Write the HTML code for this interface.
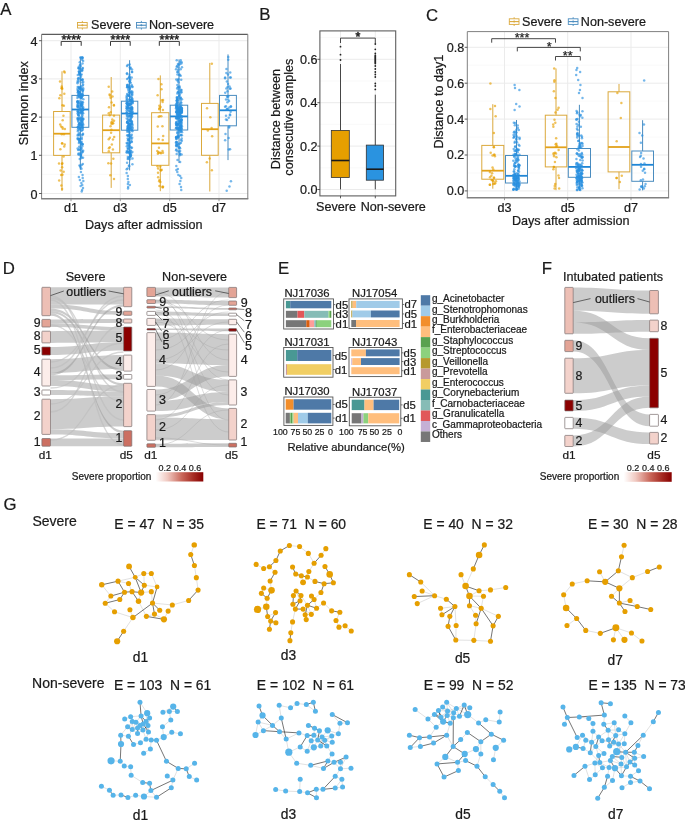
<!DOCTYPE html>
<html><head><meta charset="utf-8"><title>Figure</title>
<style>html,body{margin:0;padding:0;background:#fff;}svg{display:block;will-change:transform;}text{font-family:"Liberation Sans", sans-serif;}</style>
</head><body>
<svg width="685" height="824" viewBox="0 0 685 824" font-family="Liberation Sans, sans-serif">
<rect x="0" y="0" width="685" height="824" fill="#FFFFFF"/>
<g>
<line x1="41.60" y1="174.40" x2="247.80" y2="174.40" stroke="#F5F5F5" stroke-width="0.6"/>
<line x1="41.60" y1="136.20" x2="247.80" y2="136.20" stroke="#F5F5F5" stroke-width="0.6"/>
<line x1="41.60" y1="98.00" x2="247.80" y2="98.00" stroke="#F5F5F5" stroke-width="0.6"/>
<line x1="41.60" y1="59.80" x2="247.80" y2="59.80" stroke="#F5F5F5" stroke-width="0.6"/>
<line x1="41.60" y1="193.50" x2="247.80" y2="193.50" stroke="#EBEBEB" stroke-width="1"/>
<line x1="41.60" y1="155.30" x2="247.80" y2="155.30" stroke="#EBEBEB" stroke-width="1"/>
<line x1="41.60" y1="117.10" x2="247.80" y2="117.10" stroke="#EBEBEB" stroke-width="1"/>
<line x1="41.60" y1="78.90" x2="247.80" y2="78.90" stroke="#EBEBEB" stroke-width="1"/>
<line x1="41.60" y1="40.70" x2="247.80" y2="40.70" stroke="#EBEBEB" stroke-width="1"/>
<line x1="71.00" y1="34.30" x2="71.00" y2="198.80" stroke="#EBEBEB" stroke-width="1"/>
<line x1="120.30" y1="34.30" x2="120.30" y2="198.80" stroke="#EBEBEB" stroke-width="1"/>
<line x1="169.70" y1="34.30" x2="169.70" y2="198.80" stroke="#EBEBEB" stroke-width="1"/>
<line x1="219.00" y1="34.30" x2="219.00" y2="198.80" stroke="#EBEBEB" stroke-width="1"/>
<line x1="62.00" y1="71.30" x2="62.00" y2="111.50" stroke="#DBA93C" stroke-width="1"/>
<line x1="62.00" y1="155.40" x2="62.00" y2="191.00" stroke="#DBA93C" stroke-width="1"/>
<rect x="53.60" y="111.50" width="16.60" height="43.90" fill="none" stroke="#DBA93C" stroke-width="1.0"/>
<line x1="53.60" y1="133.70" x2="70.20" y2="133.70" stroke="#E3A21A" stroke-width="1.8"/>
<line x1="80.35" y1="56.70" x2="80.35" y2="95.40" stroke="#4A8CBF" stroke-width="1"/>
<line x1="80.35" y1="127.30" x2="80.35" y2="169.80" stroke="#4A8CBF" stroke-width="1"/>
<rect x="71.90" y="95.40" width="16.90" height="31.90" fill="none" stroke="#4A8CBF" stroke-width="1.0"/>
<line x1="71.90" y1="109.50" x2="88.80" y2="109.50" stroke="#1F86D6" stroke-width="1.8"/>
<line x1="111.20" y1="77.00" x2="111.20" y2="115.10" stroke="#DBA93C" stroke-width="1"/>
<line x1="111.20" y1="152.80" x2="111.20" y2="187.90" stroke="#DBA93C" stroke-width="1"/>
<rect x="102.60" y="115.10" width="17.10" height="37.70" fill="none" stroke="#DBA93C" stroke-width="1.0"/>
<line x1="102.60" y1="130.20" x2="119.70" y2="130.20" stroke="#E3A21A" stroke-width="1.8"/>
<line x1="129.60" y1="60.20" x2="129.60" y2="101.20" stroke="#4A8CBF" stroke-width="1"/>
<line x1="129.60" y1="130.20" x2="129.60" y2="170.40" stroke="#4A8CBF" stroke-width="1"/>
<rect x="121.40" y="101.20" width="16.40" height="29.00" fill="none" stroke="#4A8CBF" stroke-width="1.0"/>
<line x1="121.40" y1="113.50" x2="137.80" y2="113.50" stroke="#1F86D6" stroke-width="1.8"/>
<line x1="160.30" y1="75.40" x2="160.30" y2="112.70" stroke="#DBA93C" stroke-width="1"/>
<line x1="160.30" y1="165.30" x2="160.30" y2="191.20" stroke="#DBA93C" stroke-width="1"/>
<rect x="151.60" y="112.70" width="17.30" height="52.60" fill="none" stroke="#DBA93C" stroke-width="1.0"/>
<line x1="151.60" y1="143.40" x2="168.90" y2="143.40" stroke="#E3A21A" stroke-width="1.8"/>
<line x1="179.00" y1="59.40" x2="179.00" y2="105.20" stroke="#4A8CBF" stroke-width="1"/>
<line x1="179.00" y1="130.00" x2="179.00" y2="163.00" stroke="#4A8CBF" stroke-width="1"/>
<rect x="170.20" y="105.20" width="17.50" height="24.80" fill="none" stroke="#4A8CBF" stroke-width="1.0"/>
<line x1="170.20" y1="116.40" x2="187.70" y2="116.40" stroke="#1F86D6" stroke-width="1.8"/>
<line x1="209.80" y1="62.90" x2="209.80" y2="103.40" stroke="#DBA93C" stroke-width="1"/>
<line x1="209.80" y1="155.30" x2="209.80" y2="191.50" stroke="#DBA93C" stroke-width="1"/>
<rect x="201.50" y="103.40" width="16.70" height="51.90" fill="none" stroke="#DBA93C" stroke-width="1.0"/>
<line x1="201.50" y1="129.20" x2="218.20" y2="129.20" stroke="#E3A21A" stroke-width="1.8"/>
<line x1="228.00" y1="54.40" x2="228.00" y2="95.40" stroke="#4A8CBF" stroke-width="1"/>
<line x1="228.00" y1="125.80" x2="228.00" y2="160.10" stroke="#4A8CBF" stroke-width="1"/>
<rect x="219.50" y="95.40" width="16.90" height="30.40" fill="none" stroke="#4A8CBF" stroke-width="1.0"/>
<line x1="219.50" y1="110.30" x2="236.40" y2="110.30" stroke="#1F86D6" stroke-width="1.8"/>
<circle cx="61.36" cy="185.57" r="1.25" fill="#E69F00" fill-opacity="0.65"/>
<circle cx="60.02" cy="81.55" r="1.25" fill="#E69F00" fill-opacity="0.65"/>
<circle cx="62.01" cy="143.45" r="1.25" fill="#E69F00" fill-opacity="0.65"/>
<circle cx="64.89" cy="129.01" r="1.25" fill="#E69F00" fill-opacity="0.65"/>
<circle cx="63.62" cy="156.41" r="1.25" fill="#E69F00" fill-opacity="0.65"/>
<circle cx="62.24" cy="88.70" r="1.25" fill="#E69F00" fill-opacity="0.65"/>
<circle cx="64.16" cy="71.38" r="1.25" fill="#E69F00" fill-opacity="0.65"/>
<circle cx="60.39" cy="149.36" r="1.25" fill="#E69F00" fill-opacity="0.65"/>
<circle cx="62.08" cy="189.05" r="1.25" fill="#E69F00" fill-opacity="0.65"/>
<circle cx="64.71" cy="72.53" r="1.25" fill="#E69F00" fill-opacity="0.65"/>
<circle cx="62.47" cy="174.67" r="1.25" fill="#E69F00" fill-opacity="0.65"/>
<circle cx="61.75" cy="86.62" r="1.25" fill="#E69F00" fill-opacity="0.65"/>
<circle cx="60.62" cy="170.43" r="1.25" fill="#E69F00" fill-opacity="0.65"/>
<circle cx="62.29" cy="163.29" r="1.25" fill="#E69F00" fill-opacity="0.65"/>
<circle cx="64.74" cy="144.46" r="1.25" fill="#E69F00" fill-opacity="0.65"/>
<circle cx="59.03" cy="163.62" r="1.25" fill="#E69F00" fill-opacity="0.65"/>
<circle cx="63.70" cy="171.76" r="1.25" fill="#E69F00" fill-opacity="0.65"/>
<circle cx="63.92" cy="134.17" r="1.25" fill="#E69F00" fill-opacity="0.65"/>
<circle cx="64.32" cy="93.67" r="1.25" fill="#E69F00" fill-opacity="0.65"/>
<circle cx="63.44" cy="115.63" r="1.25" fill="#E69F00" fill-opacity="0.65"/>
<circle cx="63.85" cy="105.87" r="1.25" fill="#E69F00" fill-opacity="0.65"/>
<circle cx="62.11" cy="167.24" r="1.25" fill="#E69F00" fill-opacity="0.65"/>
<circle cx="62.37" cy="127.29" r="1.25" fill="#E69F00" fill-opacity="0.65"/>
<circle cx="61.56" cy="88.27" r="1.25" fill="#E69F00" fill-opacity="0.65"/>
<circle cx="59.34" cy="98.25" r="1.25" fill="#E69F00" fill-opacity="0.65"/>
<circle cx="64.22" cy="146.45" r="1.25" fill="#E69F00" fill-opacity="0.65"/>
<circle cx="62.42" cy="105.32" r="1.25" fill="#E69F00" fill-opacity="0.65"/>
<circle cx="60.20" cy="124.58" r="1.25" fill="#E69F00" fill-opacity="0.65"/>
<circle cx="62.03" cy="164.04" r="1.25" fill="#E69F00" fill-opacity="0.65"/>
<circle cx="61.91" cy="87.96" r="1.25" fill="#E69F00" fill-opacity="0.65"/>
<circle cx="61.14" cy="174.94" r="1.25" fill="#E69F00" fill-opacity="0.65"/>
<circle cx="61.08" cy="126.47" r="1.25" fill="#E69F00" fill-opacity="0.65"/>
<circle cx="62.23" cy="143.23" r="1.25" fill="#E69F00" fill-opacity="0.65"/>
<circle cx="62.74" cy="128.78" r="1.25" fill="#E69F00" fill-opacity="0.65"/>
<circle cx="62.67" cy="120.23" r="1.25" fill="#E69F00" fill-opacity="0.65"/>
<circle cx="61.75" cy="134.34" r="1.25" fill="#E69F00" fill-opacity="0.65"/>
<circle cx="59.17" cy="180.44" r="1.25" fill="#E69F00" fill-opacity="0.65"/>
<circle cx="60.38" cy="95.15" r="1.25" fill="#E69F00" fill-opacity="0.65"/>
<circle cx="82.24" cy="152.14" r="1.25" fill="#2A90E0" fill-opacity="0.65"/>
<circle cx="80.98" cy="87.60" r="1.25" fill="#2A90E0" fill-opacity="0.65"/>
<circle cx="79.45" cy="88.30" r="1.25" fill="#2A90E0" fill-opacity="0.65"/>
<circle cx="78.94" cy="124.48" r="1.25" fill="#2A90E0" fill-opacity="0.65"/>
<circle cx="81.60" cy="96.57" r="1.25" fill="#2A90E0" fill-opacity="0.65"/>
<circle cx="82.59" cy="127.92" r="1.25" fill="#2A90E0" fill-opacity="0.65"/>
<circle cx="80.62" cy="66.36" r="1.25" fill="#2A90E0" fill-opacity="0.65"/>
<circle cx="78.26" cy="153.85" r="1.25" fill="#2A90E0" fill-opacity="0.65"/>
<circle cx="82.35" cy="110.74" r="1.25" fill="#2A90E0" fill-opacity="0.65"/>
<circle cx="80.26" cy="149.71" r="1.25" fill="#2A90E0" fill-opacity="0.65"/>
<circle cx="80.15" cy="138.90" r="1.25" fill="#2A90E0" fill-opacity="0.65"/>
<circle cx="77.62" cy="101.81" r="1.25" fill="#2A90E0" fill-opacity="0.65"/>
<circle cx="80.41" cy="117.93" r="1.25" fill="#2A90E0" fill-opacity="0.65"/>
<circle cx="81.82" cy="143.73" r="1.25" fill="#2A90E0" fill-opacity="0.65"/>
<circle cx="79.89" cy="112.85" r="1.25" fill="#2A90E0" fill-opacity="0.65"/>
<circle cx="79.48" cy="165.54" r="1.25" fill="#2A90E0" fill-opacity="0.65"/>
<circle cx="81.29" cy="98.35" r="1.25" fill="#2A90E0" fill-opacity="0.65"/>
<circle cx="77.47" cy="106.92" r="1.25" fill="#2A90E0" fill-opacity="0.65"/>
<circle cx="80.39" cy="128.06" r="1.25" fill="#2A90E0" fill-opacity="0.65"/>
<circle cx="83.03" cy="157.85" r="1.25" fill="#2A90E0" fill-opacity="0.65"/>
<circle cx="81.49" cy="157.25" r="1.25" fill="#2A90E0" fill-opacity="0.65"/>
<circle cx="79.76" cy="103.08" r="1.25" fill="#2A90E0" fill-opacity="0.65"/>
<circle cx="81.48" cy="168.76" r="1.25" fill="#2A90E0" fill-opacity="0.65"/>
<circle cx="80.98" cy="76.69" r="1.25" fill="#2A90E0" fill-opacity="0.65"/>
<circle cx="78.60" cy="154.86" r="1.25" fill="#2A90E0" fill-opacity="0.65"/>
<circle cx="78.60" cy="119.75" r="1.25" fill="#2A90E0" fill-opacity="0.65"/>
<circle cx="82.67" cy="120.73" r="1.25" fill="#2A90E0" fill-opacity="0.65"/>
<circle cx="78.96" cy="139.99" r="1.25" fill="#2A90E0" fill-opacity="0.65"/>
<circle cx="77.80" cy="90.58" r="1.25" fill="#2A90E0" fill-opacity="0.65"/>
<circle cx="82.33" cy="124.78" r="1.25" fill="#2A90E0" fill-opacity="0.65"/>
<circle cx="80.49" cy="126.22" r="1.25" fill="#2A90E0" fill-opacity="0.65"/>
<circle cx="79.56" cy="101.27" r="1.25" fill="#2A90E0" fill-opacity="0.65"/>
<circle cx="80.42" cy="109.65" r="1.25" fill="#2A90E0" fill-opacity="0.65"/>
<circle cx="81.77" cy="58.17" r="1.25" fill="#2A90E0" fill-opacity="0.65"/>
<circle cx="78.36" cy="93.94" r="1.25" fill="#2A90E0" fill-opacity="0.65"/>
<circle cx="81.27" cy="97.82" r="1.25" fill="#2A90E0" fill-opacity="0.65"/>
<circle cx="81.63" cy="94.39" r="1.25" fill="#2A90E0" fill-opacity="0.65"/>
<circle cx="82.24" cy="102.58" r="1.25" fill="#2A90E0" fill-opacity="0.65"/>
<circle cx="78.97" cy="115.68" r="1.25" fill="#2A90E0" fill-opacity="0.65"/>
<circle cx="81.01" cy="155.95" r="1.25" fill="#2A90E0" fill-opacity="0.65"/>
<circle cx="78.74" cy="112.96" r="1.25" fill="#2A90E0" fill-opacity="0.65"/>
<circle cx="80.72" cy="155.60" r="1.25" fill="#2A90E0" fill-opacity="0.65"/>
<circle cx="78.38" cy="118.40" r="1.25" fill="#2A90E0" fill-opacity="0.65"/>
<circle cx="82.09" cy="125.01" r="1.25" fill="#2A90E0" fill-opacity="0.65"/>
<circle cx="82.55" cy="57.40" r="1.25" fill="#2A90E0" fill-opacity="0.65"/>
<circle cx="79.33" cy="141.23" r="1.25" fill="#2A90E0" fill-opacity="0.65"/>
<circle cx="78.68" cy="86.99" r="1.25" fill="#2A90E0" fill-opacity="0.65"/>
<circle cx="83.13" cy="113.29" r="1.25" fill="#2A90E0" fill-opacity="0.65"/>
<circle cx="81.59" cy="107.21" r="1.25" fill="#2A90E0" fill-opacity="0.65"/>
<circle cx="82.41" cy="70.01" r="1.25" fill="#2A90E0" fill-opacity="0.65"/>
<circle cx="77.53" cy="83.29" r="1.25" fill="#2A90E0" fill-opacity="0.65"/>
<circle cx="82.75" cy="127.04" r="1.25" fill="#2A90E0" fill-opacity="0.65"/>
<circle cx="81.08" cy="158.13" r="1.25" fill="#2A90E0" fill-opacity="0.65"/>
<circle cx="79.25" cy="134.51" r="1.25" fill="#2A90E0" fill-opacity="0.65"/>
<circle cx="79.94" cy="64.94" r="1.25" fill="#2A90E0" fill-opacity="0.65"/>
<circle cx="81.92" cy="79.93" r="1.25" fill="#2A90E0" fill-opacity="0.65"/>
<circle cx="82.06" cy="70.95" r="1.25" fill="#2A90E0" fill-opacity="0.65"/>
<circle cx="78.49" cy="114.68" r="1.25" fill="#2A90E0" fill-opacity="0.65"/>
<circle cx="81.11" cy="80.07" r="1.25" fill="#2A90E0" fill-opacity="0.65"/>
<circle cx="78.34" cy="91.04" r="1.25" fill="#2A90E0" fill-opacity="0.65"/>
<circle cx="83.19" cy="150.72" r="1.25" fill="#2A90E0" fill-opacity="0.65"/>
<circle cx="80.01" cy="128.96" r="1.25" fill="#2A90E0" fill-opacity="0.65"/>
<circle cx="82.83" cy="164.11" r="1.25" fill="#2A90E0" fill-opacity="0.65"/>
<circle cx="81.72" cy="88.76" r="1.25" fill="#2A90E0" fill-opacity="0.65"/>
<circle cx="80.99" cy="120.45" r="1.25" fill="#2A90E0" fill-opacity="0.65"/>
<circle cx="78.92" cy="71.33" r="1.25" fill="#2A90E0" fill-opacity="0.65"/>
<circle cx="80.51" cy="98.55" r="1.25" fill="#2A90E0" fill-opacity="0.65"/>
<circle cx="78.18" cy="138.64" r="1.25" fill="#2A90E0" fill-opacity="0.65"/>
<circle cx="78.18" cy="78.54" r="1.25" fill="#2A90E0" fill-opacity="0.65"/>
<circle cx="81.64" cy="74.42" r="1.25" fill="#2A90E0" fill-opacity="0.65"/>
<circle cx="79.52" cy="123.51" r="1.25" fill="#2A90E0" fill-opacity="0.65"/>
<circle cx="81.86" cy="57.18" r="1.25" fill="#2A90E0" fill-opacity="0.65"/>
<circle cx="78.79" cy="96.69" r="1.25" fill="#2A90E0" fill-opacity="0.65"/>
<circle cx="81.66" cy="164.92" r="1.25" fill="#2A90E0" fill-opacity="0.65"/>
<circle cx="81.66" cy="137.48" r="1.25" fill="#2A90E0" fill-opacity="0.65"/>
<circle cx="79.18" cy="72.99" r="1.25" fill="#2A90E0" fill-opacity="0.65"/>
<circle cx="77.99" cy="134.41" r="1.25" fill="#2A90E0" fill-opacity="0.65"/>
<circle cx="79.73" cy="158.92" r="1.25" fill="#2A90E0" fill-opacity="0.65"/>
<circle cx="80.30" cy="166.01" r="1.25" fill="#2A90E0" fill-opacity="0.65"/>
<circle cx="77.95" cy="126.77" r="1.25" fill="#2A90E0" fill-opacity="0.65"/>
<circle cx="78.47" cy="68.08" r="1.25" fill="#2A90E0" fill-opacity="0.65"/>
<circle cx="77.68" cy="117.99" r="1.25" fill="#2A90E0" fill-opacity="0.65"/>
<circle cx="80.94" cy="155.01" r="1.25" fill="#2A90E0" fill-opacity="0.65"/>
<circle cx="82.68" cy="127.75" r="1.25" fill="#2A90E0" fill-opacity="0.65"/>
<circle cx="78.65" cy="68.14" r="1.25" fill="#2A90E0" fill-opacity="0.65"/>
<circle cx="77.56" cy="101.74" r="1.25" fill="#2A90E0" fill-opacity="0.65"/>
<circle cx="81.57" cy="110.62" r="1.25" fill="#2A90E0" fill-opacity="0.65"/>
<circle cx="82.24" cy="94.23" r="1.25" fill="#2A90E0" fill-opacity="0.65"/>
<circle cx="83.13" cy="61.01" r="1.25" fill="#2A90E0" fill-opacity="0.65"/>
<circle cx="81.03" cy="153.56" r="1.25" fill="#2A90E0" fill-opacity="0.65"/>
<circle cx="79.40" cy="77.71" r="1.25" fill="#2A90E0" fill-opacity="0.65"/>
<circle cx="82.38" cy="104.73" r="1.25" fill="#2A90E0" fill-opacity="0.65"/>
<circle cx="78.06" cy="119.14" r="1.25" fill="#2A90E0" fill-opacity="0.65"/>
<circle cx="81.51" cy="113.89" r="1.25" fill="#2A90E0" fill-opacity="0.65"/>
<circle cx="77.92" cy="139.23" r="1.25" fill="#2A90E0" fill-opacity="0.65"/>
<circle cx="79.75" cy="74.03" r="1.25" fill="#2A90E0" fill-opacity="0.65"/>
<circle cx="80.32" cy="104.47" r="1.25" fill="#2A90E0" fill-opacity="0.65"/>
<circle cx="79.62" cy="71.81" r="1.25" fill="#2A90E0" fill-opacity="0.65"/>
<circle cx="78.36" cy="115.32" r="1.25" fill="#2A90E0" fill-opacity="0.65"/>
<circle cx="78.74" cy="124.58" r="1.25" fill="#2A90E0" fill-opacity="0.65"/>
<circle cx="82.27" cy="68.42" r="1.25" fill="#2A90E0" fill-opacity="0.65"/>
<circle cx="80.13" cy="119.19" r="1.25" fill="#2A90E0" fill-opacity="0.65"/>
<circle cx="80.83" cy="103.80" r="1.25" fill="#2A90E0" fill-opacity="0.65"/>
<circle cx="78.62" cy="128.17" r="1.25" fill="#2A90E0" fill-opacity="0.65"/>
<circle cx="81.64" cy="130.37" r="1.25" fill="#2A90E0" fill-opacity="0.65"/>
<circle cx="79.33" cy="96.40" r="1.25" fill="#2A90E0" fill-opacity="0.65"/>
<circle cx="80.91" cy="154.30" r="1.25" fill="#2A90E0" fill-opacity="0.65"/>
<circle cx="82.81" cy="123.60" r="1.25" fill="#2A90E0" fill-opacity="0.65"/>
<circle cx="83.32" cy="124.86" r="1.25" fill="#2A90E0" fill-opacity="0.65"/>
<circle cx="77.63" cy="148.61" r="1.25" fill="#2A90E0" fill-opacity="0.65"/>
<circle cx="82.13" cy="59.68" r="1.25" fill="#2A90E0" fill-opacity="0.65"/>
<circle cx="82.50" cy="63.40" r="1.25" fill="#2A90E0" fill-opacity="0.65"/>
<circle cx="79.27" cy="94.82" r="1.25" fill="#2A90E0" fill-opacity="0.65"/>
<circle cx="79.65" cy="69.08" r="1.25" fill="#2A90E0" fill-opacity="0.65"/>
<circle cx="80.83" cy="149.16" r="1.25" fill="#2A90E0" fill-opacity="0.65"/>
<circle cx="82.86" cy="68.06" r="1.25" fill="#2A90E0" fill-opacity="0.65"/>
<circle cx="79.75" cy="62.18" r="1.25" fill="#2A90E0" fill-opacity="0.65"/>
<circle cx="82.63" cy="57.93" r="1.25" fill="#2A90E0" fill-opacity="0.65"/>
<circle cx="81.90" cy="125.57" r="1.25" fill="#2A90E0" fill-opacity="0.65"/>
<circle cx="78.26" cy="91.81" r="1.25" fill="#2A90E0" fill-opacity="0.65"/>
<circle cx="82.83" cy="85.58" r="1.25" fill="#2A90E0" fill-opacity="0.65"/>
<circle cx="77.44" cy="97.91" r="1.25" fill="#2A90E0" fill-opacity="0.65"/>
<circle cx="78.22" cy="112.31" r="1.25" fill="#2A90E0" fill-opacity="0.65"/>
<circle cx="81.34" cy="104.82" r="1.25" fill="#2A90E0" fill-opacity="0.65"/>
<circle cx="77.69" cy="110.65" r="1.25" fill="#2A90E0" fill-opacity="0.65"/>
<circle cx="79.63" cy="87.98" r="1.25" fill="#2A90E0" fill-opacity="0.65"/>
<circle cx="78.13" cy="103.03" r="1.25" fill="#2A90E0" fill-opacity="0.65"/>
<circle cx="80.13" cy="74.24" r="1.25" fill="#2A90E0" fill-opacity="0.65"/>
<circle cx="82.39" cy="115.53" r="1.25" fill="#2A90E0" fill-opacity="0.65"/>
<circle cx="82.79" cy="109.93" r="1.25" fill="#2A90E0" fill-opacity="0.65"/>
<circle cx="77.56" cy="101.28" r="1.25" fill="#2A90E0" fill-opacity="0.65"/>
<circle cx="77.72" cy="96.28" r="1.25" fill="#2A90E0" fill-opacity="0.65"/>
<circle cx="82.39" cy="111.96" r="1.25" fill="#2A90E0" fill-opacity="0.65"/>
<circle cx="77.61" cy="138.31" r="1.25" fill="#2A90E0" fill-opacity="0.65"/>
<circle cx="78.99" cy="72.09" r="1.25" fill="#2A90E0" fill-opacity="0.65"/>
<circle cx="78.05" cy="120.40" r="1.25" fill="#2A90E0" fill-opacity="0.65"/>
<circle cx="77.90" cy="127.62" r="1.25" fill="#2A90E0" fill-opacity="0.65"/>
<circle cx="77.52" cy="102.46" r="1.25" fill="#2A90E0" fill-opacity="0.65"/>
<circle cx="81.18" cy="101.58" r="1.25" fill="#2A90E0" fill-opacity="0.65"/>
<circle cx="81.82" cy="105.71" r="1.25" fill="#2A90E0" fill-opacity="0.65"/>
<circle cx="81.47" cy="148.34" r="1.25" fill="#2A90E0" fill-opacity="0.65"/>
<circle cx="82.42" cy="113.51" r="1.25" fill="#2A90E0" fill-opacity="0.65"/>
<circle cx="81.33" cy="119.48" r="1.25" fill="#2A90E0" fill-opacity="0.65"/>
<circle cx="79.69" cy="92.22" r="1.25" fill="#2A90E0" fill-opacity="0.65"/>
<circle cx="81.14" cy="121.01" r="1.25" fill="#2A90E0" fill-opacity="0.65"/>
<circle cx="83.17" cy="119.21" r="1.25" fill="#2A90E0" fill-opacity="0.65"/>
<circle cx="81.20" cy="112.53" r="1.25" fill="#2A90E0" fill-opacity="0.65"/>
<circle cx="78.81" cy="66.75" r="1.25" fill="#2A90E0" fill-opacity="0.65"/>
<circle cx="77.71" cy="106.35" r="1.25" fill="#2A90E0" fill-opacity="0.65"/>
<circle cx="82.96" cy="133.75" r="1.25" fill="#2A90E0" fill-opacity="0.65"/>
<circle cx="80.89" cy="147.43" r="1.25" fill="#2A90E0" fill-opacity="0.65"/>
<circle cx="79.45" cy="126.44" r="1.25" fill="#2A90E0" fill-opacity="0.65"/>
<circle cx="80.98" cy="97.37" r="1.25" fill="#2A90E0" fill-opacity="0.65"/>
<circle cx="80.71" cy="95.14" r="1.25" fill="#2A90E0" fill-opacity="0.65"/>
<circle cx="80.48" cy="71.44" r="1.25" fill="#2A90E0" fill-opacity="0.65"/>
<circle cx="77.71" cy="87.00" r="1.25" fill="#2A90E0" fill-opacity="0.65"/>
<circle cx="79.47" cy="139.14" r="1.25" fill="#2A90E0" fill-opacity="0.65"/>
<circle cx="79.83" cy="107.10" r="1.25" fill="#2A90E0" fill-opacity="0.65"/>
<circle cx="78.55" cy="81.49" r="1.25" fill="#2A90E0" fill-opacity="0.65"/>
<circle cx="82.63" cy="144.34" r="1.25" fill="#2A90E0" fill-opacity="0.65"/>
<circle cx="79.89" cy="74.51" r="1.25" fill="#2A90E0" fill-opacity="0.65"/>
<circle cx="81.32" cy="142.79" r="1.25" fill="#2A90E0" fill-opacity="0.65"/>
<circle cx="81.63" cy="102.74" r="1.25" fill="#2A90E0" fill-opacity="0.65"/>
<circle cx="81.81" cy="118.46" r="1.25" fill="#2A90E0" fill-opacity="0.65"/>
<circle cx="81.68" cy="127.45" r="1.25" fill="#2A90E0" fill-opacity="0.65"/>
<circle cx="81.86" cy="116.43" r="1.25" fill="#2A90E0" fill-opacity="0.65"/>
<circle cx="78.86" cy="143.08" r="1.25" fill="#2A90E0" fill-opacity="0.65"/>
<circle cx="83.21" cy="109.92" r="1.25" fill="#2A90E0" fill-opacity="0.65"/>
<circle cx="78.26" cy="102.66" r="1.25" fill="#2A90E0" fill-opacity="0.65"/>
<circle cx="82.86" cy="95.65" r="1.25" fill="#2A90E0" fill-opacity="0.65"/>
<circle cx="82.48" cy="79.27" r="1.25" fill="#2A90E0" fill-opacity="0.65"/>
<circle cx="82.46" cy="94.97" r="1.25" fill="#2A90E0" fill-opacity="0.65"/>
<circle cx="77.67" cy="135.44" r="1.25" fill="#2A90E0" fill-opacity="0.65"/>
<circle cx="77.90" cy="131.30" r="1.25" fill="#2A90E0" fill-opacity="0.65"/>
<circle cx="82.23" cy="146.25" r="1.25" fill="#2A90E0" fill-opacity="0.65"/>
<circle cx="80.17" cy="128.34" r="1.25" fill="#2A90E0" fill-opacity="0.65"/>
<circle cx="79.57" cy="122.73" r="1.25" fill="#2A90E0" fill-opacity="0.65"/>
<circle cx="83.26" cy="81.99" r="1.25" fill="#2A90E0" fill-opacity="0.65"/>
<circle cx="77.59" cy="104.42" r="1.25" fill="#2A90E0" fill-opacity="0.65"/>
<circle cx="80.54" cy="167.49" r="1.25" fill="#2A90E0" fill-opacity="0.65"/>
<circle cx="80.01" cy="123.49" r="1.25" fill="#2A90E0" fill-opacity="0.65"/>
<circle cx="78.12" cy="106.61" r="1.25" fill="#2A90E0" fill-opacity="0.65"/>
<circle cx="79.72" cy="117.67" r="1.25" fill="#2A90E0" fill-opacity="0.65"/>
<circle cx="81.60" cy="69.84" r="1.25" fill="#2A90E0" fill-opacity="0.65"/>
<circle cx="82.64" cy="92.05" r="1.25" fill="#2A90E0" fill-opacity="0.65"/>
<circle cx="77.50" cy="82.11" r="1.25" fill="#2A90E0" fill-opacity="0.65"/>
<circle cx="80.50" cy="64.77" r="1.25" fill="#2A90E0" fill-opacity="0.65"/>
<circle cx="77.89" cy="129.80" r="1.25" fill="#2A90E0" fill-opacity="0.65"/>
<circle cx="82.15" cy="135.00" r="1.25" fill="#2A90E0" fill-opacity="0.65"/>
<circle cx="77.86" cy="105.81" r="1.25" fill="#2A90E0" fill-opacity="0.65"/>
<circle cx="77.56" cy="118.65" r="1.25" fill="#2A90E0" fill-opacity="0.65"/>
<circle cx="79.66" cy="88.43" r="1.25" fill="#2A90E0" fill-opacity="0.65"/>
<circle cx="81.75" cy="121.46" r="1.25" fill="#2A90E0" fill-opacity="0.65"/>
<circle cx="79.23" cy="129.65" r="1.25" fill="#2A90E0" fill-opacity="0.65"/>
<circle cx="78.13" cy="150.03" r="1.25" fill="#2A90E0" fill-opacity="0.65"/>
<circle cx="82.12" cy="150.72" r="1.25" fill="#2A90E0" fill-opacity="0.65"/>
<circle cx="82.19" cy="122.38" r="1.25" fill="#2A90E0" fill-opacity="0.65"/>
<circle cx="82.49" cy="106.84" r="1.25" fill="#2A90E0" fill-opacity="0.65"/>
<circle cx="79.17" cy="92.22" r="1.25" fill="#2A90E0" fill-opacity="0.65"/>
<circle cx="79.90" cy="96.83" r="1.25" fill="#2A90E0" fill-opacity="0.65"/>
<circle cx="78.82" cy="125.79" r="1.25" fill="#2A90E0" fill-opacity="0.65"/>
<circle cx="80.69" cy="124.44" r="1.25" fill="#2A90E0" fill-opacity="0.65"/>
<circle cx="79.33" cy="109.99" r="1.25" fill="#2A90E0" fill-opacity="0.65"/>
<circle cx="79.38" cy="153.45" r="1.25" fill="#2A90E0" fill-opacity="0.65"/>
<circle cx="82.05" cy="126.63" r="1.25" fill="#2A90E0" fill-opacity="0.65"/>
<circle cx="83.09" cy="109.93" r="1.25" fill="#2A90E0" fill-opacity="0.65"/>
<circle cx="80.85" cy="105.50" r="1.25" fill="#2A90E0" fill-opacity="0.65"/>
<circle cx="77.98" cy="111.54" r="1.25" fill="#2A90E0" fill-opacity="0.65"/>
<circle cx="81.27" cy="89.64" r="1.25" fill="#2A90E0" fill-opacity="0.65"/>
<circle cx="80.04" cy="89.00" r="1.25" fill="#2A90E0" fill-opacity="0.65"/>
<circle cx="83.28" cy="118.68" r="1.25" fill="#2A90E0" fill-opacity="0.65"/>
<circle cx="81.67" cy="97.26" r="1.25" fill="#2A90E0" fill-opacity="0.65"/>
<circle cx="82.36" cy="103.83" r="1.25" fill="#2A90E0" fill-opacity="0.65"/>
<circle cx="81.56" cy="141.73" r="1.25" fill="#2A90E0" fill-opacity="0.65"/>
<circle cx="80.56" cy="105.46" r="1.25" fill="#2A90E0" fill-opacity="0.65"/>
<circle cx="82.73" cy="144.19" r="1.25" fill="#2A90E0" fill-opacity="0.65"/>
<circle cx="82.34" cy="109.32" r="1.25" fill="#2A90E0" fill-opacity="0.65"/>
<circle cx="79.10" cy="149.56" r="1.25" fill="#2A90E0" fill-opacity="0.65"/>
<circle cx="78.29" cy="121.76" r="1.25" fill="#2A90E0" fill-opacity="0.65"/>
<circle cx="79.57" cy="72.72" r="1.25" fill="#2A90E0" fill-opacity="0.65"/>
<circle cx="80.48" cy="142.21" r="1.25" fill="#2A90E0" fill-opacity="0.65"/>
<circle cx="77.93" cy="105.17" r="1.25" fill="#2A90E0" fill-opacity="0.65"/>
<circle cx="79.42" cy="68.41" r="1.25" fill="#2A90E0" fill-opacity="0.65"/>
<circle cx="80.80" cy="112.50" r="1.25" fill="#2A90E0" fill-opacity="0.65"/>
<circle cx="77.61" cy="113.60" r="1.25" fill="#2A90E0" fill-opacity="0.65"/>
<circle cx="82.24" cy="82.50" r="1.25" fill="#2A90E0" fill-opacity="0.65"/>
<circle cx="81.26" cy="96.80" r="1.25" fill="#2A90E0" fill-opacity="0.65"/>
<circle cx="79.23" cy="123.95" r="1.25" fill="#2A90E0" fill-opacity="0.65"/>
<circle cx="79.14" cy="146.80" r="1.25" fill="#2A90E0" fill-opacity="0.65"/>
<circle cx="79.47" cy="139.63" r="1.25" fill="#2A90E0" fill-opacity="0.65"/>
<circle cx="79.30" cy="141.79" r="1.25" fill="#2A90E0" fill-opacity="0.65"/>
<circle cx="81.84" cy="139.10" r="1.25" fill="#2A90E0" fill-opacity="0.65"/>
<circle cx="80.36" cy="57.52" r="1.25" fill="#2A90E0" fill-opacity="0.65"/>
<circle cx="80.51" cy="94.30" r="1.25" fill="#2A90E0" fill-opacity="0.65"/>
<circle cx="78.24" cy="114.44" r="1.25" fill="#2A90E0" fill-opacity="0.65"/>
<circle cx="82.84" cy="129.84" r="1.25" fill="#2A90E0" fill-opacity="0.65"/>
<circle cx="79.30" cy="133.04" r="1.25" fill="#2A90E0" fill-opacity="0.65"/>
<circle cx="79.32" cy="93.28" r="1.25" fill="#2A90E0" fill-opacity="0.65"/>
<circle cx="77.76" cy="101.54" r="1.25" fill="#2A90E0" fill-opacity="0.65"/>
<circle cx="83.23" cy="89.85" r="1.25" fill="#2A90E0" fill-opacity="0.65"/>
<circle cx="80.23" cy="109.13" r="1.25" fill="#2A90E0" fill-opacity="0.65"/>
<circle cx="82.83" cy="108.65" r="1.25" fill="#2A90E0" fill-opacity="0.65"/>
<circle cx="82.92" cy="109.35" r="1.25" fill="#2A90E0" fill-opacity="0.65"/>
<circle cx="83.17" cy="88.13" r="1.25" fill="#2A90E0" fill-opacity="0.65"/>
<circle cx="82.24" cy="119.73" r="1.25" fill="#2A90E0" fill-opacity="0.65"/>
<circle cx="82.90" cy="102.37" r="1.25" fill="#2A90E0" fill-opacity="0.65"/>
<circle cx="82.88" cy="134.60" r="1.25" fill="#2A90E0" fill-opacity="0.65"/>
<circle cx="82.16" cy="117.77" r="1.25" fill="#2A90E0" fill-opacity="0.65"/>
<circle cx="78.16" cy="78.45" r="1.25" fill="#2A90E0" fill-opacity="0.65"/>
<circle cx="80.49" cy="79.32" r="1.25" fill="#2A90E0" fill-opacity="0.65"/>
<circle cx="80.80" cy="111.35" r="1.25" fill="#2A90E0" fill-opacity="0.65"/>
<circle cx="83.30" cy="99.35" r="1.25" fill="#2A90E0" fill-opacity="0.65"/>
<circle cx="82.05" cy="121.91" r="1.25" fill="#2A90E0" fill-opacity="0.65"/>
<circle cx="81.57" cy="130.79" r="1.25" fill="#2A90E0" fill-opacity="0.65"/>
<circle cx="81.83" cy="110.02" r="1.25" fill="#2A90E0" fill-opacity="0.65"/>
<circle cx="79.52" cy="74.24" r="1.25" fill="#2A90E0" fill-opacity="0.65"/>
<circle cx="83.00" cy="84.50" r="1.25" fill="#2A90E0" fill-opacity="0.65"/>
<circle cx="81.21" cy="124.62" r="1.25" fill="#2A90E0" fill-opacity="0.65"/>
<circle cx="79.77" cy="87.53" r="1.25" fill="#2A90E0" fill-opacity="0.65"/>
<circle cx="80.14" cy="138.79" r="1.25" fill="#2A90E0" fill-opacity="0.65"/>
<circle cx="83.23" cy="107.60" r="1.25" fill="#2A90E0" fill-opacity="0.65"/>
<circle cx="80.54" cy="123.23" r="1.25" fill="#2A90E0" fill-opacity="0.65"/>
<circle cx="78.36" cy="91.01" r="1.25" fill="#2A90E0" fill-opacity="0.65"/>
<circle cx="78.24" cy="107.41" r="1.25" fill="#2A90E0" fill-opacity="0.65"/>
<circle cx="81.47" cy="105.14" r="1.25" fill="#2A90E0" fill-opacity="0.65"/>
<circle cx="80.73" cy="124.67" r="1.25" fill="#2A90E0" fill-opacity="0.65"/>
<circle cx="82.79" cy="90.74" r="1.25" fill="#2A90E0" fill-opacity="0.65"/>
<circle cx="78.46" cy="91.87" r="1.25" fill="#2A90E0" fill-opacity="0.65"/>
<circle cx="79.82" cy="108.39" r="1.25" fill="#2A90E0" fill-opacity="0.65"/>
<circle cx="81.72" cy="111.21" r="1.25" fill="#2A90E0" fill-opacity="0.65"/>
<circle cx="77.65" cy="92.59" r="1.25" fill="#2A90E0" fill-opacity="0.65"/>
<circle cx="77.95" cy="127.35" r="1.25" fill="#2A90E0" fill-opacity="0.65"/>
<circle cx="80.62" cy="75.07" r="1.25" fill="#2A90E0" fill-opacity="0.65"/>
<circle cx="78.94" cy="138.93" r="1.25" fill="#2A90E0" fill-opacity="0.65"/>
<circle cx="77.99" cy="80.14" r="1.25" fill="#2A90E0" fill-opacity="0.65"/>
<circle cx="78.92" cy="92.28" r="1.25" fill="#2A90E0" fill-opacity="0.65"/>
<circle cx="81.14" cy="144.67" r="1.25" fill="#2A90E0" fill-opacity="0.65"/>
<circle cx="80.51" cy="88.69" r="1.25" fill="#2A90E0" fill-opacity="0.65"/>
<circle cx="77.82" cy="74.91" r="1.25" fill="#2A90E0" fill-opacity="0.65"/>
<circle cx="77.79" cy="111.50" r="1.25" fill="#2A90E0" fill-opacity="0.65"/>
<circle cx="82.45" cy="90.26" r="1.25" fill="#2A90E0" fill-opacity="0.65"/>
<circle cx="81.21" cy="86.14" r="1.25" fill="#2A90E0" fill-opacity="0.65"/>
<circle cx="78.39" cy="94.83" r="1.25" fill="#2A90E0" fill-opacity="0.65"/>
<circle cx="82.52" cy="93.94" r="1.25" fill="#2A90E0" fill-opacity="0.65"/>
<circle cx="77.48" cy="89.10" r="1.25" fill="#2A90E0" fill-opacity="0.65"/>
<circle cx="79.56" cy="87.98" r="1.25" fill="#2A90E0" fill-opacity="0.65"/>
<circle cx="82.44" cy="152.07" r="1.25" fill="#2A90E0" fill-opacity="0.65"/>
<circle cx="81.61" cy="95.44" r="1.25" fill="#2A90E0" fill-opacity="0.65"/>
<circle cx="79.05" cy="135.15" r="1.25" fill="#2A90E0" fill-opacity="0.65"/>
<circle cx="82.70" cy="80.11" r="1.25" fill="#2A90E0" fill-opacity="0.65"/>
<circle cx="80.94" cy="172.00" r="1.25" fill="#2A90E0" fill-opacity="0.65"/>
<circle cx="82.54" cy="175.00" r="1.25" fill="#2A90E0" fill-opacity="0.65"/>
<circle cx="82.71" cy="178.00" r="1.25" fill="#2A90E0" fill-opacity="0.65"/>
<circle cx="79.90" cy="180.00" r="1.25" fill="#2A90E0" fill-opacity="0.65"/>
<circle cx="81.40" cy="183.00" r="1.25" fill="#2A90E0" fill-opacity="0.65"/>
<circle cx="80.62" cy="186.00" r="1.25" fill="#2A90E0" fill-opacity="0.65"/>
<circle cx="83.02" cy="188.00" r="1.25" fill="#2A90E0" fill-opacity="0.65"/>
<circle cx="82.14" cy="190.00" r="1.25" fill="#2A90E0" fill-opacity="0.65"/>
<circle cx="81.70" cy="191.50" r="1.25" fill="#2A90E0" fill-opacity="0.65"/>
<circle cx="82.23" cy="185.00" r="1.25" fill="#2A90E0" fill-opacity="0.65"/>
<circle cx="83.34" cy="181.00" r="1.25" fill="#2A90E0" fill-opacity="0.65"/>
<circle cx="78.89" cy="177.00" r="1.25" fill="#2A90E0" fill-opacity="0.65"/>
<circle cx="114.03" cy="179.01" r="1.25" fill="#E69F00" fill-opacity="0.65"/>
<circle cx="112.50" cy="96.59" r="1.25" fill="#E69F00" fill-opacity="0.65"/>
<circle cx="108.75" cy="139.32" r="1.25" fill="#E69F00" fill-opacity="0.65"/>
<circle cx="108.98" cy="107.34" r="1.25" fill="#E69F00" fill-opacity="0.65"/>
<circle cx="114.00" cy="115.71" r="1.25" fill="#E69F00" fill-opacity="0.65"/>
<circle cx="109.58" cy="94.47" r="1.25" fill="#E69F00" fill-opacity="0.65"/>
<circle cx="108.36" cy="163.31" r="1.25" fill="#E69F00" fill-opacity="0.65"/>
<circle cx="109.72" cy="115.18" r="1.25" fill="#E69F00" fill-opacity="0.65"/>
<circle cx="111.08" cy="163.42" r="1.25" fill="#E69F00" fill-opacity="0.65"/>
<circle cx="113.91" cy="105.46" r="1.25" fill="#E69F00" fill-opacity="0.65"/>
<circle cx="110.59" cy="97.69" r="1.25" fill="#E69F00" fill-opacity="0.65"/>
<circle cx="112.54" cy="123.43" r="1.25" fill="#E69F00" fill-opacity="0.65"/>
<circle cx="113.21" cy="123.28" r="1.25" fill="#E69F00" fill-opacity="0.65"/>
<circle cx="108.73" cy="113.32" r="1.25" fill="#E69F00" fill-opacity="0.65"/>
<circle cx="111.87" cy="144.44" r="1.25" fill="#E69F00" fill-opacity="0.65"/>
<circle cx="114.17" cy="137.02" r="1.25" fill="#E69F00" fill-opacity="0.65"/>
<circle cx="111.50" cy="123.95" r="1.25" fill="#E69F00" fill-opacity="0.65"/>
<circle cx="111.41" cy="129.85" r="1.25" fill="#E69F00" fill-opacity="0.65"/>
<circle cx="110.28" cy="175.15" r="1.25" fill="#E69F00" fill-opacity="0.65"/>
<circle cx="113.88" cy="105.05" r="1.25" fill="#E69F00" fill-opacity="0.65"/>
<circle cx="114.02" cy="120.66" r="1.25" fill="#E69F00" fill-opacity="0.65"/>
<circle cx="108.82" cy="151.37" r="1.25" fill="#E69F00" fill-opacity="0.65"/>
<circle cx="111.52" cy="102.51" r="1.25" fill="#E69F00" fill-opacity="0.65"/>
<circle cx="110.72" cy="112.25" r="1.25" fill="#E69F00" fill-opacity="0.65"/>
<circle cx="112.23" cy="91.61" r="1.25" fill="#E69F00" fill-opacity="0.65"/>
<circle cx="108.91" cy="148.19" r="1.25" fill="#E69F00" fill-opacity="0.65"/>
<circle cx="109.79" cy="147.14" r="1.25" fill="#E69F00" fill-opacity="0.65"/>
<circle cx="109.87" cy="137.81" r="1.25" fill="#E69F00" fill-opacity="0.65"/>
<circle cx="111.08" cy="132.83" r="1.25" fill="#E69F00" fill-opacity="0.65"/>
<circle cx="112.96" cy="139.58" r="1.25" fill="#E69F00" fill-opacity="0.65"/>
<circle cx="113.35" cy="158.84" r="1.25" fill="#E69F00" fill-opacity="0.65"/>
<circle cx="112.92" cy="149.59" r="1.25" fill="#E69F00" fill-opacity="0.65"/>
<circle cx="112.26" cy="119.44" r="1.25" fill="#E69F00" fill-opacity="0.65"/>
<circle cx="108.72" cy="86.83" r="1.25" fill="#E69F00" fill-opacity="0.65"/>
<circle cx="110.54" cy="126.27" r="1.25" fill="#E69F00" fill-opacity="0.65"/>
<circle cx="112.21" cy="121.65" r="1.25" fill="#E69F00" fill-opacity="0.65"/>
<circle cx="109.97" cy="95.51" r="1.25" fill="#E69F00" fill-opacity="0.65"/>
<circle cx="111.25" cy="122.52" r="1.25" fill="#E69F00" fill-opacity="0.65"/>
<circle cx="127.74" cy="64.96" r="1.25" fill="#2A90E0" fill-opacity="0.65"/>
<circle cx="129.66" cy="64.54" r="1.25" fill="#2A90E0" fill-opacity="0.65"/>
<circle cx="129.73" cy="128.62" r="1.25" fill="#2A90E0" fill-opacity="0.65"/>
<circle cx="127.78" cy="151.13" r="1.25" fill="#2A90E0" fill-opacity="0.65"/>
<circle cx="128.76" cy="128.33" r="1.25" fill="#2A90E0" fill-opacity="0.65"/>
<circle cx="131.86" cy="72.03" r="1.25" fill="#2A90E0" fill-opacity="0.65"/>
<circle cx="132.49" cy="128.45" r="1.25" fill="#2A90E0" fill-opacity="0.65"/>
<circle cx="131.26" cy="103.84" r="1.25" fill="#2A90E0" fill-opacity="0.65"/>
<circle cx="126.99" cy="74.02" r="1.25" fill="#2A90E0" fill-opacity="0.65"/>
<circle cx="132.04" cy="113.64" r="1.25" fill="#2A90E0" fill-opacity="0.65"/>
<circle cx="129.35" cy="87.15" r="1.25" fill="#2A90E0" fill-opacity="0.65"/>
<circle cx="131.60" cy="99.92" r="1.25" fill="#2A90E0" fill-opacity="0.65"/>
<circle cx="127.66" cy="122.53" r="1.25" fill="#2A90E0" fill-opacity="0.65"/>
<circle cx="127.49" cy="126.19" r="1.25" fill="#2A90E0" fill-opacity="0.65"/>
<circle cx="132.04" cy="69.57" r="1.25" fill="#2A90E0" fill-opacity="0.65"/>
<circle cx="128.31" cy="125.29" r="1.25" fill="#2A90E0" fill-opacity="0.65"/>
<circle cx="126.86" cy="115.67" r="1.25" fill="#2A90E0" fill-opacity="0.65"/>
<circle cx="129.61" cy="152.75" r="1.25" fill="#2A90E0" fill-opacity="0.65"/>
<circle cx="132.54" cy="113.01" r="1.25" fill="#2A90E0" fill-opacity="0.65"/>
<circle cx="131.61" cy="108.69" r="1.25" fill="#2A90E0" fill-opacity="0.65"/>
<circle cx="128.98" cy="146.83" r="1.25" fill="#2A90E0" fill-opacity="0.65"/>
<circle cx="132.56" cy="125.11" r="1.25" fill="#2A90E0" fill-opacity="0.65"/>
<circle cx="131.38" cy="117.08" r="1.25" fill="#2A90E0" fill-opacity="0.65"/>
<circle cx="131.65" cy="121.36" r="1.25" fill="#2A90E0" fill-opacity="0.65"/>
<circle cx="130.48" cy="123.62" r="1.25" fill="#2A90E0" fill-opacity="0.65"/>
<circle cx="128.97" cy="165.57" r="1.25" fill="#2A90E0" fill-opacity="0.65"/>
<circle cx="132.03" cy="107.78" r="1.25" fill="#2A90E0" fill-opacity="0.65"/>
<circle cx="129.42" cy="143.31" r="1.25" fill="#2A90E0" fill-opacity="0.65"/>
<circle cx="132.21" cy="109.13" r="1.25" fill="#2A90E0" fill-opacity="0.65"/>
<circle cx="129.91" cy="96.75" r="1.25" fill="#2A90E0" fill-opacity="0.65"/>
<circle cx="132.06" cy="121.75" r="1.25" fill="#2A90E0" fill-opacity="0.65"/>
<circle cx="129.46" cy="115.64" r="1.25" fill="#2A90E0" fill-opacity="0.65"/>
<circle cx="129.16" cy="140.51" r="1.25" fill="#2A90E0" fill-opacity="0.65"/>
<circle cx="130.13" cy="151.86" r="1.25" fill="#2A90E0" fill-opacity="0.65"/>
<circle cx="128.50" cy="108.13" r="1.25" fill="#2A90E0" fill-opacity="0.65"/>
<circle cx="127.50" cy="103.98" r="1.25" fill="#2A90E0" fill-opacity="0.65"/>
<circle cx="130.14" cy="153.02" r="1.25" fill="#2A90E0" fill-opacity="0.65"/>
<circle cx="131.71" cy="77.51" r="1.25" fill="#2A90E0" fill-opacity="0.65"/>
<circle cx="128.27" cy="131.01" r="1.25" fill="#2A90E0" fill-opacity="0.65"/>
<circle cx="131.79" cy="123.78" r="1.25" fill="#2A90E0" fill-opacity="0.65"/>
<circle cx="131.32" cy="139.23" r="1.25" fill="#2A90E0" fill-opacity="0.65"/>
<circle cx="131.25" cy="113.32" r="1.25" fill="#2A90E0" fill-opacity="0.65"/>
<circle cx="129.09" cy="123.54" r="1.25" fill="#2A90E0" fill-opacity="0.65"/>
<circle cx="132.59" cy="101.48" r="1.25" fill="#2A90E0" fill-opacity="0.65"/>
<circle cx="131.35" cy="115.83" r="1.25" fill="#2A90E0" fill-opacity="0.65"/>
<circle cx="130.05" cy="126.36" r="1.25" fill="#2A90E0" fill-opacity="0.65"/>
<circle cx="127.28" cy="101.70" r="1.25" fill="#2A90E0" fill-opacity="0.65"/>
<circle cx="130.04" cy="159.34" r="1.25" fill="#2A90E0" fill-opacity="0.65"/>
<circle cx="126.69" cy="142.94" r="1.25" fill="#2A90E0" fill-opacity="0.65"/>
<circle cx="132.01" cy="114.33" r="1.25" fill="#2A90E0" fill-opacity="0.65"/>
<circle cx="128.62" cy="135.79" r="1.25" fill="#2A90E0" fill-opacity="0.65"/>
<circle cx="128.81" cy="129.09" r="1.25" fill="#2A90E0" fill-opacity="0.65"/>
<circle cx="129.91" cy="104.18" r="1.25" fill="#2A90E0" fill-opacity="0.65"/>
<circle cx="130.42" cy="104.57" r="1.25" fill="#2A90E0" fill-opacity="0.65"/>
<circle cx="130.10" cy="105.16" r="1.25" fill="#2A90E0" fill-opacity="0.65"/>
<circle cx="129.51" cy="74.65" r="1.25" fill="#2A90E0" fill-opacity="0.65"/>
<circle cx="130.41" cy="86.49" r="1.25" fill="#2A90E0" fill-opacity="0.65"/>
<circle cx="131.68" cy="85.05" r="1.25" fill="#2A90E0" fill-opacity="0.65"/>
<circle cx="129.28" cy="76.81" r="1.25" fill="#2A90E0" fill-opacity="0.65"/>
<circle cx="129.60" cy="108.83" r="1.25" fill="#2A90E0" fill-opacity="0.65"/>
<circle cx="131.46" cy="108.14" r="1.25" fill="#2A90E0" fill-opacity="0.65"/>
<circle cx="126.62" cy="106.04" r="1.25" fill="#2A90E0" fill-opacity="0.65"/>
<circle cx="127.56" cy="86.14" r="1.25" fill="#2A90E0" fill-opacity="0.65"/>
<circle cx="128.55" cy="101.86" r="1.25" fill="#2A90E0" fill-opacity="0.65"/>
<circle cx="127.88" cy="103.35" r="1.25" fill="#2A90E0" fill-opacity="0.65"/>
<circle cx="131.98" cy="147.67" r="1.25" fill="#2A90E0" fill-opacity="0.65"/>
<circle cx="127.49" cy="104.28" r="1.25" fill="#2A90E0" fill-opacity="0.65"/>
<circle cx="127.25" cy="122.35" r="1.25" fill="#2A90E0" fill-opacity="0.65"/>
<circle cx="128.50" cy="120.23" r="1.25" fill="#2A90E0" fill-opacity="0.65"/>
<circle cx="129.65" cy="145.21" r="1.25" fill="#2A90E0" fill-opacity="0.65"/>
<circle cx="131.53" cy="107.89" r="1.25" fill="#2A90E0" fill-opacity="0.65"/>
<circle cx="132.57" cy="111.58" r="1.25" fill="#2A90E0" fill-opacity="0.65"/>
<circle cx="131.71" cy="109.62" r="1.25" fill="#2A90E0" fill-opacity="0.65"/>
<circle cx="130.25" cy="142.59" r="1.25" fill="#2A90E0" fill-opacity="0.65"/>
<circle cx="126.83" cy="103.12" r="1.25" fill="#2A90E0" fill-opacity="0.65"/>
<circle cx="126.98" cy="66.02" r="1.25" fill="#2A90E0" fill-opacity="0.65"/>
<circle cx="130.38" cy="69.07" r="1.25" fill="#2A90E0" fill-opacity="0.65"/>
<circle cx="131.52" cy="94.98" r="1.25" fill="#2A90E0" fill-opacity="0.65"/>
<circle cx="128.19" cy="128.34" r="1.25" fill="#2A90E0" fill-opacity="0.65"/>
<circle cx="132.42" cy="164.33" r="1.25" fill="#2A90E0" fill-opacity="0.65"/>
<circle cx="129.90" cy="120.84" r="1.25" fill="#2A90E0" fill-opacity="0.65"/>
<circle cx="130.04" cy="154.36" r="1.25" fill="#2A90E0" fill-opacity="0.65"/>
<circle cx="130.31" cy="124.64" r="1.25" fill="#2A90E0" fill-opacity="0.65"/>
<circle cx="127.05" cy="84.95" r="1.25" fill="#2A90E0" fill-opacity="0.65"/>
<circle cx="127.62" cy="168.48" r="1.25" fill="#2A90E0" fill-opacity="0.65"/>
<circle cx="132.22" cy="86.56" r="1.25" fill="#2A90E0" fill-opacity="0.65"/>
<circle cx="128.20" cy="122.88" r="1.25" fill="#2A90E0" fill-opacity="0.65"/>
<circle cx="127.10" cy="79.04" r="1.25" fill="#2A90E0" fill-opacity="0.65"/>
<circle cx="128.29" cy="84.74" r="1.25" fill="#2A90E0" fill-opacity="0.65"/>
<circle cx="130.96" cy="129.09" r="1.25" fill="#2A90E0" fill-opacity="0.65"/>
<circle cx="128.18" cy="123.62" r="1.25" fill="#2A90E0" fill-opacity="0.65"/>
<circle cx="127.86" cy="149.12" r="1.25" fill="#2A90E0" fill-opacity="0.65"/>
<circle cx="128.26" cy="158.51" r="1.25" fill="#2A90E0" fill-opacity="0.65"/>
<circle cx="129.48" cy="131.89" r="1.25" fill="#2A90E0" fill-opacity="0.65"/>
<circle cx="131.03" cy="135.81" r="1.25" fill="#2A90E0" fill-opacity="0.65"/>
<circle cx="128.41" cy="105.58" r="1.25" fill="#2A90E0" fill-opacity="0.65"/>
<circle cx="131.84" cy="129.93" r="1.25" fill="#2A90E0" fill-opacity="0.65"/>
<circle cx="132.46" cy="87.05" r="1.25" fill="#2A90E0" fill-opacity="0.65"/>
<circle cx="131.53" cy="93.81" r="1.25" fill="#2A90E0" fill-opacity="0.65"/>
<circle cx="127.05" cy="162.69" r="1.25" fill="#2A90E0" fill-opacity="0.65"/>
<circle cx="128.49" cy="152.81" r="1.25" fill="#2A90E0" fill-opacity="0.65"/>
<circle cx="132.15" cy="116.15" r="1.25" fill="#2A90E0" fill-opacity="0.65"/>
<circle cx="131.76" cy="97.77" r="1.25" fill="#2A90E0" fill-opacity="0.65"/>
<circle cx="127.40" cy="128.19" r="1.25" fill="#2A90E0" fill-opacity="0.65"/>
<circle cx="129.25" cy="124.48" r="1.25" fill="#2A90E0" fill-opacity="0.65"/>
<circle cx="128.78" cy="91.85" r="1.25" fill="#2A90E0" fill-opacity="0.65"/>
<circle cx="131.08" cy="147.68" r="1.25" fill="#2A90E0" fill-opacity="0.65"/>
<circle cx="126.77" cy="118.41" r="1.25" fill="#2A90E0" fill-opacity="0.65"/>
<circle cx="128.49" cy="78.28" r="1.25" fill="#2A90E0" fill-opacity="0.65"/>
<circle cx="131.10" cy="109.01" r="1.25" fill="#2A90E0" fill-opacity="0.65"/>
<circle cx="131.92" cy="101.89" r="1.25" fill="#2A90E0" fill-opacity="0.65"/>
<circle cx="126.84" cy="112.16" r="1.25" fill="#2A90E0" fill-opacity="0.65"/>
<circle cx="130.13" cy="156.04" r="1.25" fill="#2A90E0" fill-opacity="0.65"/>
<circle cx="130.58" cy="119.19" r="1.25" fill="#2A90E0" fill-opacity="0.65"/>
<circle cx="131.84" cy="113.19" r="1.25" fill="#2A90E0" fill-opacity="0.65"/>
<circle cx="129.15" cy="166.27" r="1.25" fill="#2A90E0" fill-opacity="0.65"/>
<circle cx="132.44" cy="127.43" r="1.25" fill="#2A90E0" fill-opacity="0.65"/>
<circle cx="127.78" cy="159.01" r="1.25" fill="#2A90E0" fill-opacity="0.65"/>
<circle cx="127.29" cy="143.69" r="1.25" fill="#2A90E0" fill-opacity="0.65"/>
<circle cx="127.38" cy="87.12" r="1.25" fill="#2A90E0" fill-opacity="0.65"/>
<circle cx="130.12" cy="79.11" r="1.25" fill="#2A90E0" fill-opacity="0.65"/>
<circle cx="127.33" cy="121.73" r="1.25" fill="#2A90E0" fill-opacity="0.65"/>
<circle cx="128.20" cy="89.85" r="1.25" fill="#2A90E0" fill-opacity="0.65"/>
<circle cx="127.78" cy="147.91" r="1.25" fill="#2A90E0" fill-opacity="0.65"/>
<circle cx="126.93" cy="108.23" r="1.25" fill="#2A90E0" fill-opacity="0.65"/>
<circle cx="132.37" cy="94.63" r="1.25" fill="#2A90E0" fill-opacity="0.65"/>
<circle cx="128.61" cy="145.32" r="1.25" fill="#2A90E0" fill-opacity="0.65"/>
<circle cx="132.38" cy="131.25" r="1.25" fill="#2A90E0" fill-opacity="0.65"/>
<circle cx="130.94" cy="137.56" r="1.25" fill="#2A90E0" fill-opacity="0.65"/>
<circle cx="127.92" cy="87.56" r="1.25" fill="#2A90E0" fill-opacity="0.65"/>
<circle cx="132.20" cy="72.03" r="1.25" fill="#2A90E0" fill-opacity="0.65"/>
<circle cx="126.66" cy="169.28" r="1.25" fill="#2A90E0" fill-opacity="0.65"/>
<circle cx="132.49" cy="99.02" r="1.25" fill="#2A90E0" fill-opacity="0.65"/>
<circle cx="126.79" cy="146.14" r="1.25" fill="#2A90E0" fill-opacity="0.65"/>
<circle cx="128.12" cy="110.25" r="1.25" fill="#2A90E0" fill-opacity="0.65"/>
<circle cx="129.91" cy="82.25" r="1.25" fill="#2A90E0" fill-opacity="0.65"/>
<circle cx="126.66" cy="113.59" r="1.25" fill="#2A90E0" fill-opacity="0.65"/>
<circle cx="131.19" cy="100.47" r="1.25" fill="#2A90E0" fill-opacity="0.65"/>
<circle cx="127.11" cy="87.35" r="1.25" fill="#2A90E0" fill-opacity="0.65"/>
<circle cx="131.50" cy="117.49" r="1.25" fill="#2A90E0" fill-opacity="0.65"/>
<circle cx="126.81" cy="98.55" r="1.25" fill="#2A90E0" fill-opacity="0.65"/>
<circle cx="129.77" cy="67.40" r="1.25" fill="#2A90E0" fill-opacity="0.65"/>
<circle cx="127.86" cy="107.51" r="1.25" fill="#2A90E0" fill-opacity="0.65"/>
<circle cx="128.33" cy="126.77" r="1.25" fill="#2A90E0" fill-opacity="0.65"/>
<circle cx="129.54" cy="89.91" r="1.25" fill="#2A90E0" fill-opacity="0.65"/>
<circle cx="128.83" cy="104.91" r="1.25" fill="#2A90E0" fill-opacity="0.65"/>
<circle cx="128.95" cy="86.90" r="1.25" fill="#2A90E0" fill-opacity="0.65"/>
<circle cx="130.52" cy="100.61" r="1.25" fill="#2A90E0" fill-opacity="0.65"/>
<circle cx="127.77" cy="94.89" r="1.25" fill="#2A90E0" fill-opacity="0.65"/>
<circle cx="127.69" cy="114.06" r="1.25" fill="#2A90E0" fill-opacity="0.65"/>
<circle cx="130.71" cy="156.58" r="1.25" fill="#2A90E0" fill-opacity="0.65"/>
<circle cx="128.38" cy="139.59" r="1.25" fill="#2A90E0" fill-opacity="0.65"/>
<circle cx="132.20" cy="137.73" r="1.25" fill="#2A90E0" fill-opacity="0.65"/>
<circle cx="129.16" cy="95.77" r="1.25" fill="#2A90E0" fill-opacity="0.65"/>
<circle cx="129.44" cy="134.20" r="1.25" fill="#2A90E0" fill-opacity="0.65"/>
<circle cx="126.74" cy="100.36" r="1.25" fill="#2A90E0" fill-opacity="0.65"/>
<circle cx="126.72" cy="97.33" r="1.25" fill="#2A90E0" fill-opacity="0.65"/>
<circle cx="127.23" cy="131.65" r="1.25" fill="#2A90E0" fill-opacity="0.65"/>
<circle cx="130.35" cy="111.65" r="1.25" fill="#2A90E0" fill-opacity="0.65"/>
<circle cx="130.59" cy="118.22" r="1.25" fill="#2A90E0" fill-opacity="0.65"/>
<circle cx="132.31" cy="107.90" r="1.25" fill="#2A90E0" fill-opacity="0.65"/>
<circle cx="129.19" cy="132.00" r="1.25" fill="#2A90E0" fill-opacity="0.65"/>
<circle cx="130.85" cy="92.34" r="1.25" fill="#2A90E0" fill-opacity="0.65"/>
<circle cx="128.66" cy="130.36" r="1.25" fill="#2A90E0" fill-opacity="0.65"/>
<circle cx="127.04" cy="152.20" r="1.25" fill="#2A90E0" fill-opacity="0.65"/>
<circle cx="129.12" cy="111.01" r="1.25" fill="#2A90E0" fill-opacity="0.65"/>
<circle cx="130.81" cy="104.10" r="1.25" fill="#2A90E0" fill-opacity="0.65"/>
<circle cx="131.43" cy="141.37" r="1.25" fill="#2A90E0" fill-opacity="0.65"/>
<circle cx="132.31" cy="93.07" r="1.25" fill="#2A90E0" fill-opacity="0.65"/>
<circle cx="131.59" cy="122.77" r="1.25" fill="#2A90E0" fill-opacity="0.65"/>
<circle cx="129.98" cy="103.89" r="1.25" fill="#2A90E0" fill-opacity="0.65"/>
<circle cx="129.90" cy="120.93" r="1.25" fill="#2A90E0" fill-opacity="0.65"/>
<circle cx="129.61" cy="99.15" r="1.25" fill="#2A90E0" fill-opacity="0.65"/>
<circle cx="129.47" cy="128.52" r="1.25" fill="#2A90E0" fill-opacity="0.65"/>
<circle cx="130.68" cy="127.41" r="1.25" fill="#2A90E0" fill-opacity="0.65"/>
<circle cx="130.05" cy="156.99" r="1.25" fill="#2A90E0" fill-opacity="0.65"/>
<circle cx="131.74" cy="106.83" r="1.25" fill="#2A90E0" fill-opacity="0.65"/>
<circle cx="129.30" cy="124.44" r="1.25" fill="#2A90E0" fill-opacity="0.65"/>
<circle cx="129.43" cy="81.34" r="1.25" fill="#2A90E0" fill-opacity="0.65"/>
<circle cx="131.59" cy="99.13" r="1.25" fill="#2A90E0" fill-opacity="0.65"/>
<circle cx="130.65" cy="120.10" r="1.25" fill="#2A90E0" fill-opacity="0.65"/>
<circle cx="129.75" cy="88.51" r="1.25" fill="#2A90E0" fill-opacity="0.65"/>
<circle cx="129.98" cy="111.54" r="1.25" fill="#2A90E0" fill-opacity="0.65"/>
<circle cx="131.43" cy="97.10" r="1.25" fill="#2A90E0" fill-opacity="0.65"/>
<circle cx="130.24" cy="125.37" r="1.25" fill="#2A90E0" fill-opacity="0.65"/>
<circle cx="128.15" cy="128.35" r="1.25" fill="#2A90E0" fill-opacity="0.65"/>
<circle cx="128.46" cy="104.87" r="1.25" fill="#2A90E0" fill-opacity="0.65"/>
<circle cx="130.23" cy="129.77" r="1.25" fill="#2A90E0" fill-opacity="0.65"/>
<circle cx="126.88" cy="103.34" r="1.25" fill="#2A90E0" fill-opacity="0.65"/>
<circle cx="129.35" cy="116.33" r="1.25" fill="#2A90E0" fill-opacity="0.65"/>
<circle cx="131.95" cy="126.42" r="1.25" fill="#2A90E0" fill-opacity="0.65"/>
<circle cx="127.99" cy="127.31" r="1.25" fill="#2A90E0" fill-opacity="0.65"/>
<circle cx="129.26" cy="128.20" r="1.25" fill="#2A90E0" fill-opacity="0.65"/>
<circle cx="130.80" cy="155.58" r="1.25" fill="#2A90E0" fill-opacity="0.65"/>
<circle cx="132.15" cy="101.70" r="1.25" fill="#2A90E0" fill-opacity="0.65"/>
<circle cx="130.78" cy="110.66" r="1.25" fill="#2A90E0" fill-opacity="0.65"/>
<circle cx="130.35" cy="80.10" r="1.25" fill="#2A90E0" fill-opacity="0.65"/>
<circle cx="128.90" cy="135.11" r="1.25" fill="#2A90E0" fill-opacity="0.65"/>
<circle cx="129.22" cy="93.01" r="1.25" fill="#2A90E0" fill-opacity="0.65"/>
<circle cx="130.45" cy="102.64" r="1.25" fill="#2A90E0" fill-opacity="0.65"/>
<circle cx="128.74" cy="104.15" r="1.25" fill="#2A90E0" fill-opacity="0.65"/>
<circle cx="131.31" cy="123.82" r="1.25" fill="#2A90E0" fill-opacity="0.65"/>
<circle cx="126.65" cy="108.34" r="1.25" fill="#2A90E0" fill-opacity="0.65"/>
<circle cx="131.11" cy="108.32" r="1.25" fill="#2A90E0" fill-opacity="0.65"/>
<circle cx="131.05" cy="115.42" r="1.25" fill="#2A90E0" fill-opacity="0.65"/>
<circle cx="128.44" cy="107.38" r="1.25" fill="#2A90E0" fill-opacity="0.65"/>
<circle cx="126.69" cy="113.09" r="1.25" fill="#2A90E0" fill-opacity="0.65"/>
<circle cx="128.63" cy="95.58" r="1.25" fill="#2A90E0" fill-opacity="0.65"/>
<circle cx="130.14" cy="103.45" r="1.25" fill="#2A90E0" fill-opacity="0.65"/>
<circle cx="131.32" cy="91.26" r="1.25" fill="#2A90E0" fill-opacity="0.65"/>
<circle cx="131.82" cy="134.71" r="1.25" fill="#2A90E0" fill-opacity="0.65"/>
<circle cx="127.85" cy="135.85" r="1.25" fill="#2A90E0" fill-opacity="0.65"/>
<circle cx="127.09" cy="129.95" r="1.25" fill="#2A90E0" fill-opacity="0.65"/>
<circle cx="127.32" cy="121.77" r="1.25" fill="#2A90E0" fill-opacity="0.65"/>
<circle cx="132.53" cy="102.48" r="1.25" fill="#2A90E0" fill-opacity="0.65"/>
<circle cx="130.47" cy="127.26" r="1.25" fill="#2A90E0" fill-opacity="0.65"/>
<circle cx="127.37" cy="85.23" r="1.25" fill="#2A90E0" fill-opacity="0.65"/>
<circle cx="130.74" cy="67.84" r="1.25" fill="#2A90E0" fill-opacity="0.65"/>
<circle cx="132.36" cy="91.82" r="1.25" fill="#2A90E0" fill-opacity="0.65"/>
<circle cx="130.24" cy="150.55" r="1.25" fill="#2A90E0" fill-opacity="0.65"/>
<circle cx="128.00" cy="119.57" r="1.25" fill="#2A90E0" fill-opacity="0.65"/>
<circle cx="132.37" cy="151.97" r="1.25" fill="#2A90E0" fill-opacity="0.65"/>
<circle cx="130.80" cy="100.48" r="1.25" fill="#2A90E0" fill-opacity="0.65"/>
<circle cx="127.70" cy="138.57" r="1.25" fill="#2A90E0" fill-opacity="0.65"/>
<circle cx="131.20" cy="152.93" r="1.25" fill="#2A90E0" fill-opacity="0.65"/>
<circle cx="129.63" cy="138.03" r="1.25" fill="#2A90E0" fill-opacity="0.65"/>
<circle cx="130.04" cy="120.57" r="1.25" fill="#2A90E0" fill-opacity="0.65"/>
<circle cx="128.79" cy="140.23" r="1.25" fill="#2A90E0" fill-opacity="0.65"/>
<circle cx="128.36" cy="105.17" r="1.25" fill="#2A90E0" fill-opacity="0.65"/>
<circle cx="129.12" cy="157.23" r="1.25" fill="#2A90E0" fill-opacity="0.65"/>
<circle cx="129.76" cy="92.43" r="1.25" fill="#2A90E0" fill-opacity="0.65"/>
<circle cx="129.37" cy="99.64" r="1.25" fill="#2A90E0" fill-opacity="0.65"/>
<circle cx="131.80" cy="114.07" r="1.25" fill="#2A90E0" fill-opacity="0.65"/>
<circle cx="127.05" cy="99.51" r="1.25" fill="#2A90E0" fill-opacity="0.65"/>
<circle cx="127.79" cy="156.95" r="1.25" fill="#2A90E0" fill-opacity="0.65"/>
<circle cx="132.23" cy="130.15" r="1.25" fill="#2A90E0" fill-opacity="0.65"/>
<circle cx="130.25" cy="100.13" r="1.25" fill="#2A90E0" fill-opacity="0.65"/>
<circle cx="130.31" cy="155.02" r="1.25" fill="#2A90E0" fill-opacity="0.65"/>
<circle cx="130.38" cy="147.11" r="1.25" fill="#2A90E0" fill-opacity="0.65"/>
<circle cx="128.06" cy="106.58" r="1.25" fill="#2A90E0" fill-opacity="0.65"/>
<circle cx="128.97" cy="152.22" r="1.25" fill="#2A90E0" fill-opacity="0.65"/>
<circle cx="127.86" cy="142.88" r="1.25" fill="#2A90E0" fill-opacity="0.65"/>
<circle cx="127.51" cy="104.33" r="1.25" fill="#2A90E0" fill-opacity="0.65"/>
<circle cx="132.54" cy="103.31" r="1.25" fill="#2A90E0" fill-opacity="0.65"/>
<circle cx="131.06" cy="121.22" r="1.25" fill="#2A90E0" fill-opacity="0.65"/>
<circle cx="131.87" cy="141.97" r="1.25" fill="#2A90E0" fill-opacity="0.65"/>
<circle cx="126.61" cy="152.41" r="1.25" fill="#2A90E0" fill-opacity="0.65"/>
<circle cx="130.83" cy="150.77" r="1.25" fill="#2A90E0" fill-opacity="0.65"/>
<circle cx="128.44" cy="104.67" r="1.25" fill="#2A90E0" fill-opacity="0.65"/>
<circle cx="129.59" cy="80.92" r="1.25" fill="#2A90E0" fill-opacity="0.65"/>
<circle cx="130.65" cy="82.69" r="1.25" fill="#2A90E0" fill-opacity="0.65"/>
<circle cx="126.79" cy="150.93" r="1.25" fill="#2A90E0" fill-opacity="0.65"/>
<circle cx="128.82" cy="139.70" r="1.25" fill="#2A90E0" fill-opacity="0.65"/>
<circle cx="129.92" cy="142.83" r="1.25" fill="#2A90E0" fill-opacity="0.65"/>
<circle cx="131.85" cy="113.45" r="1.25" fill="#2A90E0" fill-opacity="0.65"/>
<circle cx="129.68" cy="115.61" r="1.25" fill="#2A90E0" fill-opacity="0.65"/>
<circle cx="128.51" cy="125.55" r="1.25" fill="#2A90E0" fill-opacity="0.65"/>
<circle cx="130.22" cy="124.95" r="1.25" fill="#2A90E0" fill-opacity="0.65"/>
<circle cx="130.10" cy="115.52" r="1.25" fill="#2A90E0" fill-opacity="0.65"/>
<circle cx="128.35" cy="95.78" r="1.25" fill="#2A90E0" fill-opacity="0.65"/>
<circle cx="129.89" cy="88.49" r="1.25" fill="#2A90E0" fill-opacity="0.65"/>
<circle cx="128.26" cy="117.35" r="1.25" fill="#2A90E0" fill-opacity="0.65"/>
<circle cx="126.67" cy="110.62" r="1.25" fill="#2A90E0" fill-opacity="0.65"/>
<circle cx="128.46" cy="148.63" r="1.25" fill="#2A90E0" fill-opacity="0.65"/>
<circle cx="127.12" cy="94.03" r="1.25" fill="#2A90E0" fill-opacity="0.65"/>
<circle cx="129.55" cy="77.24" r="1.25" fill="#2A90E0" fill-opacity="0.65"/>
<circle cx="129.61" cy="77.62" r="1.25" fill="#2A90E0" fill-opacity="0.65"/>
<circle cx="131.82" cy="112.85" r="1.25" fill="#2A90E0" fill-opacity="0.65"/>
<circle cx="131.09" cy="155.04" r="1.25" fill="#2A90E0" fill-opacity="0.65"/>
<circle cx="131.10" cy="107.21" r="1.25" fill="#2A90E0" fill-opacity="0.65"/>
<circle cx="132.54" cy="100.71" r="1.25" fill="#2A90E0" fill-opacity="0.65"/>
<circle cx="128.19" cy="122.88" r="1.25" fill="#2A90E0" fill-opacity="0.65"/>
<circle cx="128.84" cy="151.69" r="1.25" fill="#2A90E0" fill-opacity="0.65"/>
<circle cx="127.98" cy="140.42" r="1.25" fill="#2A90E0" fill-opacity="0.65"/>
<circle cx="127.21" cy="135.28" r="1.25" fill="#2A90E0" fill-opacity="0.65"/>
<circle cx="129.69" cy="136.57" r="1.25" fill="#2A90E0" fill-opacity="0.65"/>
<circle cx="129.67" cy="108.20" r="1.25" fill="#2A90E0" fill-opacity="0.65"/>
<circle cx="127.38" cy="115.64" r="1.25" fill="#2A90E0" fill-opacity="0.65"/>
<circle cx="132.14" cy="123.74" r="1.25" fill="#2A90E0" fill-opacity="0.65"/>
<circle cx="132.47" cy="158.45" r="1.25" fill="#2A90E0" fill-opacity="0.65"/>
<circle cx="127.01" cy="73.25" r="1.25" fill="#2A90E0" fill-opacity="0.65"/>
<circle cx="126.62" cy="103.52" r="1.25" fill="#2A90E0" fill-opacity="0.65"/>
<circle cx="126.97" cy="122.72" r="1.25" fill="#2A90E0" fill-opacity="0.65"/>
<circle cx="130.99" cy="109.07" r="1.25" fill="#2A90E0" fill-opacity="0.65"/>
<circle cx="131.72" cy="111.15" r="1.25" fill="#2A90E0" fill-opacity="0.65"/>
<circle cx="127.00" cy="108.65" r="1.25" fill="#2A90E0" fill-opacity="0.65"/>
<circle cx="126.65" cy="96.08" r="1.25" fill="#2A90E0" fill-opacity="0.65"/>
<circle cx="129.83" cy="125.99" r="1.25" fill="#2A90E0" fill-opacity="0.65"/>
<circle cx="128.60" cy="145.61" r="1.25" fill="#2A90E0" fill-opacity="0.65"/>
<circle cx="126.71" cy="106.93" r="1.25" fill="#2A90E0" fill-opacity="0.65"/>
<circle cx="126.65" cy="173.00" r="1.25" fill="#2A90E0" fill-opacity="0.65"/>
<circle cx="127.87" cy="176.00" r="1.25" fill="#2A90E0" fill-opacity="0.65"/>
<circle cx="127.80" cy="179.00" r="1.25" fill="#2A90E0" fill-opacity="0.65"/>
<circle cx="128.37" cy="182.00" r="1.25" fill="#2A90E0" fill-opacity="0.65"/>
<circle cx="129.90" cy="185.00" r="1.25" fill="#2A90E0" fill-opacity="0.65"/>
<circle cx="128.11" cy="187.00" r="1.25" fill="#2A90E0" fill-opacity="0.65"/>
<circle cx="128.00" cy="188.60" r="1.25" fill="#2A90E0" fill-opacity="0.65"/>
<circle cx="127.86" cy="184.00" r="1.25" fill="#2A90E0" fill-opacity="0.65"/>
<circle cx="161.41" cy="84.30" r="1.25" fill="#E69F00" fill-opacity="0.65"/>
<circle cx="157.72" cy="126.60" r="1.25" fill="#E69F00" fill-opacity="0.65"/>
<circle cx="158.42" cy="152.31" r="1.25" fill="#E69F00" fill-opacity="0.65"/>
<circle cx="160.51" cy="170.09" r="1.25" fill="#E69F00" fill-opacity="0.65"/>
<circle cx="163.21" cy="136.08" r="1.25" fill="#E69F00" fill-opacity="0.65"/>
<circle cx="161.66" cy="169.87" r="1.25" fill="#E69F00" fill-opacity="0.65"/>
<circle cx="158.45" cy="79.05" r="1.25" fill="#E69F00" fill-opacity="0.65"/>
<circle cx="159.44" cy="108.15" r="1.25" fill="#E69F00" fill-opacity="0.65"/>
<circle cx="163.07" cy="186.87" r="1.25" fill="#E69F00" fill-opacity="0.65"/>
<circle cx="160.35" cy="166.42" r="1.25" fill="#E69F00" fill-opacity="0.65"/>
<circle cx="162.52" cy="150.94" r="1.25" fill="#E69F00" fill-opacity="0.65"/>
<circle cx="162.45" cy="126.29" r="1.25" fill="#E69F00" fill-opacity="0.65"/>
<circle cx="161.99" cy="100.20" r="1.25" fill="#E69F00" fill-opacity="0.65"/>
<circle cx="161.06" cy="170.54" r="1.25" fill="#E69F00" fill-opacity="0.65"/>
<circle cx="161.30" cy="116.26" r="1.25" fill="#E69F00" fill-opacity="0.65"/>
<circle cx="159.35" cy="105.67" r="1.25" fill="#E69F00" fill-opacity="0.65"/>
<circle cx="158.02" cy="172.71" r="1.25" fill="#E69F00" fill-opacity="0.65"/>
<circle cx="162.99" cy="152.66" r="1.25" fill="#E69F00" fill-opacity="0.65"/>
<circle cx="157.50" cy="166.14" r="1.25" fill="#E69F00" fill-opacity="0.65"/>
<circle cx="158.93" cy="147.67" r="1.25" fill="#E69F00" fill-opacity="0.65"/>
<circle cx="160.98" cy="153.35" r="1.25" fill="#E69F00" fill-opacity="0.65"/>
<circle cx="163.09" cy="100.00" r="1.25" fill="#E69F00" fill-opacity="0.65"/>
<circle cx="158.56" cy="139.24" r="1.25" fill="#E69F00" fill-opacity="0.65"/>
<circle cx="158.78" cy="152.73" r="1.25" fill="#E69F00" fill-opacity="0.65"/>
<circle cx="162.39" cy="186.80" r="1.25" fill="#E69F00" fill-opacity="0.65"/>
<circle cx="159.26" cy="109.37" r="1.25" fill="#E69F00" fill-opacity="0.65"/>
<circle cx="159.72" cy="116.19" r="1.25" fill="#E69F00" fill-opacity="0.65"/>
<circle cx="159.46" cy="185.96" r="1.25" fill="#E69F00" fill-opacity="0.65"/>
<circle cx="157.60" cy="95.25" r="1.25" fill="#E69F00" fill-opacity="0.65"/>
<circle cx="162.95" cy="110.12" r="1.25" fill="#E69F00" fill-opacity="0.65"/>
<circle cx="161.49" cy="89.22" r="1.25" fill="#E69F00" fill-opacity="0.65"/>
<circle cx="157.34" cy="151.11" r="1.25" fill="#E69F00" fill-opacity="0.65"/>
<circle cx="157.88" cy="153.72" r="1.25" fill="#E69F00" fill-opacity="0.65"/>
<circle cx="158.11" cy="168.60" r="1.25" fill="#E69F00" fill-opacity="0.65"/>
<circle cx="159.51" cy="179.98" r="1.25" fill="#E69F00" fill-opacity="0.65"/>
<circle cx="162.64" cy="101.94" r="1.25" fill="#E69F00" fill-opacity="0.65"/>
<circle cx="158.15" cy="177.15" r="1.25" fill="#E69F00" fill-opacity="0.65"/>
<circle cx="158.67" cy="116.85" r="1.25" fill="#E69F00" fill-opacity="0.65"/>
<circle cx="159.17" cy="181.15" r="1.25" fill="#E69F00" fill-opacity="0.65"/>
<circle cx="160.36" cy="182.01" r="1.25" fill="#E69F00" fill-opacity="0.65"/>
<circle cx="162.71" cy="187.47" r="1.25" fill="#E69F00" fill-opacity="0.65"/>
<circle cx="160.54" cy="152.78" r="1.25" fill="#E69F00" fill-opacity="0.65"/>
<circle cx="162.72" cy="139.91" r="1.25" fill="#E69F00" fill-opacity="0.65"/>
<circle cx="160.55" cy="106.91" r="1.25" fill="#E69F00" fill-opacity="0.65"/>
<circle cx="178.48" cy="128.25" r="1.25" fill="#2A90E0" fill-opacity="0.65"/>
<circle cx="180.11" cy="110.52" r="1.25" fill="#2A90E0" fill-opacity="0.65"/>
<circle cx="179.58" cy="109.18" r="1.25" fill="#2A90E0" fill-opacity="0.65"/>
<circle cx="178.86" cy="117.41" r="1.25" fill="#2A90E0" fill-opacity="0.65"/>
<circle cx="179.78" cy="155.18" r="1.25" fill="#2A90E0" fill-opacity="0.65"/>
<circle cx="177.84" cy="136.87" r="1.25" fill="#2A90E0" fill-opacity="0.65"/>
<circle cx="176.38" cy="141.98" r="1.25" fill="#2A90E0" fill-opacity="0.65"/>
<circle cx="176.89" cy="141.89" r="1.25" fill="#2A90E0" fill-opacity="0.65"/>
<circle cx="181.84" cy="112.79" r="1.25" fill="#2A90E0" fill-opacity="0.65"/>
<circle cx="181.36" cy="63.39" r="1.25" fill="#2A90E0" fill-opacity="0.65"/>
<circle cx="180.96" cy="107.40" r="1.25" fill="#2A90E0" fill-opacity="0.65"/>
<circle cx="177.56" cy="124.22" r="1.25" fill="#2A90E0" fill-opacity="0.65"/>
<circle cx="181.03" cy="90.11" r="1.25" fill="#2A90E0" fill-opacity="0.65"/>
<circle cx="180.74" cy="60.22" r="1.25" fill="#2A90E0" fill-opacity="0.65"/>
<circle cx="179.25" cy="122.93" r="1.25" fill="#2A90E0" fill-opacity="0.65"/>
<circle cx="177.82" cy="131.73" r="1.25" fill="#2A90E0" fill-opacity="0.65"/>
<circle cx="176.64" cy="124.00" r="1.25" fill="#2A90E0" fill-opacity="0.65"/>
<circle cx="181.99" cy="132.25" r="1.25" fill="#2A90E0" fill-opacity="0.65"/>
<circle cx="181.99" cy="126.48" r="1.25" fill="#2A90E0" fill-opacity="0.65"/>
<circle cx="181.11" cy="116.36" r="1.25" fill="#2A90E0" fill-opacity="0.65"/>
<circle cx="178.67" cy="115.17" r="1.25" fill="#2A90E0" fill-opacity="0.65"/>
<circle cx="180.38" cy="110.59" r="1.25" fill="#2A90E0" fill-opacity="0.65"/>
<circle cx="181.46" cy="117.37" r="1.25" fill="#2A90E0" fill-opacity="0.65"/>
<circle cx="179.25" cy="151.73" r="1.25" fill="#2A90E0" fill-opacity="0.65"/>
<circle cx="176.75" cy="60.27" r="1.25" fill="#2A90E0" fill-opacity="0.65"/>
<circle cx="181.86" cy="140.81" r="1.25" fill="#2A90E0" fill-opacity="0.65"/>
<circle cx="179.23" cy="127.75" r="1.25" fill="#2A90E0" fill-opacity="0.65"/>
<circle cx="180.62" cy="120.56" r="1.25" fill="#2A90E0" fill-opacity="0.65"/>
<circle cx="179.74" cy="129.33" r="1.25" fill="#2A90E0" fill-opacity="0.65"/>
<circle cx="176.39" cy="125.02" r="1.25" fill="#2A90E0" fill-opacity="0.65"/>
<circle cx="178.77" cy="144.24" r="1.25" fill="#2A90E0" fill-opacity="0.65"/>
<circle cx="176.07" cy="69.36" r="1.25" fill="#2A90E0" fill-opacity="0.65"/>
<circle cx="177.60" cy="125.30" r="1.25" fill="#2A90E0" fill-opacity="0.65"/>
<circle cx="181.77" cy="111.65" r="1.25" fill="#2A90E0" fill-opacity="0.65"/>
<circle cx="180.15" cy="112.76" r="1.25" fill="#2A90E0" fill-opacity="0.65"/>
<circle cx="179.39" cy="121.18" r="1.25" fill="#2A90E0" fill-opacity="0.65"/>
<circle cx="176.67" cy="123.50" r="1.25" fill="#2A90E0" fill-opacity="0.65"/>
<circle cx="180.11" cy="114.99" r="1.25" fill="#2A90E0" fill-opacity="0.65"/>
<circle cx="179.63" cy="122.51" r="1.25" fill="#2A90E0" fill-opacity="0.65"/>
<circle cx="179.82" cy="103.88" r="1.25" fill="#2A90E0" fill-opacity="0.65"/>
<circle cx="180.13" cy="154.10" r="1.25" fill="#2A90E0" fill-opacity="0.65"/>
<circle cx="181.57" cy="154.46" r="1.25" fill="#2A90E0" fill-opacity="0.65"/>
<circle cx="178.68" cy="146.74" r="1.25" fill="#2A90E0" fill-opacity="0.65"/>
<circle cx="179.67" cy="113.04" r="1.25" fill="#2A90E0" fill-opacity="0.65"/>
<circle cx="179.18" cy="95.82" r="1.25" fill="#2A90E0" fill-opacity="0.65"/>
<circle cx="179.53" cy="110.77" r="1.25" fill="#2A90E0" fill-opacity="0.65"/>
<circle cx="180.08" cy="148.24" r="1.25" fill="#2A90E0" fill-opacity="0.65"/>
<circle cx="177.13" cy="113.51" r="1.25" fill="#2A90E0" fill-opacity="0.65"/>
<circle cx="176.33" cy="149.43" r="1.25" fill="#2A90E0" fill-opacity="0.65"/>
<circle cx="176.70" cy="153.95" r="1.25" fill="#2A90E0" fill-opacity="0.65"/>
<circle cx="176.26" cy="79.45" r="1.25" fill="#2A90E0" fill-opacity="0.65"/>
<circle cx="179.33" cy="112.62" r="1.25" fill="#2A90E0" fill-opacity="0.65"/>
<circle cx="177.83" cy="117.60" r="1.25" fill="#2A90E0" fill-opacity="0.65"/>
<circle cx="180.71" cy="75.75" r="1.25" fill="#2A90E0" fill-opacity="0.65"/>
<circle cx="176.97" cy="144.59" r="1.25" fill="#2A90E0" fill-opacity="0.65"/>
<circle cx="176.90" cy="103.10" r="1.25" fill="#2A90E0" fill-opacity="0.65"/>
<circle cx="181.19" cy="116.06" r="1.25" fill="#2A90E0" fill-opacity="0.65"/>
<circle cx="176.54" cy="146.18" r="1.25" fill="#2A90E0" fill-opacity="0.65"/>
<circle cx="178.12" cy="137.72" r="1.25" fill="#2A90E0" fill-opacity="0.65"/>
<circle cx="180.14" cy="62.12" r="1.25" fill="#2A90E0" fill-opacity="0.65"/>
<circle cx="179.38" cy="110.91" r="1.25" fill="#2A90E0" fill-opacity="0.65"/>
<circle cx="177.60" cy="104.91" r="1.25" fill="#2A90E0" fill-opacity="0.65"/>
<circle cx="176.81" cy="138.65" r="1.25" fill="#2A90E0" fill-opacity="0.65"/>
<circle cx="179.47" cy="74.51" r="1.25" fill="#2A90E0" fill-opacity="0.65"/>
<circle cx="177.49" cy="160.09" r="1.25" fill="#2A90E0" fill-opacity="0.65"/>
<circle cx="181.14" cy="108.65" r="1.25" fill="#2A90E0" fill-opacity="0.65"/>
<circle cx="177.59" cy="109.99" r="1.25" fill="#2A90E0" fill-opacity="0.65"/>
<circle cx="181.60" cy="123.91" r="1.25" fill="#2A90E0" fill-opacity="0.65"/>
<circle cx="176.13" cy="150.31" r="1.25" fill="#2A90E0" fill-opacity="0.65"/>
<circle cx="179.67" cy="86.52" r="1.25" fill="#2A90E0" fill-opacity="0.65"/>
<circle cx="177.69" cy="72.34" r="1.25" fill="#2A90E0" fill-opacity="0.65"/>
<circle cx="178.85" cy="130.21" r="1.25" fill="#2A90E0" fill-opacity="0.65"/>
<circle cx="178.62" cy="64.85" r="1.25" fill="#2A90E0" fill-opacity="0.65"/>
<circle cx="180.85" cy="125.30" r="1.25" fill="#2A90E0" fill-opacity="0.65"/>
<circle cx="177.11" cy="112.12" r="1.25" fill="#2A90E0" fill-opacity="0.65"/>
<circle cx="180.61" cy="127.48" r="1.25" fill="#2A90E0" fill-opacity="0.65"/>
<circle cx="176.20" cy="127.76" r="1.25" fill="#2A90E0" fill-opacity="0.65"/>
<circle cx="179.82" cy="153.83" r="1.25" fill="#2A90E0" fill-opacity="0.65"/>
<circle cx="180.94" cy="142.79" r="1.25" fill="#2A90E0" fill-opacity="0.65"/>
<circle cx="178.58" cy="118.88" r="1.25" fill="#2A90E0" fill-opacity="0.65"/>
<circle cx="181.09" cy="128.00" r="1.25" fill="#2A90E0" fill-opacity="0.65"/>
<circle cx="178.13" cy="136.40" r="1.25" fill="#2A90E0" fill-opacity="0.65"/>
<circle cx="178.13" cy="80.01" r="1.25" fill="#2A90E0" fill-opacity="0.65"/>
<circle cx="181.47" cy="128.81" r="1.25" fill="#2A90E0" fill-opacity="0.65"/>
<circle cx="181.94" cy="67.35" r="1.25" fill="#2A90E0" fill-opacity="0.65"/>
<circle cx="180.74" cy="107.22" r="1.25" fill="#2A90E0" fill-opacity="0.65"/>
<circle cx="177.38" cy="84.88" r="1.25" fill="#2A90E0" fill-opacity="0.65"/>
<circle cx="181.65" cy="62.37" r="1.25" fill="#2A90E0" fill-opacity="0.65"/>
<circle cx="178.19" cy="69.93" r="1.25" fill="#2A90E0" fill-opacity="0.65"/>
<circle cx="181.21" cy="79.63" r="1.25" fill="#2A90E0" fill-opacity="0.65"/>
<circle cx="177.93" cy="64.06" r="1.25" fill="#2A90E0" fill-opacity="0.65"/>
<circle cx="177.31" cy="145.45" r="1.25" fill="#2A90E0" fill-opacity="0.65"/>
<circle cx="177.55" cy="80.71" r="1.25" fill="#2A90E0" fill-opacity="0.65"/>
<circle cx="180.15" cy="107.04" r="1.25" fill="#2A90E0" fill-opacity="0.65"/>
<circle cx="181.88" cy="109.98" r="1.25" fill="#2A90E0" fill-opacity="0.65"/>
<circle cx="179.13" cy="93.34" r="1.25" fill="#2A90E0" fill-opacity="0.65"/>
<circle cx="176.64" cy="118.43" r="1.25" fill="#2A90E0" fill-opacity="0.65"/>
<circle cx="180.11" cy="162.05" r="1.25" fill="#2A90E0" fill-opacity="0.65"/>
<circle cx="181.39" cy="107.72" r="1.25" fill="#2A90E0" fill-opacity="0.65"/>
<circle cx="180.69" cy="69.30" r="1.25" fill="#2A90E0" fill-opacity="0.65"/>
<circle cx="176.01" cy="128.33" r="1.25" fill="#2A90E0" fill-opacity="0.65"/>
<circle cx="177.87" cy="133.40" r="1.25" fill="#2A90E0" fill-opacity="0.65"/>
<circle cx="180.66" cy="135.01" r="1.25" fill="#2A90E0" fill-opacity="0.65"/>
<circle cx="180.21" cy="120.77" r="1.25" fill="#2A90E0" fill-opacity="0.65"/>
<circle cx="181.98" cy="116.59" r="1.25" fill="#2A90E0" fill-opacity="0.65"/>
<circle cx="181.39" cy="122.46" r="1.25" fill="#2A90E0" fill-opacity="0.65"/>
<circle cx="180.79" cy="108.59" r="1.25" fill="#2A90E0" fill-opacity="0.65"/>
<circle cx="180.14" cy="108.71" r="1.25" fill="#2A90E0" fill-opacity="0.65"/>
<circle cx="178.28" cy="67.38" r="1.25" fill="#2A90E0" fill-opacity="0.65"/>
<circle cx="176.21" cy="122.46" r="1.25" fill="#2A90E0" fill-opacity="0.65"/>
<circle cx="180.61" cy="123.72" r="1.25" fill="#2A90E0" fill-opacity="0.65"/>
<circle cx="178.74" cy="108.74" r="1.25" fill="#2A90E0" fill-opacity="0.65"/>
<circle cx="181.19" cy="102.98" r="1.25" fill="#2A90E0" fill-opacity="0.65"/>
<circle cx="176.79" cy="112.32" r="1.25" fill="#2A90E0" fill-opacity="0.65"/>
<circle cx="181.14" cy="108.78" r="1.25" fill="#2A90E0" fill-opacity="0.65"/>
<circle cx="179.87" cy="110.38" r="1.25" fill="#2A90E0" fill-opacity="0.65"/>
<circle cx="181.32" cy="121.76" r="1.25" fill="#2A90E0" fill-opacity="0.65"/>
<circle cx="180.21" cy="107.64" r="1.25" fill="#2A90E0" fill-opacity="0.65"/>
<circle cx="178.62" cy="136.61" r="1.25" fill="#2A90E0" fill-opacity="0.65"/>
<circle cx="179.10" cy="107.95" r="1.25" fill="#2A90E0" fill-opacity="0.65"/>
<circle cx="176.59" cy="100.86" r="1.25" fill="#2A90E0" fill-opacity="0.65"/>
<circle cx="177.45" cy="74.44" r="1.25" fill="#2A90E0" fill-opacity="0.65"/>
<circle cx="179.45" cy="75.17" r="1.25" fill="#2A90E0" fill-opacity="0.65"/>
<circle cx="177.07" cy="124.50" r="1.25" fill="#2A90E0" fill-opacity="0.65"/>
<circle cx="178.15" cy="109.78" r="1.25" fill="#2A90E0" fill-opacity="0.65"/>
<circle cx="179.86" cy="98.49" r="1.25" fill="#2A90E0" fill-opacity="0.65"/>
<circle cx="179.57" cy="119.45" r="1.25" fill="#2A90E0" fill-opacity="0.65"/>
<circle cx="181.36" cy="125.90" r="1.25" fill="#2A90E0" fill-opacity="0.65"/>
<circle cx="178.60" cy="107.17" r="1.25" fill="#2A90E0" fill-opacity="0.65"/>
<circle cx="179.32" cy="128.67" r="1.25" fill="#2A90E0" fill-opacity="0.65"/>
<circle cx="178.53" cy="87.07" r="1.25" fill="#2A90E0" fill-opacity="0.65"/>
<circle cx="180.53" cy="97.86" r="1.25" fill="#2A90E0" fill-opacity="0.65"/>
<circle cx="179.75" cy="132.17" r="1.25" fill="#2A90E0" fill-opacity="0.65"/>
<circle cx="181.67" cy="109.51" r="1.25" fill="#2A90E0" fill-opacity="0.65"/>
<circle cx="176.85" cy="108.49" r="1.25" fill="#2A90E0" fill-opacity="0.65"/>
<circle cx="176.76" cy="127.39" r="1.25" fill="#2A90E0" fill-opacity="0.65"/>
<circle cx="177.75" cy="143.46" r="1.25" fill="#2A90E0" fill-opacity="0.65"/>
<circle cx="179.70" cy="147.61" r="1.25" fill="#2A90E0" fill-opacity="0.65"/>
<circle cx="179.83" cy="116.26" r="1.25" fill="#2A90E0" fill-opacity="0.65"/>
<circle cx="177.21" cy="66.01" r="1.25" fill="#2A90E0" fill-opacity="0.65"/>
<circle cx="177.63" cy="123.77" r="1.25" fill="#2A90E0" fill-opacity="0.65"/>
<circle cx="179.57" cy="113.05" r="1.25" fill="#2A90E0" fill-opacity="0.65"/>
<circle cx="177.59" cy="102.55" r="1.25" fill="#2A90E0" fill-opacity="0.65"/>
<circle cx="180.98" cy="135.23" r="1.25" fill="#2A90E0" fill-opacity="0.65"/>
<circle cx="176.64" cy="66.75" r="1.25" fill="#2A90E0" fill-opacity="0.65"/>
<circle cx="180.70" cy="126.39" r="1.25" fill="#2A90E0" fill-opacity="0.65"/>
<circle cx="176.92" cy="114.73" r="1.25" fill="#2A90E0" fill-opacity="0.65"/>
<circle cx="180.29" cy="108.85" r="1.25" fill="#2A90E0" fill-opacity="0.65"/>
<circle cx="180.69" cy="111.94" r="1.25" fill="#2A90E0" fill-opacity="0.65"/>
<circle cx="181.66" cy="128.53" r="1.25" fill="#2A90E0" fill-opacity="0.65"/>
<circle cx="181.41" cy="129.95" r="1.25" fill="#2A90E0" fill-opacity="0.65"/>
<circle cx="176.15" cy="124.92" r="1.25" fill="#2A90E0" fill-opacity="0.65"/>
<circle cx="179.97" cy="91.50" r="1.25" fill="#2A90E0" fill-opacity="0.65"/>
<circle cx="181.46" cy="112.70" r="1.25" fill="#2A90E0" fill-opacity="0.65"/>
<circle cx="180.62" cy="126.39" r="1.25" fill="#2A90E0" fill-opacity="0.65"/>
<circle cx="178.73" cy="109.92" r="1.25" fill="#2A90E0" fill-opacity="0.65"/>
<circle cx="180.50" cy="126.09" r="1.25" fill="#2A90E0" fill-opacity="0.65"/>
<circle cx="177.70" cy="118.62" r="1.25" fill="#2A90E0" fill-opacity="0.65"/>
<circle cx="180.82" cy="139.95" r="1.25" fill="#2A90E0" fill-opacity="0.65"/>
<circle cx="178.44" cy="78.90" r="1.25" fill="#2A90E0" fill-opacity="0.65"/>
<circle cx="181.83" cy="119.63" r="1.25" fill="#2A90E0" fill-opacity="0.65"/>
<circle cx="176.17" cy="137.44" r="1.25" fill="#2A90E0" fill-opacity="0.65"/>
<circle cx="179.50" cy="129.71" r="1.25" fill="#2A90E0" fill-opacity="0.65"/>
<circle cx="176.78" cy="107.93" r="1.25" fill="#2A90E0" fill-opacity="0.65"/>
<circle cx="180.60" cy="112.75" r="1.25" fill="#2A90E0" fill-opacity="0.65"/>
<circle cx="181.82" cy="110.61" r="1.25" fill="#2A90E0" fill-opacity="0.65"/>
<circle cx="178.95" cy="124.85" r="1.25" fill="#2A90E0" fill-opacity="0.65"/>
<circle cx="181.05" cy="131.06" r="1.25" fill="#2A90E0" fill-opacity="0.65"/>
<circle cx="177.40" cy="106.87" r="1.25" fill="#2A90E0" fill-opacity="0.65"/>
<circle cx="176.17" cy="137.44" r="1.25" fill="#2A90E0" fill-opacity="0.65"/>
<circle cx="180.82" cy="125.48" r="1.25" fill="#2A90E0" fill-opacity="0.65"/>
<circle cx="178.46" cy="82.26" r="1.25" fill="#2A90E0" fill-opacity="0.65"/>
<circle cx="176.50" cy="110.10" r="1.25" fill="#2A90E0" fill-opacity="0.65"/>
<circle cx="180.04" cy="114.22" r="1.25" fill="#2A90E0" fill-opacity="0.65"/>
<circle cx="181.41" cy="105.32" r="1.25" fill="#2A90E0" fill-opacity="0.65"/>
<circle cx="176.50" cy="118.10" r="1.25" fill="#2A90E0" fill-opacity="0.65"/>
<circle cx="179.66" cy="115.49" r="1.25" fill="#2A90E0" fill-opacity="0.65"/>
<circle cx="178.09" cy="114.81" r="1.25" fill="#2A90E0" fill-opacity="0.65"/>
<circle cx="176.25" cy="111.79" r="1.25" fill="#2A90E0" fill-opacity="0.65"/>
<circle cx="176.44" cy="121.94" r="1.25" fill="#2A90E0" fill-opacity="0.65"/>
<circle cx="176.27" cy="106.65" r="1.25" fill="#2A90E0" fill-opacity="0.65"/>
<circle cx="177.84" cy="127.22" r="1.25" fill="#2A90E0" fill-opacity="0.65"/>
<circle cx="177.85" cy="87.28" r="1.25" fill="#2A90E0" fill-opacity="0.65"/>
<circle cx="179.22" cy="117.71" r="1.25" fill="#2A90E0" fill-opacity="0.65"/>
<circle cx="179.72" cy="108.44" r="1.25" fill="#2A90E0" fill-opacity="0.65"/>
<circle cx="181.10" cy="110.07" r="1.25" fill="#2A90E0" fill-opacity="0.65"/>
<circle cx="181.14" cy="121.97" r="1.25" fill="#2A90E0" fill-opacity="0.65"/>
<circle cx="177.03" cy="105.98" r="1.25" fill="#2A90E0" fill-opacity="0.65"/>
<circle cx="179.77" cy="64.22" r="1.25" fill="#2A90E0" fill-opacity="0.65"/>
<circle cx="181.26" cy="92.50" r="1.25" fill="#2A90E0" fill-opacity="0.65"/>
<circle cx="177.50" cy="112.96" r="1.25" fill="#2A90E0" fill-opacity="0.65"/>
<circle cx="179.62" cy="111.81" r="1.25" fill="#2A90E0" fill-opacity="0.65"/>
<circle cx="181.93" cy="108.40" r="1.25" fill="#2A90E0" fill-opacity="0.65"/>
<circle cx="179.81" cy="105.76" r="1.25" fill="#2A90E0" fill-opacity="0.65"/>
<circle cx="180.21" cy="129.91" r="1.25" fill="#2A90E0" fill-opacity="0.65"/>
<circle cx="177.86" cy="116.48" r="1.25" fill="#2A90E0" fill-opacity="0.65"/>
<circle cx="181.96" cy="99.29" r="1.25" fill="#2A90E0" fill-opacity="0.65"/>
<circle cx="180.99" cy="102.23" r="1.25" fill="#2A90E0" fill-opacity="0.65"/>
<circle cx="177.94" cy="135.18" r="1.25" fill="#2A90E0" fill-opacity="0.65"/>
<circle cx="177.81" cy="118.43" r="1.25" fill="#2A90E0" fill-opacity="0.65"/>
<circle cx="176.03" cy="123.53" r="1.25" fill="#2A90E0" fill-opacity="0.65"/>
<circle cx="178.89" cy="116.71" r="1.25" fill="#2A90E0" fill-opacity="0.65"/>
<circle cx="181.24" cy="120.53" r="1.25" fill="#2A90E0" fill-opacity="0.65"/>
<circle cx="180.71" cy="107.50" r="1.25" fill="#2A90E0" fill-opacity="0.65"/>
<circle cx="176.89" cy="100.34" r="1.25" fill="#2A90E0" fill-opacity="0.65"/>
<circle cx="177.45" cy="100.40" r="1.25" fill="#2A90E0" fill-opacity="0.65"/>
<circle cx="176.97" cy="102.00" r="1.25" fill="#2A90E0" fill-opacity="0.65"/>
<circle cx="177.56" cy="151.34" r="1.25" fill="#2A90E0" fill-opacity="0.65"/>
<circle cx="177.22" cy="128.78" r="1.25" fill="#2A90E0" fill-opacity="0.65"/>
<circle cx="176.99" cy="117.44" r="1.25" fill="#2A90E0" fill-opacity="0.65"/>
<circle cx="179.32" cy="114.54" r="1.25" fill="#2A90E0" fill-opacity="0.65"/>
<circle cx="181.49" cy="89.99" r="1.25" fill="#2A90E0" fill-opacity="0.65"/>
<circle cx="181.13" cy="131.44" r="1.25" fill="#2A90E0" fill-opacity="0.65"/>
<circle cx="179.73" cy="88.00" r="1.25" fill="#2A90E0" fill-opacity="0.65"/>
<circle cx="177.90" cy="136.66" r="1.25" fill="#2A90E0" fill-opacity="0.65"/>
<circle cx="181.45" cy="108.15" r="1.25" fill="#2A90E0" fill-opacity="0.65"/>
<circle cx="177.27" cy="93.40" r="1.25" fill="#2A90E0" fill-opacity="0.65"/>
<circle cx="176.23" cy="145.49" r="1.25" fill="#2A90E0" fill-opacity="0.65"/>
<circle cx="177.30" cy="100.29" r="1.25" fill="#2A90E0" fill-opacity="0.65"/>
<circle cx="180.74" cy="111.95" r="1.25" fill="#2A90E0" fill-opacity="0.65"/>
<circle cx="180.20" cy="113.77" r="1.25" fill="#2A90E0" fill-opacity="0.65"/>
<circle cx="177.86" cy="92.04" r="1.25" fill="#2A90E0" fill-opacity="0.65"/>
<circle cx="177.32" cy="125.10" r="1.25" fill="#2A90E0" fill-opacity="0.65"/>
<circle cx="179.82" cy="94.60" r="1.25" fill="#2A90E0" fill-opacity="0.65"/>
<circle cx="179.07" cy="113.21" r="1.25" fill="#2A90E0" fill-opacity="0.65"/>
<circle cx="180.76" cy="97.77" r="1.25" fill="#2A90E0" fill-opacity="0.65"/>
<circle cx="178.68" cy="147.81" r="1.25" fill="#2A90E0" fill-opacity="0.65"/>
<circle cx="176.50" cy="117.23" r="1.25" fill="#2A90E0" fill-opacity="0.65"/>
<circle cx="176.42" cy="145.21" r="1.25" fill="#2A90E0" fill-opacity="0.65"/>
<circle cx="177.39" cy="107.70" r="1.25" fill="#2A90E0" fill-opacity="0.65"/>
<circle cx="179.14" cy="120.83" r="1.25" fill="#2A90E0" fill-opacity="0.65"/>
<circle cx="180.29" cy="126.97" r="1.25" fill="#2A90E0" fill-opacity="0.65"/>
<circle cx="179.34" cy="117.67" r="1.25" fill="#2A90E0" fill-opacity="0.65"/>
<circle cx="176.06" cy="111.93" r="1.25" fill="#2A90E0" fill-opacity="0.65"/>
<circle cx="181.72" cy="138.56" r="1.25" fill="#2A90E0" fill-opacity="0.65"/>
<circle cx="178.75" cy="123.82" r="1.25" fill="#2A90E0" fill-opacity="0.65"/>
<circle cx="179.24" cy="117.66" r="1.25" fill="#2A90E0" fill-opacity="0.65"/>
<circle cx="177.15" cy="132.65" r="1.25" fill="#2A90E0" fill-opacity="0.65"/>
<circle cx="177.46" cy="71.81" r="1.25" fill="#2A90E0" fill-opacity="0.65"/>
<circle cx="177.29" cy="99.41" r="1.25" fill="#2A90E0" fill-opacity="0.65"/>
<circle cx="179.64" cy="125.95" r="1.25" fill="#2A90E0" fill-opacity="0.65"/>
<circle cx="181.45" cy="110.41" r="1.25" fill="#2A90E0" fill-opacity="0.65"/>
<circle cx="177.58" cy="111.89" r="1.25" fill="#2A90E0" fill-opacity="0.65"/>
<circle cx="178.10" cy="92.25" r="1.25" fill="#2A90E0" fill-opacity="0.65"/>
<circle cx="177.72" cy="110.41" r="1.25" fill="#2A90E0" fill-opacity="0.65"/>
<circle cx="176.17" cy="143.61" r="1.25" fill="#2A90E0" fill-opacity="0.65"/>
<circle cx="176.06" cy="108.22" r="1.25" fill="#2A90E0" fill-opacity="0.65"/>
<circle cx="180.69" cy="100.00" r="1.25" fill="#2A90E0" fill-opacity="0.65"/>
<circle cx="181.87" cy="111.65" r="1.25" fill="#2A90E0" fill-opacity="0.65"/>
<circle cx="176.25" cy="137.29" r="1.25" fill="#2A90E0" fill-opacity="0.65"/>
<circle cx="176.46" cy="105.76" r="1.25" fill="#2A90E0" fill-opacity="0.65"/>
<circle cx="178.71" cy="89.63" r="1.25" fill="#2A90E0" fill-opacity="0.65"/>
<circle cx="177.83" cy="121.01" r="1.25" fill="#2A90E0" fill-opacity="0.65"/>
<circle cx="177.48" cy="110.67" r="1.25" fill="#2A90E0" fill-opacity="0.65"/>
<circle cx="181.22" cy="119.27" r="1.25" fill="#2A90E0" fill-opacity="0.65"/>
<circle cx="177.16" cy="88.48" r="1.25" fill="#2A90E0" fill-opacity="0.65"/>
<circle cx="177.17" cy="98.22" r="1.25" fill="#2A90E0" fill-opacity="0.65"/>
<circle cx="181.44" cy="111.31" r="1.25" fill="#2A90E0" fill-opacity="0.65"/>
<circle cx="179.74" cy="123.04" r="1.25" fill="#2A90E0" fill-opacity="0.65"/>
<circle cx="180.12" cy="150.98" r="1.25" fill="#2A90E0" fill-opacity="0.65"/>
<circle cx="180.01" cy="143.47" r="1.25" fill="#2A90E0" fill-opacity="0.65"/>
<circle cx="176.15" cy="138.93" r="1.25" fill="#2A90E0" fill-opacity="0.65"/>
<circle cx="181.87" cy="135.30" r="1.25" fill="#2A90E0" fill-opacity="0.65"/>
<circle cx="176.17" cy="137.02" r="1.25" fill="#2A90E0" fill-opacity="0.65"/>
<circle cx="177.36" cy="129.04" r="1.25" fill="#2A90E0" fill-opacity="0.65"/>
<circle cx="178.85" cy="128.91" r="1.25" fill="#2A90E0" fill-opacity="0.65"/>
<circle cx="181.03" cy="109.97" r="1.25" fill="#2A90E0" fill-opacity="0.65"/>
<circle cx="181.70" cy="108.34" r="1.25" fill="#2A90E0" fill-opacity="0.65"/>
<circle cx="176.05" cy="142.36" r="1.25" fill="#2A90E0" fill-opacity="0.65"/>
<circle cx="176.83" cy="97.32" r="1.25" fill="#2A90E0" fill-opacity="0.65"/>
<circle cx="176.10" cy="106.91" r="1.25" fill="#2A90E0" fill-opacity="0.65"/>
<circle cx="176.82" cy="112.66" r="1.25" fill="#2A90E0" fill-opacity="0.65"/>
<circle cx="181.48" cy="120.06" r="1.25" fill="#2A90E0" fill-opacity="0.65"/>
<circle cx="176.51" cy="105.35" r="1.25" fill="#2A90E0" fill-opacity="0.65"/>
<circle cx="179.23" cy="108.86" r="1.25" fill="#2A90E0" fill-opacity="0.65"/>
<circle cx="177.17" cy="103.43" r="1.25" fill="#2A90E0" fill-opacity="0.65"/>
<circle cx="176.05" cy="104.16" r="1.25" fill="#2A90E0" fill-opacity="0.65"/>
<circle cx="177.68" cy="109.99" r="1.25" fill="#2A90E0" fill-opacity="0.65"/>
<circle cx="177.55" cy="97.16" r="1.25" fill="#2A90E0" fill-opacity="0.65"/>
<circle cx="179.26" cy="96.07" r="1.25" fill="#2A90E0" fill-opacity="0.65"/>
<circle cx="181.24" cy="119.88" r="1.25" fill="#2A90E0" fill-opacity="0.65"/>
<circle cx="179.18" cy="115.18" r="1.25" fill="#2A90E0" fill-opacity="0.65"/>
<circle cx="179.20" cy="128.78" r="1.25" fill="#2A90E0" fill-opacity="0.65"/>
<circle cx="177.67" cy="111.41" r="1.25" fill="#2A90E0" fill-opacity="0.65"/>
<circle cx="177.08" cy="98.77" r="1.25" fill="#2A90E0" fill-opacity="0.65"/>
<circle cx="178.88" cy="107.32" r="1.25" fill="#2A90E0" fill-opacity="0.65"/>
<circle cx="178.36" cy="111.02" r="1.25" fill="#2A90E0" fill-opacity="0.65"/>
<circle cx="181.41" cy="92.08" r="1.25" fill="#2A90E0" fill-opacity="0.65"/>
<circle cx="177.25" cy="114.88" r="1.25" fill="#2A90E0" fill-opacity="0.65"/>
<circle cx="176.15" cy="118.23" r="1.25" fill="#2A90E0" fill-opacity="0.65"/>
<circle cx="176.31" cy="166.00" r="1.25" fill="#2A90E0" fill-opacity="0.65"/>
<circle cx="177.90" cy="169.00" r="1.25" fill="#2A90E0" fill-opacity="0.65"/>
<circle cx="177.31" cy="172.00" r="1.25" fill="#2A90E0" fill-opacity="0.65"/>
<circle cx="178.38" cy="175.00" r="1.25" fill="#2A90E0" fill-opacity="0.65"/>
<circle cx="181.28" cy="178.00" r="1.25" fill="#2A90E0" fill-opacity="0.65"/>
<circle cx="180.37" cy="181.00" r="1.25" fill="#2A90E0" fill-opacity="0.65"/>
<circle cx="179.56" cy="184.00" r="1.25" fill="#2A90E0" fill-opacity="0.65"/>
<circle cx="180.99" cy="187.00" r="1.25" fill="#2A90E0" fill-opacity="0.65"/>
<circle cx="181.27" cy="190.00" r="1.25" fill="#2A90E0" fill-opacity="0.65"/>
<circle cx="176.39" cy="170.00" r="1.25" fill="#2A90E0" fill-opacity="0.65"/>
<circle cx="180.13" cy="176.00" r="1.25" fill="#2A90E0" fill-opacity="0.65"/>
<circle cx="211.85" cy="170.17" r="1.25" fill="#E69F00" fill-opacity="0.65"/>
<circle cx="212.13" cy="136.29" r="1.25" fill="#E69F00" fill-opacity="0.65"/>
<circle cx="206.89" cy="162.33" r="1.25" fill="#E69F00" fill-opacity="0.65"/>
<circle cx="211.61" cy="128.10" r="1.25" fill="#E69F00" fill-opacity="0.65"/>
<circle cx="211.83" cy="63.83" r="1.25" fill="#E69F00" fill-opacity="0.65"/>
<circle cx="207.04" cy="108.32" r="1.25" fill="#E69F00" fill-opacity="0.65"/>
<circle cx="210.32" cy="117.17" r="1.25" fill="#E69F00" fill-opacity="0.65"/>
<circle cx="209.65" cy="158.48" r="1.25" fill="#E69F00" fill-opacity="0.65"/>
<circle cx="207.85" cy="130.57" r="1.25" fill="#E69F00" fill-opacity="0.65"/>
<circle cx="225.11" cy="77.62" r="1.25" fill="#2A90E0" fill-opacity="0.65"/>
<circle cx="225.22" cy="92.74" r="1.25" fill="#2A90E0" fill-opacity="0.65"/>
<circle cx="226.87" cy="81.57" r="1.25" fill="#2A90E0" fill-opacity="0.65"/>
<circle cx="228.23" cy="57.00" r="1.25" fill="#2A90E0" fill-opacity="0.65"/>
<circle cx="228.71" cy="117.66" r="1.25" fill="#2A90E0" fill-opacity="0.65"/>
<circle cx="229.09" cy="100.88" r="1.25" fill="#2A90E0" fill-opacity="0.65"/>
<circle cx="225.10" cy="78.28" r="1.25" fill="#2A90E0" fill-opacity="0.65"/>
<circle cx="230.24" cy="72.57" r="1.25" fill="#2A90E0" fill-opacity="0.65"/>
<circle cx="226.43" cy="68.99" r="1.25" fill="#2A90E0" fill-opacity="0.65"/>
<circle cx="230.80" cy="77.62" r="1.25" fill="#2A90E0" fill-opacity="0.65"/>
<circle cx="227.07" cy="119.92" r="1.25" fill="#2A90E0" fill-opacity="0.65"/>
<circle cx="230.07" cy="149.36" r="1.25" fill="#2A90E0" fill-opacity="0.65"/>
<circle cx="229.28" cy="107.40" r="1.25" fill="#2A90E0" fill-opacity="0.65"/>
<circle cx="225.14" cy="140.19" r="1.25" fill="#2A90E0" fill-opacity="0.65"/>
<circle cx="228.07" cy="96.31" r="1.25" fill="#2A90E0" fill-opacity="0.65"/>
<circle cx="227.36" cy="91.32" r="1.25" fill="#2A90E0" fill-opacity="0.65"/>
<circle cx="230.96" cy="106.79" r="1.25" fill="#2A90E0" fill-opacity="0.65"/>
<circle cx="226.39" cy="73.04" r="1.25" fill="#2A90E0" fill-opacity="0.65"/>
<circle cx="227.37" cy="108.63" r="1.25" fill="#2A90E0" fill-opacity="0.65"/>
<circle cx="226.05" cy="99.52" r="1.25" fill="#2A90E0" fill-opacity="0.65"/>
<circle cx="225.03" cy="106.83" r="1.25" fill="#2A90E0" fill-opacity="0.65"/>
<circle cx="228.23" cy="59.72" r="1.25" fill="#2A90E0" fill-opacity="0.65"/>
<circle cx="228.72" cy="149.38" r="1.25" fill="#2A90E0" fill-opacity="0.65"/>
<circle cx="225.98" cy="106.27" r="1.25" fill="#2A90E0" fill-opacity="0.65"/>
<circle cx="230.03" cy="77.60" r="1.25" fill="#2A90E0" fill-opacity="0.65"/>
<circle cx="226.33" cy="88.60" r="1.25" fill="#2A90E0" fill-opacity="0.65"/>
<circle cx="230.62" cy="111.82" r="1.25" fill="#2A90E0" fill-opacity="0.65"/>
<circle cx="229.04" cy="127.39" r="1.25" fill="#2A90E0" fill-opacity="0.65"/>
<circle cx="230.83" cy="106.13" r="1.25" fill="#2A90E0" fill-opacity="0.65"/>
<circle cx="227.63" cy="109.17" r="1.25" fill="#2A90E0" fill-opacity="0.65"/>
<circle cx="230.03" cy="115.32" r="1.25" fill="#2A90E0" fill-opacity="0.65"/>
<circle cx="228.63" cy="138.09" r="1.25" fill="#2A90E0" fill-opacity="0.65"/>
<circle cx="229.29" cy="126.61" r="1.25" fill="#2A90E0" fill-opacity="0.65"/>
<circle cx="227.46" cy="102.20" r="1.25" fill="#2A90E0" fill-opacity="0.65"/>
<circle cx="228.07" cy="97.04" r="1.25" fill="#2A90E0" fill-opacity="0.65"/>
<circle cx="226.63" cy="109.46" r="1.25" fill="#2A90E0" fill-opacity="0.65"/>
<circle cx="227.02" cy="96.81" r="1.25" fill="#2A90E0" fill-opacity="0.65"/>
<circle cx="230.55" cy="88.48" r="1.25" fill="#2A90E0" fill-opacity="0.65"/>
<circle cx="225.47" cy="133.88" r="1.25" fill="#2A90E0" fill-opacity="0.65"/>
<circle cx="229.99" cy="114.62" r="1.25" fill="#2A90E0" fill-opacity="0.65"/>
<circle cx="229.50" cy="86.38" r="1.25" fill="#2A90E0" fill-opacity="0.65"/>
<circle cx="225.97" cy="119.62" r="1.25" fill="#2A90E0" fill-opacity="0.65"/>
<circle cx="227.58" cy="86.97" r="1.25" fill="#2A90E0" fill-opacity="0.65"/>
<circle cx="230.01" cy="88.74" r="1.25" fill="#2A90E0" fill-opacity="0.65"/>
<circle cx="228.05" cy="74.42" r="1.25" fill="#2A90E0" fill-opacity="0.65"/>
<circle cx="228.05" cy="84.05" r="1.25" fill="#2A90E0" fill-opacity="0.65"/>
<circle cx="228.02" cy="99.39" r="1.25" fill="#2A90E0" fill-opacity="0.65"/>
<circle cx="226.03" cy="115.82" r="1.25" fill="#2A90E0" fill-opacity="0.65"/>
<circle cx="230.94" cy="181.30" r="1.25" fill="#2A90E0" fill-opacity="0.65"/>
<circle cx="229.49" cy="186.40" r="1.25" fill="#2A90E0" fill-opacity="0.65"/>
<circle cx="226.71" cy="190.80" r="1.25" fill="#2A90E0" fill-opacity="0.65"/>
<line x1="41.60" y1="34.30" x2="247.80" y2="34.30" stroke="#333" stroke-width="1"/>
<line x1="247.80" y1="34.30" x2="247.80" y2="198.80" stroke="#808080" stroke-width="1"/>
<line x1="41.60" y1="34.30" x2="41.60" y2="198.80" stroke="#808080" stroke-width="1"/>
<line x1="41.10" y1="198.80" x2="248.30" y2="198.80" stroke="#808080" stroke-width="1.6"/>
<line x1="39.00" y1="193.50" x2="41.60" y2="193.50" stroke="#333" stroke-width="0.8"/>
<text x="37.60" y="198.50" font-size="12.6" text-anchor="end" fill="#1a1a1a" stroke="#1a1a1a" stroke-width="0.22">0</text>
<line x1="39.00" y1="155.30" x2="41.60" y2="155.30" stroke="#333" stroke-width="0.8"/>
<text x="37.60" y="160.30" font-size="12.6" text-anchor="end" fill="#1a1a1a" stroke="#1a1a1a" stroke-width="0.22">1</text>
<line x1="39.00" y1="117.10" x2="41.60" y2="117.10" stroke="#333" stroke-width="0.8"/>
<text x="37.60" y="122.10" font-size="12.6" text-anchor="end" fill="#1a1a1a" stroke="#1a1a1a" stroke-width="0.22">2</text>
<line x1="39.00" y1="78.90" x2="41.60" y2="78.90" stroke="#333" stroke-width="0.8"/>
<text x="37.60" y="83.90" font-size="12.6" text-anchor="end" fill="#1a1a1a" stroke="#1a1a1a" stroke-width="0.22">3</text>
<line x1="39.00" y1="40.70" x2="41.60" y2="40.70" stroke="#333" stroke-width="0.8"/>
<text x="37.60" y="45.70" font-size="12.6" text-anchor="end" fill="#1a1a1a" stroke="#1a1a1a" stroke-width="0.22">4</text>
<line x1="71.00" y1="198.80" x2="71.00" y2="201.20" stroke="#808080" stroke-width="0.8"/>
<text x="71.00" y="211.80" font-size="12.6" text-anchor="middle" fill="#1a1a1a" stroke="#1a1a1a" stroke-width="0.22">d1</text>
<line x1="120.30" y1="198.80" x2="120.30" y2="201.20" stroke="#808080" stroke-width="0.8"/>
<text x="120.30" y="211.80" font-size="12.6" text-anchor="middle" fill="#1a1a1a" stroke="#1a1a1a" stroke-width="0.22">d3</text>
<line x1="169.70" y1="198.80" x2="169.70" y2="201.20" stroke="#808080" stroke-width="0.8"/>
<text x="169.70" y="211.80" font-size="12.6" text-anchor="middle" fill="#1a1a1a" stroke="#1a1a1a" stroke-width="0.22">d5</text>
<line x1="219.00" y1="198.80" x2="219.00" y2="201.20" stroke="#808080" stroke-width="0.8"/>
<text x="219.00" y="211.80" font-size="12.6" text-anchor="middle" fill="#1a1a1a" stroke="#1a1a1a" stroke-width="0.22">d7</text>
<text x="143.80" y="229.10" font-size="12.6" text-anchor="middle" fill="#1a1a1a" stroke="#1a1a1a" stroke-width="0.22">Days after admission</text>
<text x="27.60" y="103.20" font-size="12.6" text-anchor="middle" fill="#1a1a1a" stroke="#1a1a1a" stroke-width="0.22" transform="rotate(-90 27.60 103.20)">Shannon index</text>
<rect x="61.20" y="35.00" width="20.00" height="6.00" fill="#FFFFFF" stroke="none" stroke-width="1"/>
<path d="M61.2 45.8 V41.4 H81.2 V45.8" fill="none" stroke="#333" stroke-width="1"/>
<text x="71.20" y="44.40" font-size="12.6" text-anchor="middle" fill="#1a1a1a" stroke="#1a1a1a" stroke-width="0.22" style="stroke-width:0.4">****</text>
<rect x="110.50" y="35.00" width="19.70" height="6.00" fill="#FFFFFF" stroke="none" stroke-width="1"/>
<path d="M110.5 45.8 V41.4 H130.2 V45.8" fill="none" stroke="#333" stroke-width="1"/>
<text x="120.35" y="44.40" font-size="12.6" text-anchor="middle" fill="#1a1a1a" stroke="#1a1a1a" stroke-width="0.22" style="stroke-width:0.4">****</text>
<rect x="159.30" y="35.00" width="20.00" height="6.00" fill="#FFFFFF" stroke="none" stroke-width="1"/>
<path d="M159.3 45.8 V41.4 H179.3 V45.8" fill="none" stroke="#333" stroke-width="1"/>
<text x="169.30" y="44.40" font-size="12.6" text-anchor="middle" fill="#1a1a1a" stroke="#1a1a1a" stroke-width="0.22" style="stroke-width:0.4">****</text>
<line x1="82.35" y1="20.90" x2="82.35" y2="22.50" stroke="#DBA93C" stroke-width="0.9"/>
<line x1="82.35" y1="28.00" x2="82.35" y2="29.60" stroke="#DBA93C" stroke-width="0.9"/>
<rect x="77.50" y="22.50" width="9.70" height="5.50" fill="none" stroke="#DBA93C" stroke-width="0.9"/>
<line x1="77.50" y1="25.25" x2="87.20" y2="25.25" stroke="#DBA93C" stroke-width="1.1"/>
<circle cx="82.35" cy="25.25" r="1.00" fill="#DBA93C"/>
<text x="91.00" y="28.60" font-size="12.6" text-anchor="start" fill="#1a1a1a" stroke="#1a1a1a" stroke-width="0.22">Severe</text>
<line x1="141.35" y1="20.90" x2="141.35" y2="22.50" stroke="#4A8CBF" stroke-width="0.9"/>
<line x1="141.35" y1="28.00" x2="141.35" y2="29.60" stroke="#4A8CBF" stroke-width="0.9"/>
<rect x="136.50" y="22.50" width="9.70" height="5.50" fill="none" stroke="#4A8CBF" stroke-width="0.9"/>
<line x1="136.50" y1="25.25" x2="146.20" y2="25.25" stroke="#4A8CBF" stroke-width="1.1"/>
<circle cx="141.35" cy="25.25" r="1.00" fill="#4A8CBF"/>
<text x="149.00" y="28.60" font-size="12.6" text-anchor="start" fill="#1a1a1a" stroke="#1a1a1a" stroke-width="0.22">Non-severe</text>
<text x="0.20" y="14.60" font-size="16.8" text-anchor="start" fill="#1a1a1a" stroke="#1a1a1a" stroke-width="0.22">A</text>
</g>
<line x1="319.90" y1="167.80" x2="395.70" y2="167.80" stroke="#F5F5F5" stroke-width="0.6"/>
<line x1="319.90" y1="124.40" x2="395.70" y2="124.40" stroke="#F5F5F5" stroke-width="0.6"/>
<line x1="319.90" y1="81.00" x2="395.70" y2="81.00" stroke="#F5F5F5" stroke-width="0.6"/>
<line x1="319.90" y1="37.60" x2="395.70" y2="37.60" stroke="#F5F5F5" stroke-width="0.6"/>
<line x1="319.90" y1="189.50" x2="395.70" y2="189.50" stroke="#EBEBEB" stroke-width="1"/>
<line x1="319.90" y1="146.10" x2="395.70" y2="146.10" stroke="#EBEBEB" stroke-width="1"/>
<line x1="319.90" y1="102.70" x2="395.70" y2="102.70" stroke="#EBEBEB" stroke-width="1"/>
<line x1="319.90" y1="59.30" x2="395.70" y2="59.30" stroke="#EBEBEB" stroke-width="1"/>
<line x1="340.50" y1="30.90" x2="340.50" y2="195.90" stroke="#EBEBEB" stroke-width="1"/>
<line x1="375.30" y1="30.90" x2="375.30" y2="195.90" stroke="#EBEBEB" stroke-width="1"/>
<line x1="340.50" y1="64.00" x2="340.50" y2="130.40" stroke="#333" stroke-width="0.9"/>
<line x1="340.50" y1="177.50" x2="340.50" y2="189.40" stroke="#333" stroke-width="0.9"/>
<rect x="331.30" y="130.40" width="18.00" height="47.10" fill="#E69F00" stroke="#333" stroke-width="0.8"/>
<line x1="331.30" y1="160.50" x2="349.30" y2="160.50" stroke="#1a1a1a" stroke-width="1.6"/>
<circle cx="340.50" cy="46.70" r="0.90" fill="#222"/>
<circle cx="340.50" cy="54.70" r="0.90" fill="#222"/>
<circle cx="340.50" cy="60.00" r="0.90" fill="#222"/>
<line x1="375.30" y1="94.70" x2="375.30" y2="145.10" stroke="#333" stroke-width="0.9"/>
<line x1="375.30" y1="180.20" x2="375.30" y2="189.40" stroke="#333" stroke-width="0.9"/>
<rect x="366.30" y="145.10" width="17.30" height="35.10" fill="#2A93E0" stroke="#333" stroke-width="0.8"/>
<line x1="366.30" y1="169.20" x2="383.60" y2="169.20" stroke="#1a1a1a" stroke-width="1.6"/>
<circle cx="375.30" cy="44.00" r="0.90" fill="#222"/>
<circle cx="375.30" cy="49.30" r="0.90" fill="#222"/>
<circle cx="375.30" cy="53.50" r="0.90" fill="#222"/>
<circle cx="375.30" cy="55.50" r="0.90" fill="#222"/>
<circle cx="375.30" cy="56.50" r="0.90" fill="#222"/>
<circle cx="375.30" cy="57.50" r="0.90" fill="#222"/>
<circle cx="375.30" cy="58.50" r="0.90" fill="#222"/>
<circle cx="375.30" cy="59.50" r="0.90" fill="#222"/>
<circle cx="375.30" cy="60.50" r="0.90" fill="#222"/>
<circle cx="375.30" cy="61.50" r="0.90" fill="#222"/>
<circle cx="375.30" cy="62.50" r="0.90" fill="#222"/>
<circle cx="375.30" cy="63.50" r="0.90" fill="#222"/>
<circle cx="375.30" cy="66.00" r="0.90" fill="#222"/>
<circle cx="375.30" cy="69.00" r="0.90" fill="#222"/>
<circle cx="375.30" cy="72.00" r="0.90" fill="#222"/>
<circle cx="375.30" cy="74.50" r="0.90" fill="#222"/>
<circle cx="375.30" cy="77.00" r="0.90" fill="#222"/>
<circle cx="375.30" cy="83.50" r="0.90" fill="#222"/>
<circle cx="375.30" cy="86.00" r="0.90" fill="#222"/>
<circle cx="375.30" cy="89.40" r="0.90" fill="#222"/>
<path d="M340.5 43 V38.1 H375.3 V43" fill="none" stroke="#333" stroke-width="0.9"/>
<text x="358.00" y="40.70" font-size="12.6" text-anchor="middle" fill="#1a1a1a" stroke="#1a1a1a" stroke-width="0.22" style="stroke-width:0.5">*</text>
<rect x="319.90" y="30.90" width="75.80" height="165.00" fill="none" stroke="#5E5E5E" stroke-width="1.1"/>
<line x1="317.40" y1="189.50" x2="319.90" y2="189.50" stroke="#333" stroke-width="0.8"/>
<text x="317.60" y="193.90" font-size="12.6" text-anchor="end" fill="#1a1a1a" stroke="#1a1a1a" stroke-width="0.22">0.0</text>
<line x1="317.40" y1="146.10" x2="319.90" y2="146.10" stroke="#333" stroke-width="0.8"/>
<text x="317.60" y="150.50" font-size="12.6" text-anchor="end" fill="#1a1a1a" stroke="#1a1a1a" stroke-width="0.22">0.2</text>
<line x1="317.40" y1="102.70" x2="319.90" y2="102.70" stroke="#333" stroke-width="0.8"/>
<text x="317.60" y="107.10" font-size="12.6" text-anchor="end" fill="#1a1a1a" stroke="#1a1a1a" stroke-width="0.22">0.4</text>
<line x1="317.40" y1="59.30" x2="319.90" y2="59.30" stroke="#333" stroke-width="0.8"/>
<text x="317.60" y="63.70" font-size="12.6" text-anchor="end" fill="#1a1a1a" stroke="#1a1a1a" stroke-width="0.22">0.6</text>
<line x1="340.50" y1="195.90" x2="340.50" y2="198.30" stroke="#333" stroke-width="0.8"/>
<line x1="375.30" y1="195.90" x2="375.30" y2="198.30" stroke="#333" stroke-width="0.8"/>
<text x="336.00" y="211.20" font-size="12.6" text-anchor="middle" fill="#1a1a1a" stroke="#1a1a1a" stroke-width="0.22">Severe</text>
<text x="393.30" y="211.20" font-size="12.6" text-anchor="middle" fill="#1a1a1a" stroke="#1a1a1a" stroke-width="0.22">Non-severe</text>
<text x="279.90" y="119.10" font-size="12.6" text-anchor="middle" fill="#1a1a1a" stroke="#1a1a1a" stroke-width="0.22" transform="rotate(-90 279.90 119.10)">Distance between</text>
<text x="293.40" y="117.20" font-size="12.6" text-anchor="middle" fill="#1a1a1a" stroke="#1a1a1a" stroke-width="0.22" transform="rotate(-90 293.40 117.20)">consecutive samples</text>
<text x="259.20" y="20.00" font-size="16.8" text-anchor="start" fill="#1a1a1a" stroke="#1a1a1a" stroke-width="0.22">B</text>
<line x1="467.30" y1="172.95" x2="668.60" y2="172.95" stroke="#F5F5F5" stroke-width="0.6"/>
<line x1="467.30" y1="137.05" x2="668.60" y2="137.05" stroke="#F5F5F5" stroke-width="0.6"/>
<line x1="467.30" y1="101.15" x2="668.60" y2="101.15" stroke="#F5F5F5" stroke-width="0.6"/>
<line x1="467.30" y1="65.25" x2="668.60" y2="65.25" stroke="#F5F5F5" stroke-width="0.6"/>
<line x1="467.30" y1="190.90" x2="668.60" y2="190.90" stroke="#EBEBEB" stroke-width="1"/>
<line x1="467.30" y1="155.00" x2="668.60" y2="155.00" stroke="#EBEBEB" stroke-width="1"/>
<line x1="467.30" y1="119.10" x2="668.60" y2="119.10" stroke="#EBEBEB" stroke-width="1"/>
<line x1="467.30" y1="83.20" x2="668.60" y2="83.20" stroke="#EBEBEB" stroke-width="1"/>
<line x1="467.30" y1="47.30" x2="668.60" y2="47.30" stroke="#EBEBEB" stroke-width="1"/>
<line x1="504.50" y1="31.60" x2="504.50" y2="197.80" stroke="#EBEBEB" stroke-width="1"/>
<line x1="567.70" y1="31.60" x2="567.70" y2="197.80" stroke="#EBEBEB" stroke-width="1"/>
<line x1="631.00" y1="31.60" x2="631.00" y2="197.80" stroke="#EBEBEB" stroke-width="1"/>
<line x1="492.80" y1="104.20" x2="492.80" y2="145.40" stroke="#DBA93C" stroke-width="1"/>
<line x1="492.80" y1="179.20" x2="492.80" y2="188.70" stroke="#DBA93C" stroke-width="1"/>
<rect x="481.80" y="145.40" width="22.00" height="33.80" fill="none" stroke="#DBA93C" stroke-width="1.0"/>
<line x1="481.80" y1="170.70" x2="503.80" y2="170.70" stroke="#E3A21A" stroke-width="1.8"/>
<line x1="516.50" y1="120.00" x2="516.50" y2="155.50" stroke="#4A8CBF" stroke-width="1"/>
<line x1="516.50" y1="183.00" x2="516.50" y2="190.00" stroke="#4A8CBF" stroke-width="1"/>
<rect x="505.50" y="155.50" width="22.00" height="27.50" fill="none" stroke="#4A8CBF" stroke-width="1.0"/>
<line x1="505.50" y1="175.80" x2="527.50" y2="175.80" stroke="#1F86D6" stroke-width="1.8"/>
<line x1="556.00" y1="68.50" x2="556.00" y2="115.20" stroke="#DBA93C" stroke-width="1"/>
<line x1="556.00" y1="166.90" x2="556.00" y2="190.20" stroke="#DBA93C" stroke-width="1"/>
<rect x="545.30" y="115.20" width="21.50" height="51.70" fill="none" stroke="#DBA93C" stroke-width="1.0"/>
<line x1="545.30" y1="147.30" x2="566.80" y2="147.30" stroke="#E3A21A" stroke-width="1.8"/>
<line x1="579.40" y1="104.80" x2="579.40" y2="148.50" stroke="#4A8CBF" stroke-width="1"/>
<line x1="579.40" y1="177.30" x2="579.40" y2="190.50" stroke="#4A8CBF" stroke-width="1"/>
<rect x="568.30" y="148.50" width="22.20" height="28.80" fill="none" stroke="#4A8CBF" stroke-width="1.0"/>
<line x1="568.30" y1="166.90" x2="590.50" y2="166.90" stroke="#1F86D6" stroke-width="1.8"/>
<line x1="619.00" y1="84.00" x2="619.00" y2="91.80" stroke="#DBA93C" stroke-width="1"/>
<line x1="619.00" y1="171.90" x2="619.00" y2="189.20" stroke="#DBA93C" stroke-width="1"/>
<rect x="608.10" y="91.80" width="21.70" height="80.10" fill="none" stroke="#DBA93C" stroke-width="1.0"/>
<line x1="608.10" y1="147.00" x2="629.80" y2="147.00" stroke="#E3A21A" stroke-width="1.8"/>
<line x1="642.60" y1="120.20" x2="642.60" y2="151.00" stroke="#4A8CBF" stroke-width="1"/>
<line x1="642.60" y1="181.30" x2="642.60" y2="190.40" stroke="#4A8CBF" stroke-width="1"/>
<rect x="631.80" y="151.00" width="21.70" height="30.30" fill="none" stroke="#4A8CBF" stroke-width="1.0"/>
<line x1="631.80" y1="164.80" x2="653.50" y2="164.80" stroke="#1F86D6" stroke-width="1.8"/>
<circle cx="489.85" cy="171.98" r="1.25" fill="#E69F00" fill-opacity="0.65"/>
<circle cx="493.88" cy="147.23" r="1.25" fill="#E69F00" fill-opacity="0.65"/>
<circle cx="494.49" cy="154.65" r="1.25" fill="#E69F00" fill-opacity="0.65"/>
<circle cx="493.27" cy="184.02" r="1.25" fill="#E69F00" fill-opacity="0.65"/>
<circle cx="495.20" cy="183.32" r="1.25" fill="#E69F00" fill-opacity="0.65"/>
<circle cx="491.61" cy="180.06" r="1.25" fill="#E69F00" fill-opacity="0.65"/>
<circle cx="494.05" cy="177.73" r="1.25" fill="#E69F00" fill-opacity="0.65"/>
<circle cx="493.40" cy="181.32" r="1.25" fill="#E69F00" fill-opacity="0.65"/>
<circle cx="493.31" cy="169.38" r="1.25" fill="#E69F00" fill-opacity="0.65"/>
<circle cx="492.52" cy="155.44" r="1.25" fill="#E69F00" fill-opacity="0.65"/>
<circle cx="494.98" cy="106.12" r="1.25" fill="#E69F00" fill-opacity="0.65"/>
<circle cx="495.65" cy="116.13" r="1.25" fill="#E69F00" fill-opacity="0.65"/>
<circle cx="492.63" cy="180.32" r="1.25" fill="#E69F00" fill-opacity="0.65"/>
<circle cx="493.85" cy="177.64" r="1.25" fill="#E69F00" fill-opacity="0.65"/>
<circle cx="489.99" cy="184.73" r="1.25" fill="#E69F00" fill-opacity="0.65"/>
<circle cx="494.09" cy="154.82" r="1.25" fill="#E69F00" fill-opacity="0.65"/>
<circle cx="493.74" cy="146.99" r="1.25" fill="#E69F00" fill-opacity="0.65"/>
<circle cx="495.96" cy="181.16" r="1.25" fill="#E69F00" fill-opacity="0.65"/>
<circle cx="494.86" cy="156.22" r="1.25" fill="#E69F00" fill-opacity="0.65"/>
<circle cx="491.42" cy="175.68" r="1.25" fill="#E69F00" fill-opacity="0.65"/>
<circle cx="492.07" cy="173.25" r="1.25" fill="#E69F00" fill-opacity="0.65"/>
<circle cx="493.88" cy="133.00" r="1.25" fill="#E69F00" fill-opacity="0.65"/>
<circle cx="489.74" cy="184.66" r="1.25" fill="#E69F00" fill-opacity="0.65"/>
<circle cx="492.55" cy="167.54" r="1.25" fill="#E69F00" fill-opacity="0.65"/>
<circle cx="490.68" cy="152.68" r="1.25" fill="#E69F00" fill-opacity="0.65"/>
<circle cx="490.35" cy="109.06" r="1.25" fill="#E69F00" fill-opacity="0.65"/>
<circle cx="489.98" cy="177.14" r="1.25" fill="#E69F00" fill-opacity="0.65"/>
<circle cx="494.52" cy="183.85" r="1.25" fill="#E69F00" fill-opacity="0.65"/>
<circle cx="490.43" cy="83.50" r="1.25" fill="#E69F00" fill-opacity="0.65"/>
<circle cx="518.43" cy="185.74" r="1.25" fill="#2A90E0" fill-opacity="0.65"/>
<circle cx="513.84" cy="122.86" r="1.25" fill="#2A90E0" fill-opacity="0.65"/>
<circle cx="518.78" cy="179.76" r="1.25" fill="#2A90E0" fill-opacity="0.65"/>
<circle cx="513.73" cy="149.08" r="1.25" fill="#2A90E0" fill-opacity="0.65"/>
<circle cx="518.82" cy="129.88" r="1.25" fill="#2A90E0" fill-opacity="0.65"/>
<circle cx="516.20" cy="178.38" r="1.25" fill="#2A90E0" fill-opacity="0.65"/>
<circle cx="515.47" cy="154.00" r="1.25" fill="#2A90E0" fill-opacity="0.65"/>
<circle cx="516.84" cy="184.23" r="1.25" fill="#2A90E0" fill-opacity="0.65"/>
<circle cx="519.23" cy="184.63" r="1.25" fill="#2A90E0" fill-opacity="0.65"/>
<circle cx="515.01" cy="180.04" r="1.25" fill="#2A90E0" fill-opacity="0.65"/>
<circle cx="514.13" cy="175.83" r="1.25" fill="#2A90E0" fill-opacity="0.65"/>
<circle cx="516.67" cy="178.46" r="1.25" fill="#2A90E0" fill-opacity="0.65"/>
<circle cx="514.83" cy="174.85" r="1.25" fill="#2A90E0" fill-opacity="0.65"/>
<circle cx="514.00" cy="165.96" r="1.25" fill="#2A90E0" fill-opacity="0.65"/>
<circle cx="514.33" cy="169.23" r="1.25" fill="#2A90E0" fill-opacity="0.65"/>
<circle cx="513.62" cy="189.30" r="1.25" fill="#2A90E0" fill-opacity="0.65"/>
<circle cx="514.59" cy="151.05" r="1.25" fill="#2A90E0" fill-opacity="0.65"/>
<circle cx="515.30" cy="133.93" r="1.25" fill="#2A90E0" fill-opacity="0.65"/>
<circle cx="515.25" cy="176.55" r="1.25" fill="#2A90E0" fill-opacity="0.65"/>
<circle cx="518.16" cy="156.76" r="1.25" fill="#2A90E0" fill-opacity="0.65"/>
<circle cx="515.16" cy="184.46" r="1.25" fill="#2A90E0" fill-opacity="0.65"/>
<circle cx="516.50" cy="185.38" r="1.25" fill="#2A90E0" fill-opacity="0.65"/>
<circle cx="514.44" cy="183.00" r="1.25" fill="#2A90E0" fill-opacity="0.65"/>
<circle cx="515.52" cy="183.71" r="1.25" fill="#2A90E0" fill-opacity="0.65"/>
<circle cx="513.42" cy="175.98" r="1.25" fill="#2A90E0" fill-opacity="0.65"/>
<circle cx="514.90" cy="141.80" r="1.25" fill="#2A90E0" fill-opacity="0.65"/>
<circle cx="513.40" cy="184.77" r="1.25" fill="#2A90E0" fill-opacity="0.65"/>
<circle cx="517.99" cy="178.42" r="1.25" fill="#2A90E0" fill-opacity="0.65"/>
<circle cx="516.83" cy="188.94" r="1.25" fill="#2A90E0" fill-opacity="0.65"/>
<circle cx="514.51" cy="136.54" r="1.25" fill="#2A90E0" fill-opacity="0.65"/>
<circle cx="516.34" cy="176.42" r="1.25" fill="#2A90E0" fill-opacity="0.65"/>
<circle cx="519.28" cy="185.40" r="1.25" fill="#2A90E0" fill-opacity="0.65"/>
<circle cx="513.98" cy="181.77" r="1.25" fill="#2A90E0" fill-opacity="0.65"/>
<circle cx="518.54" cy="183.16" r="1.25" fill="#2A90E0" fill-opacity="0.65"/>
<circle cx="516.07" cy="138.75" r="1.25" fill="#2A90E0" fill-opacity="0.65"/>
<circle cx="516.47" cy="186.80" r="1.25" fill="#2A90E0" fill-opacity="0.65"/>
<circle cx="518.64" cy="186.70" r="1.25" fill="#2A90E0" fill-opacity="0.65"/>
<circle cx="515.82" cy="150.65" r="1.25" fill="#2A90E0" fill-opacity="0.65"/>
<circle cx="516.54" cy="160.80" r="1.25" fill="#2A90E0" fill-opacity="0.65"/>
<circle cx="517.70" cy="177.00" r="1.25" fill="#2A90E0" fill-opacity="0.65"/>
<circle cx="519.59" cy="138.91" r="1.25" fill="#2A90E0" fill-opacity="0.65"/>
<circle cx="515.49" cy="131.70" r="1.25" fill="#2A90E0" fill-opacity="0.65"/>
<circle cx="518.63" cy="188.68" r="1.25" fill="#2A90E0" fill-opacity="0.65"/>
<circle cx="517.82" cy="150.27" r="1.25" fill="#2A90E0" fill-opacity="0.65"/>
<circle cx="517.37" cy="149.05" r="1.25" fill="#2A90E0" fill-opacity="0.65"/>
<circle cx="515.89" cy="160.10" r="1.25" fill="#2A90E0" fill-opacity="0.65"/>
<circle cx="515.52" cy="162.72" r="1.25" fill="#2A90E0" fill-opacity="0.65"/>
<circle cx="513.65" cy="183.20" r="1.25" fill="#2A90E0" fill-opacity="0.65"/>
<circle cx="514.13" cy="177.67" r="1.25" fill="#2A90E0" fill-opacity="0.65"/>
<circle cx="513.75" cy="174.92" r="1.25" fill="#2A90E0" fill-opacity="0.65"/>
<circle cx="518.04" cy="182.55" r="1.25" fill="#2A90E0" fill-opacity="0.65"/>
<circle cx="514.94" cy="153.90" r="1.25" fill="#2A90E0" fill-opacity="0.65"/>
<circle cx="514.34" cy="177.39" r="1.25" fill="#2A90E0" fill-opacity="0.65"/>
<circle cx="513.84" cy="184.38" r="1.25" fill="#2A90E0" fill-opacity="0.65"/>
<circle cx="518.68" cy="187.37" r="1.25" fill="#2A90E0" fill-opacity="0.65"/>
<circle cx="518.87" cy="149.84" r="1.25" fill="#2A90E0" fill-opacity="0.65"/>
<circle cx="517.59" cy="180.50" r="1.25" fill="#2A90E0" fill-opacity="0.65"/>
<circle cx="515.10" cy="123.01" r="1.25" fill="#2A90E0" fill-opacity="0.65"/>
<circle cx="514.85" cy="173.97" r="1.25" fill="#2A90E0" fill-opacity="0.65"/>
<circle cx="515.18" cy="146.63" r="1.25" fill="#2A90E0" fill-opacity="0.65"/>
<circle cx="516.24" cy="177.09" r="1.25" fill="#2A90E0" fill-opacity="0.65"/>
<circle cx="514.31" cy="131.80" r="1.25" fill="#2A90E0" fill-opacity="0.65"/>
<circle cx="516.15" cy="154.49" r="1.25" fill="#2A90E0" fill-opacity="0.65"/>
<circle cx="514.98" cy="178.69" r="1.25" fill="#2A90E0" fill-opacity="0.65"/>
<circle cx="519.46" cy="145.73" r="1.25" fill="#2A90E0" fill-opacity="0.65"/>
<circle cx="519.52" cy="183.89" r="1.25" fill="#2A90E0" fill-opacity="0.65"/>
<circle cx="516.80" cy="189.33" r="1.25" fill="#2A90E0" fill-opacity="0.65"/>
<circle cx="514.86" cy="125.19" r="1.25" fill="#2A90E0" fill-opacity="0.65"/>
<circle cx="519.48" cy="154.80" r="1.25" fill="#2A90E0" fill-opacity="0.65"/>
<circle cx="515.28" cy="162.61" r="1.25" fill="#2A90E0" fill-opacity="0.65"/>
<circle cx="515.58" cy="158.16" r="1.25" fill="#2A90E0" fill-opacity="0.65"/>
<circle cx="513.31" cy="189.80" r="1.25" fill="#2A90E0" fill-opacity="0.65"/>
<circle cx="515.74" cy="166.19" r="1.25" fill="#2A90E0" fill-opacity="0.65"/>
<circle cx="516.34" cy="135.40" r="1.25" fill="#2A90E0" fill-opacity="0.65"/>
<circle cx="516.52" cy="149.33" r="1.25" fill="#2A90E0" fill-opacity="0.65"/>
<circle cx="514.59" cy="184.76" r="1.25" fill="#2A90E0" fill-opacity="0.65"/>
<circle cx="516.53" cy="177.53" r="1.25" fill="#2A90E0" fill-opacity="0.65"/>
<circle cx="513.33" cy="160.77" r="1.25" fill="#2A90E0" fill-opacity="0.65"/>
<circle cx="514.99" cy="176.74" r="1.25" fill="#2A90E0" fill-opacity="0.65"/>
<circle cx="513.87" cy="132.56" r="1.25" fill="#2A90E0" fill-opacity="0.65"/>
<circle cx="515.86" cy="180.00" r="1.25" fill="#2A90E0" fill-opacity="0.65"/>
<circle cx="513.57" cy="134.93" r="1.25" fill="#2A90E0" fill-opacity="0.65"/>
<circle cx="513.44" cy="137.81" r="1.25" fill="#2A90E0" fill-opacity="0.65"/>
<circle cx="515.25" cy="166.13" r="1.25" fill="#2A90E0" fill-opacity="0.65"/>
<circle cx="514.79" cy="186.08" r="1.25" fill="#2A90E0" fill-opacity="0.65"/>
<circle cx="517.05" cy="176.19" r="1.25" fill="#2A90E0" fill-opacity="0.65"/>
<circle cx="516.69" cy="176.67" r="1.25" fill="#2A90E0" fill-opacity="0.65"/>
<circle cx="518.10" cy="177.80" r="1.25" fill="#2A90E0" fill-opacity="0.65"/>
<circle cx="517.51" cy="158.15" r="1.25" fill="#2A90E0" fill-opacity="0.65"/>
<circle cx="517.88" cy="128.06" r="1.25" fill="#2A90E0" fill-opacity="0.65"/>
<circle cx="518.93" cy="178.65" r="1.25" fill="#2A90E0" fill-opacity="0.65"/>
<circle cx="515.79" cy="150.71" r="1.25" fill="#2A90E0" fill-opacity="0.65"/>
<circle cx="515.39" cy="166.50" r="1.25" fill="#2A90E0" fill-opacity="0.65"/>
<circle cx="519.60" cy="137.70" r="1.25" fill="#2A90E0" fill-opacity="0.65"/>
<circle cx="514.26" cy="171.39" r="1.25" fill="#2A90E0" fill-opacity="0.65"/>
<circle cx="517.93" cy="176.88" r="1.25" fill="#2A90E0" fill-opacity="0.65"/>
<circle cx="517.42" cy="161.86" r="1.25" fill="#2A90E0" fill-opacity="0.65"/>
<circle cx="513.58" cy="154.65" r="1.25" fill="#2A90E0" fill-opacity="0.65"/>
<circle cx="518.65" cy="167.38" r="1.25" fill="#2A90E0" fill-opacity="0.65"/>
<circle cx="519.01" cy="167.08" r="1.25" fill="#2A90E0" fill-opacity="0.65"/>
<circle cx="517.31" cy="137.16" r="1.25" fill="#2A90E0" fill-opacity="0.65"/>
<circle cx="518.00" cy="173.93" r="1.25" fill="#2A90E0" fill-opacity="0.65"/>
<circle cx="518.50" cy="177.28" r="1.25" fill="#2A90E0" fill-opacity="0.65"/>
<circle cx="514.19" cy="136.93" r="1.25" fill="#2A90E0" fill-opacity="0.65"/>
<circle cx="516.65" cy="180.93" r="1.25" fill="#2A90E0" fill-opacity="0.65"/>
<circle cx="516.53" cy="139.74" r="1.25" fill="#2A90E0" fill-opacity="0.65"/>
<circle cx="518.64" cy="174.54" r="1.25" fill="#2A90E0" fill-opacity="0.65"/>
<circle cx="518.45" cy="164.16" r="1.25" fill="#2A90E0" fill-opacity="0.65"/>
<circle cx="518.59" cy="144.87" r="1.25" fill="#2A90E0" fill-opacity="0.65"/>
<circle cx="517.04" cy="142.20" r="1.25" fill="#2A90E0" fill-opacity="0.65"/>
<circle cx="519.01" cy="168.67" r="1.25" fill="#2A90E0" fill-opacity="0.65"/>
<circle cx="517.67" cy="159.02" r="1.25" fill="#2A90E0" fill-opacity="0.65"/>
<circle cx="517.74" cy="125.44" r="1.25" fill="#2A90E0" fill-opacity="0.65"/>
<circle cx="514.77" cy="173.48" r="1.25" fill="#2A90E0" fill-opacity="0.65"/>
<circle cx="513.50" cy="189.45" r="1.25" fill="#2A90E0" fill-opacity="0.65"/>
<circle cx="514.15" cy="155.68" r="1.25" fill="#2A90E0" fill-opacity="0.65"/>
<circle cx="515.61" cy="179.34" r="1.25" fill="#2A90E0" fill-opacity="0.65"/>
<circle cx="513.97" cy="179.93" r="1.25" fill="#2A90E0" fill-opacity="0.65"/>
<circle cx="518.65" cy="164.88" r="1.25" fill="#2A90E0" fill-opacity="0.65"/>
<circle cx="516.87" cy="177.27" r="1.25" fill="#2A90E0" fill-opacity="0.65"/>
<circle cx="517.32" cy="176.04" r="1.25" fill="#2A90E0" fill-opacity="0.65"/>
<circle cx="517.31" cy="179.96" r="1.25" fill="#2A90E0" fill-opacity="0.65"/>
<circle cx="517.66" cy="150.25" r="1.25" fill="#2A90E0" fill-opacity="0.65"/>
<circle cx="516.43" cy="129.68" r="1.25" fill="#2A90E0" fill-opacity="0.65"/>
<circle cx="513.32" cy="180.74" r="1.25" fill="#2A90E0" fill-opacity="0.65"/>
<circle cx="518.41" cy="165.28" r="1.25" fill="#2A90E0" fill-opacity="0.65"/>
<circle cx="518.09" cy="166.45" r="1.25" fill="#2A90E0" fill-opacity="0.65"/>
<circle cx="516.52" cy="132.54" r="1.25" fill="#2A90E0" fill-opacity="0.65"/>
<circle cx="516.73" cy="189.58" r="1.25" fill="#2A90E0" fill-opacity="0.65"/>
<circle cx="517.52" cy="183.17" r="1.25" fill="#2A90E0" fill-opacity="0.65"/>
<circle cx="513.72" cy="171.50" r="1.25" fill="#2A90E0" fill-opacity="0.65"/>
<circle cx="518.02" cy="186.09" r="1.25" fill="#2A90E0" fill-opacity="0.65"/>
<circle cx="514.91" cy="166.87" r="1.25" fill="#2A90E0" fill-opacity="0.65"/>
<circle cx="513.78" cy="178.39" r="1.25" fill="#2A90E0" fill-opacity="0.65"/>
<circle cx="515.00" cy="178.94" r="1.25" fill="#2A90E0" fill-opacity="0.65"/>
<circle cx="517.97" cy="160.27" r="1.25" fill="#2A90E0" fill-opacity="0.65"/>
<circle cx="514.61" cy="142.84" r="1.25" fill="#2A90E0" fill-opacity="0.65"/>
<circle cx="518.03" cy="181.16" r="1.25" fill="#2A90E0" fill-opacity="0.65"/>
<circle cx="519.54" cy="165.24" r="1.25" fill="#2A90E0" fill-opacity="0.65"/>
<circle cx="516.46" cy="181.77" r="1.25" fill="#2A90E0" fill-opacity="0.65"/>
<circle cx="515.75" cy="155.68" r="1.25" fill="#2A90E0" fill-opacity="0.65"/>
<circle cx="516.37" cy="189.27" r="1.25" fill="#2A90E0" fill-opacity="0.65"/>
<circle cx="517.68" cy="177.46" r="1.25" fill="#2A90E0" fill-opacity="0.65"/>
<circle cx="518.21" cy="170.44" r="1.25" fill="#2A90E0" fill-opacity="0.65"/>
<circle cx="517.25" cy="176.55" r="1.25" fill="#2A90E0" fill-opacity="0.65"/>
<circle cx="517.41" cy="155.16" r="1.25" fill="#2A90E0" fill-opacity="0.65"/>
<circle cx="513.80" cy="188.82" r="1.25" fill="#2A90E0" fill-opacity="0.65"/>
<circle cx="514.24" cy="164.85" r="1.25" fill="#2A90E0" fill-opacity="0.65"/>
<circle cx="514.93" cy="174.95" r="1.25" fill="#2A90E0" fill-opacity="0.65"/>
<circle cx="518.06" cy="170.83" r="1.25" fill="#2A90E0" fill-opacity="0.65"/>
<circle cx="515.25" cy="180.75" r="1.25" fill="#2A90E0" fill-opacity="0.65"/>
<circle cx="516.93" cy="173.29" r="1.25" fill="#2A90E0" fill-opacity="0.65"/>
<circle cx="513.38" cy="174.96" r="1.25" fill="#2A90E0" fill-opacity="0.65"/>
<circle cx="513.69" cy="178.82" r="1.25" fill="#2A90E0" fill-opacity="0.65"/>
<circle cx="515.02" cy="177.34" r="1.25" fill="#2A90E0" fill-opacity="0.65"/>
<circle cx="517.60" cy="152.28" r="1.25" fill="#2A90E0" fill-opacity="0.65"/>
<circle cx="517.73" cy="183.48" r="1.25" fill="#2A90E0" fill-opacity="0.65"/>
<circle cx="517.62" cy="183.94" r="1.25" fill="#2A90E0" fill-opacity="0.65"/>
<circle cx="515.16" cy="146.38" r="1.25" fill="#2A90E0" fill-opacity="0.65"/>
<circle cx="516.61" cy="174.87" r="1.25" fill="#2A90E0" fill-opacity="0.65"/>
<circle cx="516.27" cy="181.87" r="1.25" fill="#2A90E0" fill-opacity="0.65"/>
<circle cx="516.28" cy="187.94" r="1.25" fill="#2A90E0" fill-opacity="0.65"/>
<circle cx="514.06" cy="156.75" r="1.25" fill="#2A90E0" fill-opacity="0.65"/>
<circle cx="519.02" cy="171.80" r="1.25" fill="#2A90E0" fill-opacity="0.65"/>
<circle cx="514.58" cy="163.39" r="1.25" fill="#2A90E0" fill-opacity="0.65"/>
<circle cx="519.56" cy="181.57" r="1.25" fill="#2A90E0" fill-opacity="0.65"/>
<circle cx="519.29" cy="165.38" r="1.25" fill="#2A90E0" fill-opacity="0.65"/>
<circle cx="513.41" cy="177.67" r="1.25" fill="#2A90E0" fill-opacity="0.65"/>
<circle cx="516.24" cy="189.83" r="1.25" fill="#2A90E0" fill-opacity="0.65"/>
<circle cx="518.55" cy="159.66" r="1.25" fill="#2A90E0" fill-opacity="0.65"/>
<circle cx="519.50" cy="106.50" r="1.25" fill="#2A90E0" fill-opacity="0.65"/>
<circle cx="516.18" cy="104.00" r="1.25" fill="#2A90E0" fill-opacity="0.65"/>
<circle cx="515.02" cy="88.00" r="1.25" fill="#2A90E0" fill-opacity="0.65"/>
<circle cx="514.64" cy="85.00" r="1.25" fill="#2A90E0" fill-opacity="0.65"/>
<circle cx="519.35" cy="90.00" r="1.25" fill="#2A90E0" fill-opacity="0.65"/>
<circle cx="514.65" cy="110.00" r="1.25" fill="#2A90E0" fill-opacity="0.65"/>
<circle cx="554.47" cy="119.75" r="1.25" fill="#E69F00" fill-opacity="0.65"/>
<circle cx="557.00" cy="145.78" r="1.25" fill="#E69F00" fill-opacity="0.65"/>
<circle cx="554.73" cy="186.01" r="1.25" fill="#E69F00" fill-opacity="0.65"/>
<circle cx="556.37" cy="143.67" r="1.25" fill="#E69F00" fill-opacity="0.65"/>
<circle cx="555.32" cy="122.63" r="1.25" fill="#E69F00" fill-opacity="0.65"/>
<circle cx="553.87" cy="91.20" r="1.25" fill="#E69F00" fill-opacity="0.65"/>
<circle cx="553.83" cy="166.98" r="1.25" fill="#E69F00" fill-opacity="0.65"/>
<circle cx="554.13" cy="156.13" r="1.25" fill="#E69F00" fill-opacity="0.65"/>
<circle cx="558.60" cy="150.06" r="1.25" fill="#E69F00" fill-opacity="0.65"/>
<circle cx="555.98" cy="153.50" r="1.25" fill="#E69F00" fill-opacity="0.65"/>
<circle cx="554.21" cy="68.58" r="1.25" fill="#E69F00" fill-opacity="0.65"/>
<circle cx="558.60" cy="107.69" r="1.25" fill="#E69F00" fill-opacity="0.65"/>
<circle cx="559.18" cy="188.49" r="1.25" fill="#E69F00" fill-opacity="0.65"/>
<circle cx="555.68" cy="144.14" r="1.25" fill="#E69F00" fill-opacity="0.65"/>
<circle cx="553.69" cy="154.60" r="1.25" fill="#E69F00" fill-opacity="0.65"/>
<circle cx="554.03" cy="166.88" r="1.25" fill="#E69F00" fill-opacity="0.65"/>
<circle cx="553.38" cy="126.78" r="1.25" fill="#E69F00" fill-opacity="0.65"/>
<circle cx="554.99" cy="152.69" r="1.25" fill="#E69F00" fill-opacity="0.65"/>
<circle cx="553.38" cy="169.27" r="1.25" fill="#E69F00" fill-opacity="0.65"/>
<circle cx="554.33" cy="81.84" r="1.25" fill="#E69F00" fill-opacity="0.65"/>
<circle cx="554.45" cy="80.14" r="1.25" fill="#E69F00" fill-opacity="0.65"/>
<circle cx="556.45" cy="157.31" r="1.25" fill="#E69F00" fill-opacity="0.65"/>
<circle cx="558.48" cy="175.60" r="1.25" fill="#E69F00" fill-opacity="0.65"/>
<circle cx="557.60" cy="109.80" r="1.25" fill="#E69F00" fill-opacity="0.65"/>
<circle cx="555.44" cy="97.96" r="1.25" fill="#E69F00" fill-opacity="0.65"/>
<circle cx="555.45" cy="112.43" r="1.25" fill="#E69F00" fill-opacity="0.65"/>
<circle cx="556.15" cy="138.30" r="1.25" fill="#E69F00" fill-opacity="0.65"/>
<circle cx="555.21" cy="183.96" r="1.25" fill="#E69F00" fill-opacity="0.65"/>
<circle cx="554.96" cy="162.05" r="1.25" fill="#E69F00" fill-opacity="0.65"/>
<circle cx="553.20" cy="124.39" r="1.25" fill="#E69F00" fill-opacity="0.65"/>
<circle cx="554.58" cy="188.49" r="1.25" fill="#E69F00" fill-opacity="0.65"/>
<circle cx="558.99" cy="177.90" r="1.25" fill="#E69F00" fill-opacity="0.65"/>
<circle cx="553.61" cy="153.14" r="1.25" fill="#E69F00" fill-opacity="0.65"/>
<circle cx="556.02" cy="146.54" r="1.25" fill="#E69F00" fill-opacity="0.65"/>
<circle cx="579.72" cy="164.38" r="1.25" fill="#2A90E0" fill-opacity="0.65"/>
<circle cx="580.29" cy="180.88" r="1.25" fill="#2A90E0" fill-opacity="0.65"/>
<circle cx="576.78" cy="182.58" r="1.25" fill="#2A90E0" fill-opacity="0.65"/>
<circle cx="577.25" cy="176.82" r="1.25" fill="#2A90E0" fill-opacity="0.65"/>
<circle cx="580.65" cy="142.95" r="1.25" fill="#2A90E0" fill-opacity="0.65"/>
<circle cx="578.82" cy="177.73" r="1.25" fill="#2A90E0" fill-opacity="0.65"/>
<circle cx="578.01" cy="164.98" r="1.25" fill="#2A90E0" fill-opacity="0.65"/>
<circle cx="578.17" cy="173.01" r="1.25" fill="#2A90E0" fill-opacity="0.65"/>
<circle cx="582.30" cy="182.47" r="1.25" fill="#2A90E0" fill-opacity="0.65"/>
<circle cx="578.20" cy="140.88" r="1.25" fill="#2A90E0" fill-opacity="0.65"/>
<circle cx="579.83" cy="147.29" r="1.25" fill="#2A90E0" fill-opacity="0.65"/>
<circle cx="578.49" cy="178.74" r="1.25" fill="#2A90E0" fill-opacity="0.65"/>
<circle cx="578.87" cy="184.20" r="1.25" fill="#2A90E0" fill-opacity="0.65"/>
<circle cx="581.73" cy="165.82" r="1.25" fill="#2A90E0" fill-opacity="0.65"/>
<circle cx="582.58" cy="160.41" r="1.25" fill="#2A90E0" fill-opacity="0.65"/>
<circle cx="578.53" cy="124.79" r="1.25" fill="#2A90E0" fill-opacity="0.65"/>
<circle cx="577.46" cy="149.23" r="1.25" fill="#2A90E0" fill-opacity="0.65"/>
<circle cx="580.86" cy="114.96" r="1.25" fill="#2A90E0" fill-opacity="0.65"/>
<circle cx="577.50" cy="133.01" r="1.25" fill="#2A90E0" fill-opacity="0.65"/>
<circle cx="576.24" cy="168.23" r="1.25" fill="#2A90E0" fill-opacity="0.65"/>
<circle cx="581.97" cy="173.52" r="1.25" fill="#2A90E0" fill-opacity="0.65"/>
<circle cx="578.91" cy="150.56" r="1.25" fill="#2A90E0" fill-opacity="0.65"/>
<circle cx="581.45" cy="184.22" r="1.25" fill="#2A90E0" fill-opacity="0.65"/>
<circle cx="578.80" cy="155.64" r="1.25" fill="#2A90E0" fill-opacity="0.65"/>
<circle cx="581.85" cy="185.23" r="1.25" fill="#2A90E0" fill-opacity="0.65"/>
<circle cx="579.15" cy="181.28" r="1.25" fill="#2A90E0" fill-opacity="0.65"/>
<circle cx="577.24" cy="176.87" r="1.25" fill="#2A90E0" fill-opacity="0.65"/>
<circle cx="576.29" cy="164.76" r="1.25" fill="#2A90E0" fill-opacity="0.65"/>
<circle cx="579.73" cy="169.34" r="1.25" fill="#2A90E0" fill-opacity="0.65"/>
<circle cx="580.30" cy="189.98" r="1.25" fill="#2A90E0" fill-opacity="0.65"/>
<circle cx="582.02" cy="154.16" r="1.25" fill="#2A90E0" fill-opacity="0.65"/>
<circle cx="576.77" cy="183.88" r="1.25" fill="#2A90E0" fill-opacity="0.65"/>
<circle cx="580.18" cy="156.23" r="1.25" fill="#2A90E0" fill-opacity="0.65"/>
<circle cx="578.57" cy="173.84" r="1.25" fill="#2A90E0" fill-opacity="0.65"/>
<circle cx="579.43" cy="114.71" r="1.25" fill="#2A90E0" fill-opacity="0.65"/>
<circle cx="577.13" cy="181.76" r="1.25" fill="#2A90E0" fill-opacity="0.65"/>
<circle cx="578.01" cy="174.00" r="1.25" fill="#2A90E0" fill-opacity="0.65"/>
<circle cx="579.54" cy="187.82" r="1.25" fill="#2A90E0" fill-opacity="0.65"/>
<circle cx="582.12" cy="157.79" r="1.25" fill="#2A90E0" fill-opacity="0.65"/>
<circle cx="576.90" cy="190.10" r="1.25" fill="#2A90E0" fill-opacity="0.65"/>
<circle cx="579.34" cy="175.43" r="1.25" fill="#2A90E0" fill-opacity="0.65"/>
<circle cx="581.35" cy="180.22" r="1.25" fill="#2A90E0" fill-opacity="0.65"/>
<circle cx="582.39" cy="117.69" r="1.25" fill="#2A90E0" fill-opacity="0.65"/>
<circle cx="577.46" cy="126.46" r="1.25" fill="#2A90E0" fill-opacity="0.65"/>
<circle cx="577.01" cy="180.25" r="1.25" fill="#2A90E0" fill-opacity="0.65"/>
<circle cx="582.24" cy="173.82" r="1.25" fill="#2A90E0" fill-opacity="0.65"/>
<circle cx="582.44" cy="111.20" r="1.25" fill="#2A90E0" fill-opacity="0.65"/>
<circle cx="579.29" cy="169.11" r="1.25" fill="#2A90E0" fill-opacity="0.65"/>
<circle cx="576.54" cy="111.00" r="1.25" fill="#2A90E0" fill-opacity="0.65"/>
<circle cx="582.13" cy="178.09" r="1.25" fill="#2A90E0" fill-opacity="0.65"/>
<circle cx="578.68" cy="176.24" r="1.25" fill="#2A90E0" fill-opacity="0.65"/>
<circle cx="581.99" cy="136.82" r="1.25" fill="#2A90E0" fill-opacity="0.65"/>
<circle cx="580.17" cy="145.51" r="1.25" fill="#2A90E0" fill-opacity="0.65"/>
<circle cx="581.48" cy="168.83" r="1.25" fill="#2A90E0" fill-opacity="0.65"/>
<circle cx="577.23" cy="137.41" r="1.25" fill="#2A90E0" fill-opacity="0.65"/>
<circle cx="581.23" cy="186.07" r="1.25" fill="#2A90E0" fill-opacity="0.65"/>
<circle cx="577.62" cy="170.79" r="1.25" fill="#2A90E0" fill-opacity="0.65"/>
<circle cx="578.79" cy="168.66" r="1.25" fill="#2A90E0" fill-opacity="0.65"/>
<circle cx="581.62" cy="180.99" r="1.25" fill="#2A90E0" fill-opacity="0.65"/>
<circle cx="581.51" cy="176.84" r="1.25" fill="#2A90E0" fill-opacity="0.65"/>
<circle cx="577.37" cy="190.03" r="1.25" fill="#2A90E0" fill-opacity="0.65"/>
<circle cx="577.60" cy="182.01" r="1.25" fill="#2A90E0" fill-opacity="0.65"/>
<circle cx="578.76" cy="140.72" r="1.25" fill="#2A90E0" fill-opacity="0.65"/>
<circle cx="579.51" cy="167.41" r="1.25" fill="#2A90E0" fill-opacity="0.65"/>
<circle cx="578.65" cy="170.78" r="1.25" fill="#2A90E0" fill-opacity="0.65"/>
<circle cx="576.99" cy="113.24" r="1.25" fill="#2A90E0" fill-opacity="0.65"/>
<circle cx="577.78" cy="176.23" r="1.25" fill="#2A90E0" fill-opacity="0.65"/>
<circle cx="580.84" cy="182.72" r="1.25" fill="#2A90E0" fill-opacity="0.65"/>
<circle cx="581.94" cy="138.30" r="1.25" fill="#2A90E0" fill-opacity="0.65"/>
<circle cx="576.46" cy="177.76" r="1.25" fill="#2A90E0" fill-opacity="0.65"/>
<circle cx="579.80" cy="189.45" r="1.25" fill="#2A90E0" fill-opacity="0.65"/>
<circle cx="581.05" cy="174.67" r="1.25" fill="#2A90E0" fill-opacity="0.65"/>
<circle cx="576.44" cy="119.62" r="1.25" fill="#2A90E0" fill-opacity="0.65"/>
<circle cx="581.56" cy="176.86" r="1.25" fill="#2A90E0" fill-opacity="0.65"/>
<circle cx="576.95" cy="153.32" r="1.25" fill="#2A90E0" fill-opacity="0.65"/>
<circle cx="580.04" cy="154.32" r="1.25" fill="#2A90E0" fill-opacity="0.65"/>
<circle cx="579.72" cy="166.94" r="1.25" fill="#2A90E0" fill-opacity="0.65"/>
<circle cx="580.21" cy="144.85" r="1.25" fill="#2A90E0" fill-opacity="0.65"/>
<circle cx="578.16" cy="165.86" r="1.25" fill="#2A90E0" fill-opacity="0.65"/>
<circle cx="578.89" cy="180.39" r="1.25" fill="#2A90E0" fill-opacity="0.65"/>
<circle cx="579.93" cy="176.85" r="1.25" fill="#2A90E0" fill-opacity="0.65"/>
<circle cx="578.92" cy="121.69" r="1.25" fill="#2A90E0" fill-opacity="0.65"/>
<circle cx="580.42" cy="171.37" r="1.25" fill="#2A90E0" fill-opacity="0.65"/>
<circle cx="579.06" cy="176.55" r="1.25" fill="#2A90E0" fill-opacity="0.65"/>
<circle cx="579.01" cy="187.89" r="1.25" fill="#2A90E0" fill-opacity="0.65"/>
<circle cx="576.35" cy="163.23" r="1.25" fill="#2A90E0" fill-opacity="0.65"/>
<circle cx="580.16" cy="116.25" r="1.25" fill="#2A90E0" fill-opacity="0.65"/>
<circle cx="579.33" cy="169.91" r="1.25" fill="#2A90E0" fill-opacity="0.65"/>
<circle cx="577.71" cy="129.96" r="1.25" fill="#2A90E0" fill-opacity="0.65"/>
<circle cx="581.09" cy="155.65" r="1.25" fill="#2A90E0" fill-opacity="0.65"/>
<circle cx="581.19" cy="178.85" r="1.25" fill="#2A90E0" fill-opacity="0.65"/>
<circle cx="579.13" cy="136.09" r="1.25" fill="#2A90E0" fill-opacity="0.65"/>
<circle cx="577.35" cy="187.46" r="1.25" fill="#2A90E0" fill-opacity="0.65"/>
<circle cx="579.23" cy="175.90" r="1.25" fill="#2A90E0" fill-opacity="0.65"/>
<circle cx="576.89" cy="171.77" r="1.25" fill="#2A90E0" fill-opacity="0.65"/>
<circle cx="577.02" cy="167.11" r="1.25" fill="#2A90E0" fill-opacity="0.65"/>
<circle cx="578.96" cy="146.33" r="1.25" fill="#2A90E0" fill-opacity="0.65"/>
<circle cx="576.79" cy="170.62" r="1.25" fill="#2A90E0" fill-opacity="0.65"/>
<circle cx="579.03" cy="168.50" r="1.25" fill="#2A90E0" fill-opacity="0.65"/>
<circle cx="579.47" cy="143.97" r="1.25" fill="#2A90E0" fill-opacity="0.65"/>
<circle cx="576.46" cy="159.03" r="1.25" fill="#2A90E0" fill-opacity="0.65"/>
<circle cx="580.27" cy="159.90" r="1.25" fill="#2A90E0" fill-opacity="0.65"/>
<circle cx="576.73" cy="178.97" r="1.25" fill="#2A90E0" fill-opacity="0.65"/>
<circle cx="580.89" cy="165.26" r="1.25" fill="#2A90E0" fill-opacity="0.65"/>
<circle cx="581.18" cy="172.90" r="1.25" fill="#2A90E0" fill-opacity="0.65"/>
<circle cx="579.47" cy="170.40" r="1.25" fill="#2A90E0" fill-opacity="0.65"/>
<circle cx="576.55" cy="123.96" r="1.25" fill="#2A90E0" fill-opacity="0.65"/>
<circle cx="579.43" cy="167.13" r="1.25" fill="#2A90E0" fill-opacity="0.65"/>
<circle cx="578.62" cy="148.05" r="1.25" fill="#2A90E0" fill-opacity="0.65"/>
<circle cx="582.29" cy="170.59" r="1.25" fill="#2A90E0" fill-opacity="0.65"/>
<circle cx="577.07" cy="133.98" r="1.25" fill="#2A90E0" fill-opacity="0.65"/>
<circle cx="581.69" cy="177.62" r="1.25" fill="#2A90E0" fill-opacity="0.65"/>
<circle cx="582.58" cy="146.10" r="1.25" fill="#2A90E0" fill-opacity="0.65"/>
<circle cx="580.89" cy="126.63" r="1.25" fill="#2A90E0" fill-opacity="0.65"/>
<circle cx="581.42" cy="179.95" r="1.25" fill="#2A90E0" fill-opacity="0.65"/>
<circle cx="577.44" cy="133.82" r="1.25" fill="#2A90E0" fill-opacity="0.65"/>
<circle cx="582.48" cy="188.32" r="1.25" fill="#2A90E0" fill-opacity="0.65"/>
<circle cx="579.35" cy="187.31" r="1.25" fill="#2A90E0" fill-opacity="0.65"/>
<circle cx="582.32" cy="157.31" r="1.25" fill="#2A90E0" fill-opacity="0.65"/>
<circle cx="582.06" cy="186.11" r="1.25" fill="#2A90E0" fill-opacity="0.65"/>
<circle cx="577.26" cy="135.71" r="1.25" fill="#2A90E0" fill-opacity="0.65"/>
<circle cx="581.25" cy="184.99" r="1.25" fill="#2A90E0" fill-opacity="0.65"/>
<circle cx="582.16" cy="170.55" r="1.25" fill="#2A90E0" fill-opacity="0.65"/>
<circle cx="576.62" cy="177.95" r="1.25" fill="#2A90E0" fill-opacity="0.65"/>
<circle cx="578.45" cy="167.16" r="1.25" fill="#2A90E0" fill-opacity="0.65"/>
<circle cx="581.04" cy="175.80" r="1.25" fill="#2A90E0" fill-opacity="0.65"/>
<circle cx="577.22" cy="182.04" r="1.25" fill="#2A90E0" fill-opacity="0.65"/>
<circle cx="581.94" cy="143.04" r="1.25" fill="#2A90E0" fill-opacity="0.65"/>
<circle cx="577.96" cy="154.25" r="1.25" fill="#2A90E0" fill-opacity="0.65"/>
<circle cx="581.42" cy="180.65" r="1.25" fill="#2A90E0" fill-opacity="0.65"/>
<circle cx="577.12" cy="185.24" r="1.25" fill="#2A90E0" fill-opacity="0.65"/>
<circle cx="579.41" cy="165.36" r="1.25" fill="#2A90E0" fill-opacity="0.65"/>
<circle cx="582.09" cy="170.17" r="1.25" fill="#2A90E0" fill-opacity="0.65"/>
<circle cx="577.53" cy="119.10" r="1.25" fill="#2A90E0" fill-opacity="0.65"/>
<circle cx="577.88" cy="180.91" r="1.25" fill="#2A90E0" fill-opacity="0.65"/>
<circle cx="579.44" cy="177.40" r="1.25" fill="#2A90E0" fill-opacity="0.65"/>
<circle cx="578.24" cy="179.34" r="1.25" fill="#2A90E0" fill-opacity="0.65"/>
<circle cx="576.44" cy="119.44" r="1.25" fill="#2A90E0" fill-opacity="0.65"/>
<circle cx="577.37" cy="170.70" r="1.25" fill="#2A90E0" fill-opacity="0.65"/>
<circle cx="577.23" cy="162.88" r="1.25" fill="#2A90E0" fill-opacity="0.65"/>
<circle cx="582.19" cy="163.17" r="1.25" fill="#2A90E0" fill-opacity="0.65"/>
<circle cx="580.55" cy="174.38" r="1.25" fill="#2A90E0" fill-opacity="0.65"/>
<circle cx="581.93" cy="182.27" r="1.25" fill="#2A90E0" fill-opacity="0.65"/>
<circle cx="577.28" cy="112.32" r="1.25" fill="#2A90E0" fill-opacity="0.65"/>
<circle cx="581.22" cy="135.45" r="1.25" fill="#2A90E0" fill-opacity="0.65"/>
<circle cx="576.94" cy="128.87" r="1.25" fill="#2A90E0" fill-opacity="0.65"/>
<circle cx="579.60" cy="189.16" r="1.25" fill="#2A90E0" fill-opacity="0.65"/>
<circle cx="580.27" cy="146.79" r="1.25" fill="#2A90E0" fill-opacity="0.65"/>
<circle cx="578.50" cy="170.66" r="1.25" fill="#2A90E0" fill-opacity="0.65"/>
<circle cx="581.79" cy="173.37" r="1.25" fill="#2A90E0" fill-opacity="0.65"/>
<circle cx="579.75" cy="183.26" r="1.25" fill="#2A90E0" fill-opacity="0.65"/>
<circle cx="579.91" cy="179.72" r="1.25" fill="#2A90E0" fill-opacity="0.65"/>
<circle cx="581.85" cy="152.95" r="1.25" fill="#2A90E0" fill-opacity="0.65"/>
<circle cx="576.87" cy="153.81" r="1.25" fill="#2A90E0" fill-opacity="0.65"/>
<circle cx="582.55" cy="156.67" r="1.25" fill="#2A90E0" fill-opacity="0.65"/>
<circle cx="580.23" cy="173.16" r="1.25" fill="#2A90E0" fill-opacity="0.65"/>
<circle cx="578.72" cy="170.28" r="1.25" fill="#2A90E0" fill-opacity="0.65"/>
<circle cx="581.31" cy="178.25" r="1.25" fill="#2A90E0" fill-opacity="0.65"/>
<circle cx="577.89" cy="134.74" r="1.25" fill="#2A90E0" fill-opacity="0.65"/>
<circle cx="582.54" cy="143.71" r="1.25" fill="#2A90E0" fill-opacity="0.65"/>
<circle cx="579.90" cy="167.57" r="1.25" fill="#2A90E0" fill-opacity="0.65"/>
<circle cx="578.51" cy="169.14" r="1.25" fill="#2A90E0" fill-opacity="0.65"/>
<circle cx="581.09" cy="147.72" r="1.25" fill="#2A90E0" fill-opacity="0.65"/>
<circle cx="579.03" cy="187.46" r="1.25" fill="#2A90E0" fill-opacity="0.65"/>
<circle cx="577.33" cy="172.19" r="1.25" fill="#2A90E0" fill-opacity="0.65"/>
<circle cx="580.96" cy="179.16" r="1.25" fill="#2A90E0" fill-opacity="0.65"/>
<circle cx="576.51" cy="174.83" r="1.25" fill="#2A90E0" fill-opacity="0.65"/>
<circle cx="581.45" cy="157.48" r="1.25" fill="#2A90E0" fill-opacity="0.65"/>
<circle cx="577.82" cy="163.97" r="1.25" fill="#2A90E0" fill-opacity="0.65"/>
<circle cx="580.29" cy="179.34" r="1.25" fill="#2A90E0" fill-opacity="0.65"/>
<circle cx="582.50" cy="98.00" r="1.25" fill="#2A90E0" fill-opacity="0.65"/>
<circle cx="579.95" cy="90.00" r="1.25" fill="#2A90E0" fill-opacity="0.65"/>
<circle cx="580.45" cy="85.00" r="1.25" fill="#2A90E0" fill-opacity="0.65"/>
<circle cx="578.20" cy="80.00" r="1.25" fill="#2A90E0" fill-opacity="0.65"/>
<circle cx="576.21" cy="75.00" r="1.25" fill="#2A90E0" fill-opacity="0.65"/>
<circle cx="576.42" cy="70.00" r="1.25" fill="#2A90E0" fill-opacity="0.65"/>
<circle cx="577.16" cy="68.00" r="1.25" fill="#2A90E0" fill-opacity="0.65"/>
<circle cx="580.14" cy="72.00" r="1.25" fill="#2A90E0" fill-opacity="0.65"/>
<circle cx="578.97" cy="93.00" r="1.25" fill="#2A90E0" fill-opacity="0.65"/>
<circle cx="616.66" cy="141.23" r="1.25" fill="#E69F00" fill-opacity="0.65"/>
<circle cx="621.79" cy="175.83" r="1.25" fill="#E69F00" fill-opacity="0.65"/>
<circle cx="617.36" cy="93.03" r="1.25" fill="#E69F00" fill-opacity="0.65"/>
<circle cx="616.76" cy="178.04" r="1.25" fill="#E69F00" fill-opacity="0.65"/>
<circle cx="616.41" cy="178.08" r="1.25" fill="#E69F00" fill-opacity="0.65"/>
<circle cx="619.88" cy="182.00" r="1.25" fill="#E69F00" fill-opacity="0.65"/>
<circle cx="621.38" cy="103.07" r="1.25" fill="#E69F00" fill-opacity="0.65"/>
<circle cx="620.81" cy="118.01" r="1.25" fill="#E69F00" fill-opacity="0.65"/>
<circle cx="644.15" cy="169.16" r="1.25" fill="#2A90E0" fill-opacity="0.65"/>
<circle cx="642.30" cy="187.17" r="1.25" fill="#2A90E0" fill-opacity="0.65"/>
<circle cx="640.85" cy="155.83" r="1.25" fill="#2A90E0" fill-opacity="0.65"/>
<circle cx="640.07" cy="157.12" r="1.25" fill="#2A90E0" fill-opacity="0.65"/>
<circle cx="640.89" cy="142.79" r="1.25" fill="#2A90E0" fill-opacity="0.65"/>
<circle cx="639.65" cy="189.52" r="1.25" fill="#2A90E0" fill-opacity="0.65"/>
<circle cx="641.55" cy="186.14" r="1.25" fill="#2A90E0" fill-opacity="0.65"/>
<circle cx="644.20" cy="168.72" r="1.25" fill="#2A90E0" fill-opacity="0.65"/>
<circle cx="643.85" cy="188.39" r="1.25" fill="#2A90E0" fill-opacity="0.65"/>
<circle cx="644.81" cy="186.31" r="1.25" fill="#2A90E0" fill-opacity="0.65"/>
<circle cx="643.95" cy="124.58" r="1.25" fill="#2A90E0" fill-opacity="0.65"/>
<circle cx="641.10" cy="186.83" r="1.25" fill="#2A90E0" fill-opacity="0.65"/>
<circle cx="642.94" cy="179.41" r="1.25" fill="#2A90E0" fill-opacity="0.65"/>
<circle cx="642.19" cy="135.50" r="1.25" fill="#2A90E0" fill-opacity="0.65"/>
<circle cx="644.45" cy="163.52" r="1.25" fill="#2A90E0" fill-opacity="0.65"/>
<circle cx="642.75" cy="170.68" r="1.25" fill="#2A90E0" fill-opacity="0.65"/>
<circle cx="641.10" cy="153.11" r="1.25" fill="#2A90E0" fill-opacity="0.65"/>
<circle cx="643.51" cy="158.49" r="1.25" fill="#2A90E0" fill-opacity="0.65"/>
<circle cx="645.58" cy="184.06" r="1.25" fill="#2A90E0" fill-opacity="0.65"/>
<circle cx="640.79" cy="180.21" r="1.25" fill="#2A90E0" fill-opacity="0.65"/>
<circle cx="645.03" cy="172.78" r="1.25" fill="#2A90E0" fill-opacity="0.65"/>
<circle cx="639.50" cy="133.03" r="1.25" fill="#2A90E0" fill-opacity="0.65"/>
<circle cx="641.07" cy="166.68" r="1.25" fill="#2A90E0" fill-opacity="0.65"/>
<circle cx="640.91" cy="164.11" r="1.25" fill="#2A90E0" fill-opacity="0.65"/>
<circle cx="644.16" cy="80.40" r="1.25" fill="#2A90E0" fill-opacity="0.65"/>
<line x1="467.30" y1="31.60" x2="668.60" y2="31.60" stroke="#808080" stroke-width="1"/>
<line x1="668.60" y1="31.60" x2="668.60" y2="197.80" stroke="#808080" stroke-width="1"/>
<line x1="467.30" y1="31.60" x2="467.30" y2="197.80" stroke="#808080" stroke-width="1"/>
<line x1="466.80" y1="197.80" x2="669.10" y2="197.80" stroke="#808080" stroke-width="1.6"/>
<line x1="464.70" y1="190.90" x2="467.30" y2="190.90" stroke="#333" stroke-width="0.8"/>
<text x="464.20" y="195.30" font-size="12.6" text-anchor="end" fill="#1a1a1a" stroke="#1a1a1a" stroke-width="0.22">0.0</text>
<line x1="464.70" y1="155.00" x2="467.30" y2="155.00" stroke="#333" stroke-width="0.8"/>
<text x="464.20" y="159.40" font-size="12.6" text-anchor="end" fill="#1a1a1a" stroke="#1a1a1a" stroke-width="0.22">0.2</text>
<line x1="464.70" y1="119.10" x2="467.30" y2="119.10" stroke="#333" stroke-width="0.8"/>
<text x="464.20" y="123.50" font-size="12.6" text-anchor="end" fill="#1a1a1a" stroke="#1a1a1a" stroke-width="0.22">0.4</text>
<line x1="464.70" y1="83.20" x2="467.30" y2="83.20" stroke="#333" stroke-width="0.8"/>
<text x="464.20" y="87.60" font-size="12.6" text-anchor="end" fill="#1a1a1a" stroke="#1a1a1a" stroke-width="0.22">0.6</text>
<line x1="464.70" y1="47.30" x2="467.30" y2="47.30" stroke="#333" stroke-width="0.8"/>
<text x="464.20" y="51.70" font-size="12.6" text-anchor="end" fill="#1a1a1a" stroke="#1a1a1a" stroke-width="0.22">0.8</text>
<line x1="504.50" y1="197.80" x2="504.50" y2="200.20" stroke="#808080" stroke-width="0.8"/>
<text x="504.50" y="212.10" font-size="12.6" text-anchor="middle" fill="#1a1a1a" stroke="#1a1a1a" stroke-width="0.22">d3</text>
<line x1="567.70" y1="197.80" x2="567.70" y2="200.20" stroke="#808080" stroke-width="0.8"/>
<text x="567.70" y="212.10" font-size="12.6" text-anchor="middle" fill="#1a1a1a" stroke="#1a1a1a" stroke-width="0.22">d5</text>
<line x1="631.00" y1="197.80" x2="631.00" y2="200.20" stroke="#808080" stroke-width="0.8"/>
<text x="631.00" y="212.10" font-size="12.6" text-anchor="middle" fill="#1a1a1a" stroke="#1a1a1a" stroke-width="0.22">d7</text>
<text x="570.70" y="225.40" font-size="12.6" text-anchor="middle" fill="#1a1a1a" stroke="#1a1a1a" stroke-width="0.22">Days after admission</text>
<text x="443.20" y="101.60" font-size="12.6" text-anchor="middle" fill="#1a1a1a" stroke="#1a1a1a" stroke-width="0.22" transform="rotate(-90 443.20 101.60)">Distance to day1</text>
<path d="M491.7 42.7 V38.7 H555.5 V42.7" fill="none" stroke="#333" stroke-width="0.9"/>
<text x="522.00" y="41.90" font-size="12.6" text-anchor="middle" fill="#1a1a1a" stroke="#1a1a1a" stroke-width="0.22">***</text>
<path d="M517.3 51.4 V47.4 H580.3 V51.4" fill="none" stroke="#333" stroke-width="0.9"/>
<text x="549.30" y="51.40" font-size="12.6" text-anchor="middle" fill="#1a1a1a" stroke="#1a1a1a" stroke-width="0.22">*</text>
<path d="M555.5 60.5 V56.5 H580.3 V60.5" fill="none" stroke="#333" stroke-width="0.9"/>
<text x="567.70" y="59.90" font-size="12.6" text-anchor="middle" fill="#1a1a1a" stroke="#1a1a1a" stroke-width="0.22">**</text>
<line x1="514.15" y1="17.20" x2="514.15" y2="18.80" stroke="#DBA93C" stroke-width="0.9"/>
<line x1="514.15" y1="24.40" x2="514.15" y2="26.00" stroke="#DBA93C" stroke-width="0.9"/>
<rect x="509.30" y="18.80" width="9.70" height="5.60" fill="none" stroke="#DBA93C" stroke-width="0.9"/>
<line x1="509.30" y1="21.60" x2="519.00" y2="21.60" stroke="#DBA93C" stroke-width="1.1"/>
<circle cx="514.15" cy="21.60" r="1.00" fill="#DBA93C"/>
<text x="522.00" y="26.00" font-size="12.6" text-anchor="start" fill="#1a1a1a" stroke="#1a1a1a" stroke-width="0.22">Severe</text>
<line x1="573.15" y1="17.20" x2="573.15" y2="18.80" stroke="#4A8CBF" stroke-width="0.9"/>
<line x1="573.15" y1="24.40" x2="573.15" y2="26.00" stroke="#4A8CBF" stroke-width="0.9"/>
<rect x="568.30" y="18.80" width="9.70" height="5.60" fill="none" stroke="#4A8CBF" stroke-width="0.9"/>
<line x1="568.30" y1="21.60" x2="578.00" y2="21.60" stroke="#4A8CBF" stroke-width="1.1"/>
<circle cx="573.15" cy="21.60" r="1.00" fill="#4A8CBF"/>
<text x="580.80" y="26.00" font-size="12.6" text-anchor="start" fill="#1a1a1a" stroke="#1a1a1a" stroke-width="0.22">Non-severe</text>
<text x="426.00" y="20.80" font-size="16.8" text-anchor="start" fill="#1a1a1a" stroke="#1a1a1a" stroke-width="0.22">C</text>
<path d="M50.50 287.30 C87.05 287.30 87.05 287.30 123.60 287.30 L123.60 304.50 C87.05 304.50 87.05 304.50 50.50 304.50 Z" fill="#9A9A9A" fill-opacity="0.5"/>
<path d="M50.50 304.50 C87.05 304.50 87.05 311.20 123.60 311.20 L123.60 315.30 C87.05 315.30 87.05 308.60 50.50 308.60 Z" fill="#9A9A9A" fill-opacity="0.5"/>
<path d="M50.50 308.60 C87.05 308.60 87.05 368.70 123.60 368.70 L123.60 371.10 C87.05 371.10 87.05 311.00 50.50 311.00 Z" fill="#9A9A9A" fill-opacity="0.5"/>
<path d="M50.50 311.00 C87.05 311.00 87.05 383.30 123.60 383.30 L123.60 385.60 C87.05 385.60 87.05 313.30 50.50 313.30 Z" fill="#9A9A9A" fill-opacity="0.5"/>
<path d="M50.50 313.30 C87.05 313.30 87.05 430.70 123.60 430.70 L123.60 433.10 C87.05 433.10 87.05 315.70 50.50 315.70 Z" fill="#9A9A9A" fill-opacity="0.5"/>
<path d="M50.50 319.40 C87.05 319.40 87.05 319.00 123.60 319.00 L123.60 323.00 C87.05 323.00 87.05 323.40 50.50 323.40 Z" fill="#9A9A9A" fill-opacity="0.5"/>
<path d="M50.50 323.40 C87.05 323.40 87.05 327.00 123.60 327.00 L123.60 330.60 C87.05 330.60 87.05 327.00 50.50 327.00 Z" fill="#9A9A9A" fill-opacity="0.5"/>
<path d="M50.50 331.20 C87.05 331.20 87.05 330.60 123.60 330.60 L123.60 342.30 C87.05 342.30 87.05 342.90 50.50 342.90 Z" fill="#9A9A9A" fill-opacity="0.5"/>
<path d="M50.50 347.00 C87.05 347.00 87.05 342.30 123.60 342.30 L123.60 350.60 C87.05 350.60 87.05 355.10 50.50 355.10 Z" fill="#9A9A9A" fill-opacity="0.5"/>
<path d="M50.50 359.20 C87.05 359.20 87.05 355.10 123.60 355.10 L123.60 368.70 C87.05 368.70 87.05 372.90 50.50 372.90 Z" fill="#9A9A9A" fill-opacity="0.5"/>
<path d="M50.50 372.90 C87.05 372.90 87.05 304.50 123.60 304.50 L123.60 306.70 C87.05 306.70 87.05 375.30 50.50 375.30 Z" fill="#9A9A9A" fill-opacity="0.5"/>
<path d="M50.50 375.30 C87.05 375.30 87.05 374.50 123.60 374.50 L123.60 379.20 C87.05 379.20 87.05 380.00 50.50 380.00 Z" fill="#9A9A9A" fill-opacity="0.5"/>
<path d="M50.50 380.00 C87.05 380.00 87.05 385.60 123.60 385.60 L123.60 391.60 C87.05 391.60 87.05 386.00 50.50 386.00 Z" fill="#9A9A9A" fill-opacity="0.5"/>
<path d="M50.50 390.00 C87.05 390.00 87.05 391.60 123.60 391.60 L123.60 396.60 C87.05 396.60 87.05 395.00 50.50 395.00 Z" fill="#9A9A9A" fill-opacity="0.5"/>
<path d="M50.50 399.20 C87.05 399.20 87.05 396.60 123.60 396.60 L123.60 426.60 C87.05 426.60 87.05 429.20 50.50 429.20 Z" fill="#9A9A9A" fill-opacity="0.5"/>
<path d="M50.50 429.20 C87.05 429.20 87.05 433.10 123.60 433.10 L123.60 438.30 C87.05 438.30 87.05 434.40 50.50 434.40 Z" fill="#9A9A9A" fill-opacity="0.5"/>
<path d="M50.50 438.50 C87.05 438.50 87.05 438.50 123.60 438.50 L123.60 446.20 C87.05 446.20 87.05 446.20 50.50 446.20 Z" fill="#9A9A9A" fill-opacity="0.5"/>
<path d="M50.50 296.00 C87.05 296.00 87.05 420.00 123.60 420.00" fill="none" stroke="#BDBDBD" stroke-width="1.3" stroke-opacity="0.6"/>
<path d="M50.50 300.00 C87.05 300.00 87.05 445.00 123.60 445.00" fill="none" stroke="#BDBDBD" stroke-width="1.3" stroke-opacity="0.6"/>
<path d="M50.50 368.00 C87.05 368.00 87.05 296.00 123.60 296.00" fill="none" stroke="#BDBDBD" stroke-width="1.3" stroke-opacity="0.6"/>
<path d="M50.50 404.00 C87.05 404.00 87.05 352.00 123.60 352.00" fill="none" stroke="#BDBDBD" stroke-width="1.3" stroke-opacity="0.6"/>
<path d="M50.50 412.00 C87.05 412.00 87.05 325.00 123.60 325.00" fill="none" stroke="#BDBDBD" stroke-width="1.3" stroke-opacity="0.6"/>
<path d="M50.50 388.00 C87.05 388.00 87.05 343.00 123.60 343.00" fill="none" stroke="#BDBDBD" stroke-width="1.3" stroke-opacity="0.6"/>
<path d="M50.50 440.00 C87.05 440.00 87.05 385.00 123.60 385.00" fill="none" stroke="#BDBDBD" stroke-width="1.3" stroke-opacity="0.6"/>
<path d="M50.50 325.00 C87.05 325.00 87.05 402.00 123.60 402.00" fill="none" stroke="#BDBDBD" stroke-width="1.3" stroke-opacity="0.6"/>
<path d="M50.50 298.00 C87.05 298.00 87.05 392.00 123.60 392.00" fill="none" stroke="#BDBDBD" stroke-width="1.3" stroke-opacity="0.6"/>
<path d="M50.50 362.00 C87.05 362.00 87.05 300.00 123.60 300.00" fill="none" stroke="#BDBDBD" stroke-width="1.3" stroke-opacity="0.6"/>
<rect x="41.90" y="287.30" width="8.60" height="28.40" fill="#EDBFB5" stroke="#7A6E6E" stroke-width="0.7" rx="0.6"/>
<rect x="41.90" y="319.40" width="8.60" height="7.60" fill="#E3A496" stroke="#7A6E6E" stroke-width="0.7" rx="0.6"/>
<rect x="41.90" y="331.20" width="8.60" height="11.70" fill="#F3D2CB" stroke="#7A6E6E" stroke-width="0.7" rx="0.6"/>
<rect x="41.90" y="347.00" width="8.60" height="8.10" fill="#8B0000" stroke="#7A6E6E" stroke-width="0.7" rx="0.6"/>
<rect x="41.90" y="359.20" width="8.60" height="26.80" fill="#FCEDEA" stroke="#7A6E6E" stroke-width="0.7" rx="0.6"/>
<rect x="41.90" y="390.00" width="8.60" height="5.00" fill="#FFFFFF" stroke="#7A6E6E" stroke-width="0.7" rx="0.6"/>
<rect x="41.90" y="399.20" width="8.60" height="35.20" fill="#F3D2CB" stroke="#7A6E6E" stroke-width="0.7" rx="0.6"/>
<rect x="41.90" y="438.50" width="8.60" height="7.70" fill="#CC6F61" stroke="#7A6E6E" stroke-width="0.7" rx="0.6"/>
<rect x="123.60" y="287.30" width="8.20" height="19.40" fill="#EDBFB5" stroke="#7A6E6E" stroke-width="0.7" rx="0.6"/>
<rect x="123.60" y="311.20" width="8.20" height="4.10" fill="#E3A496" stroke="#7A6E6E" stroke-width="0.7" rx="0.6"/>
<rect x="123.60" y="319.00" width="8.20" height="4.00" fill="#F3D2CB" stroke="#7A6E6E" stroke-width="0.7" rx="0.6"/>
<rect x="123.60" y="327.00" width="8.20" height="24.00" fill="#8B0000" stroke="#7A6E6E" stroke-width="0.7" rx="0.6"/>
<rect x="123.60" y="355.10" width="8.20" height="16.00" fill="#FCEDEA" stroke="#7A6E6E" stroke-width="0.7" rx="0.6"/>
<rect x="123.60" y="374.50" width="8.20" height="4.70" fill="#FFFFFF" stroke="#7A6E6E" stroke-width="0.7" rx="0.6"/>
<rect x="123.60" y="383.30" width="8.20" height="43.30" fill="#F3D2CB" stroke="#7A6E6E" stroke-width="0.7" rx="0.6"/>
<rect x="123.60" y="430.70" width="8.20" height="15.50" fill="#CC6F61" stroke="#7A6E6E" stroke-width="0.7" rx="0.6"/>
<text x="40.60" y="326.50" font-size="12.3" text-anchor="end" fill="#1a1a1a" stroke="#1a1a1a" stroke-width="0.22">9</text>
<text x="40.60" y="340.35" font-size="12.3" text-anchor="end" fill="#1a1a1a" stroke="#1a1a1a" stroke-width="0.22">8</text>
<text x="40.60" y="354.35" font-size="12.3" text-anchor="end" fill="#1a1a1a" stroke="#1a1a1a" stroke-width="0.22">5</text>
<text x="40.60" y="375.90" font-size="12.3" text-anchor="end" fill="#1a1a1a" stroke="#1a1a1a" stroke-width="0.22">4</text>
<text x="40.60" y="395.80" font-size="12.3" text-anchor="end" fill="#1a1a1a" stroke="#1a1a1a" stroke-width="0.22">3</text>
<text x="40.60" y="420.10" font-size="12.3" text-anchor="end" fill="#1a1a1a" stroke="#1a1a1a" stroke-width="0.22">2</text>
<text x="40.60" y="445.65" font-size="12.3" text-anchor="end" fill="#1a1a1a" stroke="#1a1a1a" stroke-width="0.22">1</text>
<text x="122.40" y="315.80" font-size="12.3" text-anchor="end" fill="#1a1a1a" stroke="#1a1a1a" stroke-width="0.22">9</text>
<text x="122.40" y="327.00" font-size="12.3" text-anchor="end" fill="#1a1a1a" stroke="#1a1a1a" stroke-width="0.22">8</text>
<text x="122.40" y="342.30" font-size="12.3" text-anchor="end" fill="#1a1a1a" stroke="#1a1a1a" stroke-width="0.22">5</text>
<text x="122.40" y="366.40" font-size="12.3" text-anchor="end" fill="#1a1a1a" stroke="#1a1a1a" stroke-width="0.22">4</text>
<text x="122.40" y="380.15" font-size="12.3" text-anchor="end" fill="#1a1a1a" stroke="#1a1a1a" stroke-width="0.22">3</text>
<text x="122.40" y="408.25" font-size="12.3" text-anchor="end" fill="#1a1a1a" stroke="#1a1a1a" stroke-width="0.22">2</text>
<text x="122.40" y="441.75" font-size="12.3" text-anchor="end" fill="#1a1a1a" stroke="#1a1a1a" stroke-width="0.22">1</text>
<rect x="64.5" y="285.5" width="44" height="12" fill="#FFFFFF" fill-opacity="0"/>
<text x="86.30" y="296.20" font-size="12.4" text-anchor="middle" fill="#1a1a1a" stroke="#1a1a1a" stroke-width="0.22">outliers</text>
<line x1="50.50" y1="295.60" x2="63.80" y2="291.00" stroke="#333" stroke-width="0.7"/>
<line x1="108.60" y1="291.00" x2="123.60" y2="293.80" stroke="#333" stroke-width="0.7"/>
<text x="85.60" y="281.40" font-size="12.6" text-anchor="middle" fill="#1a1a1a" stroke="#1a1a1a" stroke-width="0.22">Severe</text>
<text x="45.20" y="458.70" font-size="11.8" text-anchor="middle" fill="#1a1a1a" stroke="#1a1a1a" stroke-width="0.22">d1</text>
<text x="126.20" y="458.70" font-size="11.8" text-anchor="middle" fill="#1a1a1a" stroke="#1a1a1a" stroke-width="0.22">d5</text>
<path d="M155.50 287.40 C192.10 287.40 192.10 287.40 228.70 287.40 L228.70 297.60 C192.10 297.60 192.10 296.50 155.50 296.50 Z" fill="#9A9A9A" fill-opacity="0.5"/>
<path d="M155.50 299.70 C192.10 299.70 192.10 301.00 228.70 301.00 L228.70 305.30 C192.10 305.30 192.10 303.50 155.50 303.50 Z" fill="#9A9A9A" fill-opacity="0.5"/>
<path d="M155.50 306.30 C192.10 306.30 192.10 308.00 228.70 308.00 L228.70 309.80 C192.10 309.80 192.10 308.10 155.50 308.10 Z" fill="#9A9A9A" fill-opacity="0.5"/>
<path d="M155.50 311.40 C192.10 311.40 192.10 313.20 228.70 313.20 L228.70 316.00 C192.10 316.00 192.10 315.40 155.50 315.40 Z" fill="#9A9A9A" fill-opacity="0.5"/>
<path d="M155.50 318.40 C192.10 318.40 192.10 319.30 228.70 319.30 L228.70 324.70 C192.10 324.70 192.10 325.40 155.50 325.40 Z" fill="#9A9A9A" fill-opacity="0.5"/>
<path d="M155.50 328.60 C192.10 328.60 192.10 328.60 228.70 328.60 L228.70 331.20 C192.10 331.20 192.10 330.00 155.50 330.00 Z" fill="#9A9A9A" fill-opacity="0.5"/>
<path d="M155.50 332.60 C192.10 332.60 192.10 334.20 228.70 334.20 L228.70 365.00 C192.10 365.00 192.10 363.40 155.50 363.40 Z" fill="#9A9A9A" fill-opacity="0.5"/>
<path d="M155.50 363.40 C192.10 363.40 192.10 379.90 228.70 379.90 L228.70 392.00 C192.10 392.00 192.10 375.50 155.50 375.50 Z" fill="#9A9A9A" fill-opacity="0.5"/>
<path d="M155.50 375.50 C192.10 375.50 192.10 408.40 228.70 408.40 L228.70 419.30 C192.10 419.30 192.10 386.40 155.50 386.40 Z" fill="#9A9A9A" fill-opacity="0.5"/>
<path d="M155.50 389.50 C192.10 389.50 192.10 365.00 228.70 365.00 L228.70 376.40 C192.10 376.40 192.10 400.90 155.50 400.90 Z" fill="#9A9A9A" fill-opacity="0.5"/>
<path d="M155.50 400.90 C192.10 400.90 192.10 392.00 228.70 392.00 L228.70 402.00 C192.10 402.00 192.10 411.10 155.50 411.10 Z" fill="#9A9A9A" fill-opacity="0.5"/>
<path d="M155.50 414.60 C192.10 414.60 192.10 402.00 228.70 402.00 L228.70 405.00 C192.10 405.00 192.10 417.60 155.50 417.60 Z" fill="#9A9A9A" fill-opacity="0.5"/>
<path d="M155.50 417.60 C192.10 417.60 192.10 419.30 228.70 419.30 L228.70 440.00 C192.10 440.00 192.10 440.30 155.50 440.30 Z" fill="#9A9A9A" fill-opacity="0.5"/>
<path d="M155.50 443.80 C192.10 443.80 192.10 443.30 228.70 443.30 L228.70 447.00 C192.10 447.00 192.10 447.30 155.50 447.30 Z" fill="#9A9A9A" fill-opacity="0.5"/>
<path d="M155.50 292.00 C192.10 292.00 192.10 360.00 228.70 360.00" fill="none" stroke="#A8A8A8" stroke-width="0.5" stroke-opacity="0.8"/>
<path d="M155.50 295.00 C192.10 295.00 192.10 420.00 228.70 420.00" fill="none" stroke="#A8A8A8" stroke-width="0.5" stroke-opacity="0.8"/>
<path d="M155.50 301.00 C192.10 301.00 192.10 340.00 228.70 340.00" fill="none" stroke="#A8A8A8" stroke-width="0.5" stroke-opacity="0.8"/>
<path d="M155.50 310.00 C192.10 310.00 192.10 395.00 228.70 395.00" fill="none" stroke="#A8A8A8" stroke-width="0.5" stroke-opacity="0.8"/>
<path d="M155.50 320.00 C192.10 320.00 192.10 350.00 228.70 350.00" fill="none" stroke="#A8A8A8" stroke-width="0.5" stroke-opacity="0.8"/>
<path d="M155.50 340.00 C192.10 340.00 192.10 300.00 228.70 300.00" fill="none" stroke="#A8A8A8" stroke-width="0.5" stroke-opacity="0.8"/>
<path d="M155.50 350.00 C192.10 350.00 192.10 312.00 228.70 312.00" fill="none" stroke="#A8A8A8" stroke-width="0.5" stroke-opacity="0.8"/>
<path d="M155.50 360.00 C192.10 360.00 192.10 322.00 228.70 322.00" fill="none" stroke="#A8A8A8" stroke-width="0.5" stroke-opacity="0.8"/>
<path d="M155.50 370.00 C192.10 370.00 192.10 305.00 228.70 305.00" fill="none" stroke="#A8A8A8" stroke-width="0.5" stroke-opacity="0.8"/>
<path d="M155.50 395.00 C192.10 395.00 192.10 330.00 228.70 330.00" fill="none" stroke="#A8A8A8" stroke-width="0.5" stroke-opacity="0.8"/>
<path d="M155.50 405.00 C192.10 405.00 192.10 292.00 228.70 292.00" fill="none" stroke="#A8A8A8" stroke-width="0.5" stroke-opacity="0.8"/>
<path d="M155.50 420.00 C192.10 420.00 192.10 344.00 228.70 344.00" fill="none" stroke="#A8A8A8" stroke-width="0.5" stroke-opacity="0.8"/>
<path d="M155.50 430.00 C192.10 430.00 192.10 385.00 228.70 385.00" fill="none" stroke="#A8A8A8" stroke-width="0.5" stroke-opacity="0.8"/>
<path d="M155.50 438.00 C192.10 438.00 192.10 445.00 228.70 445.00" fill="none" stroke="#A8A8A8" stroke-width="0.5" stroke-opacity="0.8"/>
<path d="M155.50 445.00 C192.10 445.00 192.10 410.00 228.70 410.00" fill="none" stroke="#A8A8A8" stroke-width="0.5" stroke-opacity="0.8"/>
<path d="M155.50 312.00 C192.10 312.00 192.10 432.00 228.70 432.00" fill="none" stroke="#A8A8A8" stroke-width="0.5" stroke-opacity="0.8"/>
<path d="M155.50 322.00 C192.10 322.00 192.10 372.00 228.70 372.00" fill="none" stroke="#A8A8A8" stroke-width="0.5" stroke-opacity="0.8"/>
<path d="M155.50 300.00 C192.10 300.00 192.10 380.00 228.70 380.00" fill="none" stroke="#A8A8A8" stroke-width="0.5" stroke-opacity="0.8"/>
<rect x="146.90" y="287.40" width="8.60" height="9.10" fill="#E3A496" stroke="#7A6E6E" stroke-width="0.7" rx="0.6"/>
<rect x="146.90" y="299.70" width="8.60" height="3.80" fill="#E3A496" stroke="#7A6E6E" stroke-width="0.7" rx="0.6"/>
<rect x="146.90" y="306.30" width="8.60" height="1.80" fill="#CC6F61" stroke="#7A6E6E" stroke-width="0.7" rx="0.6"/>
<rect x="146.90" y="311.40" width="8.60" height="4.00" fill="#FFFFFF" stroke="#7A6E6E" stroke-width="0.7" rx="0.6"/>
<rect x="146.90" y="318.40" width="8.60" height="7.00" fill="#FCEDEA" stroke="#7A6E6E" stroke-width="0.7" rx="0.6"/>
<rect x="146.90" y="328.60" width="8.60" height="1.40" fill="#8B0000" stroke="#7A6E6E" stroke-width="0.7" rx="0.6"/>
<rect x="146.90" y="332.60" width="8.60" height="53.80" fill="#FCEDEA" stroke="#7A6E6E" stroke-width="0.7" rx="0.6"/>
<rect x="146.90" y="389.50" width="8.60" height="21.60" fill="#FCEDEA" stroke="#7A6E6E" stroke-width="0.7" rx="0.6"/>
<rect x="146.90" y="414.60" width="8.60" height="25.70" fill="#F3D2CB" stroke="#7A6E6E" stroke-width="0.7" rx="0.6"/>
<rect x="146.90" y="443.80" width="8.60" height="3.50" fill="#CC6F61" stroke="#7A6E6E" stroke-width="0.7" rx="0.6"/>
<rect x="228.70" y="287.40" width="7.90" height="10.20" fill="#E3A496" stroke="#7A6E6E" stroke-width="0.7" rx="0.6"/>
<rect x="228.70" y="301.00" width="7.90" height="4.30" fill="#E3A496" stroke="#7A6E6E" stroke-width="0.7" rx="0.6"/>
<rect x="228.70" y="308.00" width="7.90" height="1.80" fill="#CC6F61" stroke="#7A6E6E" stroke-width="0.7" rx="0.6"/>
<rect x="228.70" y="313.20" width="7.90" height="2.80" fill="#FFFFFF" stroke="#7A6E6E" stroke-width="0.7" rx="0.6"/>
<rect x="228.70" y="319.30" width="7.90" height="5.40" fill="#FCEDEA" stroke="#7A6E6E" stroke-width="0.7" rx="0.6"/>
<rect x="228.70" y="328.60" width="7.90" height="2.60" fill="#8B0000" stroke="#7A6E6E" stroke-width="0.7" rx="0.6"/>
<rect x="228.70" y="334.20" width="7.90" height="42.20" fill="#FCEDEA" stroke="#7A6E6E" stroke-width="0.7" rx="0.6"/>
<rect x="228.70" y="379.90" width="7.90" height="25.10" fill="#FCEDEA" stroke="#7A6E6E" stroke-width="0.7" rx="0.6"/>
<rect x="228.70" y="408.40" width="7.90" height="31.60" fill="#F3D2CB" stroke="#7A6E6E" stroke-width="0.7" rx="0.6"/>
<rect x="228.70" y="443.30" width="7.90" height="3.70" fill="#CC6F61" stroke="#7A6E6E" stroke-width="0.7" rx="0.6"/>
<text x="159.20" y="305.60" font-size="12.5" text-anchor="start" fill="#1a1a1a" stroke="#1a1a1a" stroke-width="0.22">9</text>
<text x="159.00" y="404.20" font-size="12.5" text-anchor="start" fill="#1a1a1a" stroke="#1a1a1a" stroke-width="0.22">3</text>
<text x="159.00" y="431.40" font-size="12.5" text-anchor="start" fill="#1a1a1a" stroke="#1a1a1a" stroke-width="0.22">2</text>
<text x="159.00" y="447.20" font-size="12.5" text-anchor="start" fill="#1a1a1a" stroke="#1a1a1a" stroke-width="0.22">1</text>
<text x="159.00" y="364.00" font-size="12.5" text-anchor="start" fill="#1a1a1a" stroke="#1a1a1a" stroke-width="0.22">4</text>
<line x1="155.50" y1="307.20" x2="161.80" y2="308.50" stroke="#333" stroke-width="0.6"/>
<text x="162.60" y="316.20" font-size="12.5" text-anchor="start" fill="#1a1a1a" stroke="#1a1a1a" stroke-width="0.22">8</text>
<line x1="155.50" y1="313.40" x2="161.80" y2="319.80" stroke="#333" stroke-width="0.6"/>
<text x="162.60" y="327.50" font-size="12.5" text-anchor="start" fill="#1a1a1a" stroke="#1a1a1a" stroke-width="0.22">7</text>
<line x1="155.50" y1="321.90" x2="161.80" y2="331.20" stroke="#333" stroke-width="0.6"/>
<text x="162.60" y="338.90" font-size="12.5" text-anchor="start" fill="#1a1a1a" stroke="#1a1a1a" stroke-width="0.22">6</text>
<line x1="155.50" y1="329.30" x2="161.80" y2="341.70" stroke="#333" stroke-width="0.6"/>
<text x="162.60" y="349.40" font-size="12.5" text-anchor="start" fill="#1a1a1a" stroke="#1a1a1a" stroke-width="0.22">5</text>
<text x="240.80" y="307.20" font-size="12.5" text-anchor="start" fill="#1a1a1a" stroke="#1a1a1a" stroke-width="0.22">9</text>
<text x="240.50" y="396.20" font-size="12.3" text-anchor="start" fill="#1a1a1a" stroke="#1a1a1a" stroke-width="0.22">3</text>
<text x="240.50" y="428.20" font-size="12.3" text-anchor="start" fill="#1a1a1a" stroke="#1a1a1a" stroke-width="0.22">2</text>
<text x="240.50" y="446.00" font-size="12.3" text-anchor="start" fill="#1a1a1a" stroke="#1a1a1a" stroke-width="0.22">1</text>
<text x="240.80" y="364.00" font-size="12.5" text-anchor="start" fill="#1a1a1a" stroke="#1a1a1a" stroke-width="0.22">4</text>
<line x1="236.60" y1="308.90" x2="244.30" y2="309.50" stroke="#333" stroke-width="0.6"/>
<text x="245.00" y="317.20" font-size="12.5" text-anchor="start" fill="#1a1a1a" stroke="#1a1a1a" stroke-width="0.22">8</text>
<line x1="236.60" y1="314.60" x2="244.30" y2="320.80" stroke="#333" stroke-width="0.6"/>
<text x="245.00" y="328.50" font-size="12.5" text-anchor="start" fill="#1a1a1a" stroke="#1a1a1a" stroke-width="0.22">7</text>
<line x1="236.60" y1="322.00" x2="244.30" y2="332.20" stroke="#333" stroke-width="0.6"/>
<text x="245.00" y="339.90" font-size="12.5" text-anchor="start" fill="#1a1a1a" stroke="#1a1a1a" stroke-width="0.22">6</text>
<line x1="236.60" y1="329.90" x2="244.30" y2="342.70" stroke="#333" stroke-width="0.6"/>
<text x="245.00" y="350.40" font-size="12.5" text-anchor="start" fill="#1a1a1a" stroke="#1a1a1a" stroke-width="0.22">5</text>
<text x="192.00" y="296.00" font-size="12.4" text-anchor="middle" fill="#1a1a1a" stroke="#1a1a1a" stroke-width="0.22">outliers</text>
<line x1="155.50" y1="295.00" x2="168.80" y2="290.80" stroke="#333" stroke-width="0.7"/>
<line x1="215.20" y1="290.80" x2="228.70" y2="293.50" stroke="#333" stroke-width="0.7"/>
<text x="194.60" y="281.00" font-size="12.6" text-anchor="middle" fill="#1a1a1a" stroke="#1a1a1a" stroke-width="0.22">Non-severe</text>
<text x="150.80" y="458.70" font-size="11.8" text-anchor="middle" fill="#1a1a1a" stroke="#1a1a1a" stroke-width="0.22">d1</text>
<text x="231.60" y="458.70" font-size="11.8" text-anchor="middle" fill="#1a1a1a" stroke="#1a1a1a" stroke-width="0.22">d5</text>
<defs><linearGradient id="cbD" x1="0" x2="1" y1="0" y2="0"><stop offset="0" stop-color="#FFFFFF"/><stop offset="0.25" stop-color="#F0C8C0"/><stop offset="0.55" stop-color="#C9675A"/><stop offset="0.8" stop-color="#A52A22"/><stop offset="1" stop-color="#880000"/></linearGradient></defs>
<rect x="155.70" y="472.20" width="47.60" height="9.30" fill="url(#cbD)" stroke="none" stroke-width="1"/>
<text x="164.80" y="470.60" font-size="9.0" text-anchor="middle" fill="#222" stroke="#222" stroke-width="0.22">0.2</text>
<text x="180.00" y="470.60" font-size="9.0" text-anchor="middle" fill="#222" stroke="#222" stroke-width="0.22">0.4</text>
<text x="195.10" y="470.60" font-size="9.0" text-anchor="middle" fill="#222" stroke="#222" stroke-width="0.22">0.6</text>
<text x="111.60" y="479.60" font-size="10.0" text-anchor="middle" fill="#1a1a1a" stroke="#1a1a1a" stroke-width="0.22">Severe proportion</text>
<text x="2.80" y="274.20" font-size="16.8" text-anchor="start" fill="#1a1a1a" stroke="#1a1a1a" stroke-width="0.22">D</text>
<text x="278.00" y="274.40" font-size="16.8" text-anchor="start" fill="#1a1a1a" stroke="#1a1a1a" stroke-width="0.22">E</text>
<text x="284.40" y="297.20" font-size="11.3" text-anchor="start" fill="#1a1a1a" stroke="#1a1a1a" stroke-width="0.22">NJ17036</text>
<rect x="285.90" y="300.90" width="4.30" height="7.40" fill="#499894" stroke="none" stroke-width="1"/>
<rect x="290.20" y="300.90" width="41.10" height="7.40" fill="#4E79A7" stroke="none" stroke-width="1"/>
<line x1="333.50" y1="304.60" x2="335.30" y2="304.60" stroke="#333" stroke-width="0.7"/>
<text x="335.60" y="308.60" font-size="11.3" text-anchor="start" fill="#1a1a1a" stroke="#1a1a1a" stroke-width="0.22">d5</text>
<rect x="285.90" y="310.80" width="11.60" height="7.00" fill="#777777" stroke="none" stroke-width="1"/>
<rect x="297.50" y="310.80" width="6.80" height="7.00" fill="#E15759" stroke="none" stroke-width="1"/>
<rect x="304.30" y="310.80" width="24.20" height="7.00" fill="#86BCB6" stroke="none" stroke-width="1"/>
<rect x="328.50" y="310.80" width="1.50" height="7.00" fill="#8CD17D" stroke="none" stroke-width="1"/>
<rect x="330.00" y="310.80" width="1.30" height="7.00" fill="#59A14F" stroke="none" stroke-width="1"/>
<line x1="333.50" y1="314.30" x2="335.30" y2="314.30" stroke="#333" stroke-width="0.7"/>
<text x="335.60" y="318.30" font-size="11.3" text-anchor="start" fill="#1a1a1a" stroke="#1a1a1a" stroke-width="0.22">d3</text>
<rect x="285.90" y="320.20" width="20.40" height="7.00" fill="#777777" stroke="none" stroke-width="1"/>
<rect x="306.30" y="320.20" width="3.40" height="7.00" fill="#D95F0E" stroke="none" stroke-width="1"/>
<rect x="309.70" y="320.20" width="4.60" height="7.00" fill="#FF9D9A" stroke="none" stroke-width="1"/>
<rect x="314.30" y="320.20" width="1.70" height="7.00" fill="#86BCB6" stroke="none" stroke-width="1"/>
<rect x="316.00" y="320.20" width="0.80" height="7.00" fill="#59A14F" stroke="none" stroke-width="1"/>
<rect x="316.80" y="320.20" width="14.50" height="7.00" fill="#8CD17D" stroke="none" stroke-width="1"/>
<line x1="333.50" y1="323.70" x2="335.30" y2="323.70" stroke="#333" stroke-width="0.7"/>
<text x="335.60" y="327.70" font-size="11.3" text-anchor="start" fill="#1a1a1a" stroke="#1a1a1a" stroke-width="0.22">d1</text>
<rect x="283.70" y="298.90" width="49.80" height="30.10" fill="none" stroke="#555" stroke-width="0.9"/>
<text x="352.00" y="297.20" font-size="11.3" text-anchor="start" fill="#1a1a1a" stroke="#1a1a1a" stroke-width="0.22">NJ17054</text>
<rect x="351.30" y="300.90" width="1.30" height="7.10" fill="#B6992D" stroke="none" stroke-width="1"/>
<rect x="352.60" y="300.90" width="3.60" height="7.10" fill="#FFBE7D" stroke="none" stroke-width="1"/>
<rect x="356.20" y="300.90" width="43.40" height="7.10" fill="#A0CBE8" stroke="none" stroke-width="1"/>
<line x1="402.40" y1="304.45" x2="404.20" y2="304.45" stroke="#333" stroke-width="0.7"/>
<text x="404.50" y="308.45" font-size="11.3" text-anchor="start" fill="#1a1a1a" stroke="#1a1a1a" stroke-width="0.22">d7</text>
<rect x="351.30" y="310.50" width="1.10" height="6.90" fill="#B6992D" stroke="none" stroke-width="1"/>
<rect x="352.40" y="310.50" width="18.50" height="6.90" fill="#A0CBE8" stroke="none" stroke-width="1"/>
<rect x="370.90" y="310.50" width="28.70" height="6.90" fill="#4E79A7" stroke="none" stroke-width="1"/>
<line x1="402.40" y1="313.95" x2="404.20" y2="313.95" stroke="#333" stroke-width="0.7"/>
<text x="404.50" y="317.95" font-size="11.3" text-anchor="start" fill="#1a1a1a" stroke="#1a1a1a" stroke-width="0.22">d5</text>
<rect x="351.30" y="320.00" width="4.70" height="7.00" fill="#777777" stroke="none" stroke-width="1"/>
<rect x="356.00" y="320.00" width="43.60" height="7.00" fill="#FFBE7D" stroke="none" stroke-width="1"/>
<line x1="402.40" y1="323.50" x2="404.20" y2="323.50" stroke="#333" stroke-width="0.7"/>
<text x="404.50" y="327.50" font-size="11.3" text-anchor="start" fill="#1a1a1a" stroke="#1a1a1a" stroke-width="0.22">d1</text>
<rect x="349.00" y="298.90" width="53.40" height="29.70" fill="none" stroke="#555" stroke-width="0.9"/>
<text x="284.40" y="345.80" font-size="11.3" text-anchor="start" fill="#1a1a1a" stroke="#1a1a1a" stroke-width="0.22">NJ17031</text>
<rect x="285.90" y="350.00" width="11.30" height="11.00" fill="#499894" stroke="none" stroke-width="1"/>
<rect x="297.20" y="350.00" width="34.10" height="11.00" fill="#4E79A7" stroke="none" stroke-width="1"/>
<line x1="333.00" y1="355.50" x2="334.80" y2="355.50" stroke="#333" stroke-width="0.7"/>
<text x="334.80" y="359.50" font-size="11.3" text-anchor="start" fill="#1a1a1a" stroke="#1a1a1a" stroke-width="0.22">d5</text>
<rect x="285.90" y="364.20" width="1.10" height="10.60" fill="#C99A9B" stroke="none" stroke-width="1"/>
<rect x="287.00" y="364.20" width="44.30" height="10.60" fill="#F1CE63" stroke="none" stroke-width="1"/>
<line x1="333.00" y1="369.50" x2="334.80" y2="369.50" stroke="#333" stroke-width="0.7"/>
<text x="334.80" y="373.50" font-size="11.3" text-anchor="start" fill="#1a1a1a" stroke="#1a1a1a" stroke-width="0.22">d1</text>
<rect x="283.70" y="347.50" width="49.30" height="29.70" fill="none" stroke="#555" stroke-width="0.9"/>
<text x="352.00" y="345.80" font-size="11.3" text-anchor="start" fill="#1a1a1a" stroke="#1a1a1a" stroke-width="0.22">NJ17043</text>
<rect x="351.30" y="349.40" width="14.60" height="6.90" fill="#FFBE7D" stroke="none" stroke-width="1"/>
<rect x="365.90" y="349.40" width="33.70" height="6.90" fill="#4E79A7" stroke="none" stroke-width="1"/>
<line x1="401.70" y1="352.85" x2="403.50" y2="352.85" stroke="#333" stroke-width="0.7"/>
<text x="403.60" y="356.85" font-size="11.3" text-anchor="start" fill="#1a1a1a" stroke="#1a1a1a" stroke-width="0.22">d5</text>
<rect x="351.30" y="358.10" width="1.00" height="6.90" fill="#C5B0D5" stroke="none" stroke-width="1"/>
<rect x="352.30" y="358.10" width="8.70" height="6.90" fill="#FFBE7D" stroke="none" stroke-width="1"/>
<rect x="361.00" y="358.10" width="38.60" height="6.90" fill="#4E79A7" stroke="none" stroke-width="1"/>
<line x1="401.70" y1="361.55" x2="403.50" y2="361.55" stroke="#333" stroke-width="0.7"/>
<text x="403.60" y="365.55" font-size="11.3" text-anchor="start" fill="#1a1a1a" stroke="#1a1a1a" stroke-width="0.22">d3</text>
<rect x="351.30" y="367.20" width="48.30" height="7.00" fill="#FFBE7D" stroke="none" stroke-width="1"/>
<line x1="401.70" y1="370.70" x2="403.50" y2="370.70" stroke="#333" stroke-width="0.7"/>
<text x="403.60" y="374.70" font-size="11.3" text-anchor="start" fill="#1a1a1a" stroke="#1a1a1a" stroke-width="0.22">d1</text>
<rect x="349.00" y="347.50" width="52.70" height="29.10" fill="none" stroke="#555" stroke-width="0.9"/>
<text x="284.40" y="395.30" font-size="11.3" text-anchor="start" fill="#1a1a1a" stroke="#1a1a1a" stroke-width="0.22">NJ17030</text>
<rect x="285.70" y="399.20" width="7.90" height="10.50" fill="#F28E2B" stroke="none" stroke-width="1"/>
<rect x="293.60" y="399.20" width="37.70" height="10.50" fill="#4E79A7" stroke="none" stroke-width="1"/>
<line x1="332.90" y1="404.45" x2="334.70" y2="404.45" stroke="#333" stroke-width="0.7"/>
<text x="335.20" y="408.45" font-size="11.3" text-anchor="start" fill="#1a1a1a" stroke="#1a1a1a" stroke-width="0.22">d5</text>
<rect x="285.70" y="412.80" width="4.20" height="10.60" fill="#777777" stroke="none" stroke-width="1"/>
<rect x="289.90" y="412.80" width="0.70" height="10.60" fill="#8CD17D" stroke="none" stroke-width="1"/>
<rect x="290.60" y="412.80" width="1.80" height="10.60" fill="#59A14F" stroke="none" stroke-width="1"/>
<rect x="292.40" y="412.80" width="1.20" height="10.60" fill="#8CD17D" stroke="none" stroke-width="1"/>
<rect x="293.60" y="412.80" width="4.40" height="10.60" fill="#FFBE7D" stroke="none" stroke-width="1"/>
<rect x="298.00" y="412.80" width="9.80" height="10.60" fill="#A0CBE8" stroke="none" stroke-width="1"/>
<rect x="307.80" y="412.80" width="23.50" height="10.60" fill="#4E79A7" stroke="none" stroke-width="1"/>
<line x1="332.90" y1="418.10" x2="334.70" y2="418.10" stroke="#333" stroke-width="0.7"/>
<text x="335.20" y="422.10" font-size="11.3" text-anchor="start" fill="#1a1a1a" stroke="#1a1a1a" stroke-width="0.22">d1</text>
<rect x="283.90" y="397.00" width="49.00" height="28.40" fill="none" stroke="#555" stroke-width="0.9"/>
<text x="352.00" y="395.60" font-size="11.3" text-anchor="start" fill="#1a1a1a" stroke="#1a1a1a" stroke-width="0.22">NJ17037</text>
<rect x="351.70" y="399.70" width="12.80" height="10.40" fill="#499894" stroke="none" stroke-width="1"/>
<rect x="364.50" y="399.70" width="9.10" height="10.40" fill="#FFBE7D" stroke="none" stroke-width="1"/>
<rect x="373.60" y="399.70" width="25.60" height="10.40" fill="#4E79A7" stroke="none" stroke-width="1"/>
<line x1="400.80" y1="404.90" x2="402.60" y2="404.90" stroke="#333" stroke-width="0.7"/>
<text x="403.20" y="408.90" font-size="11.3" text-anchor="start" fill="#1a1a1a" stroke="#1a1a1a" stroke-width="0.22">d5</text>
<rect x="351.70" y="413.20" width="9.80" height="10.20" fill="#777777" stroke="none" stroke-width="1"/>
<rect x="361.50" y="413.20" width="1.90" height="10.20" fill="#C5B0D5" stroke="none" stroke-width="1"/>
<rect x="363.40" y="413.20" width="4.90" height="10.20" fill="#8CD17D" stroke="none" stroke-width="1"/>
<rect x="368.30" y="413.20" width="30.90" height="10.20" fill="#FFBE7D" stroke="none" stroke-width="1"/>
<line x1="400.80" y1="418.30" x2="402.60" y2="418.30" stroke="#333" stroke-width="0.7"/>
<text x="403.20" y="422.30" font-size="11.3" text-anchor="start" fill="#1a1a1a" stroke="#1a1a1a" stroke-width="0.22">d1</text>
<rect x="349.30" y="397.30" width="51.50" height="28.50" fill="none" stroke="#555" stroke-width="0.9"/>
<text x="280.40" y="434.50" font-size="8.8" text-anchor="middle" fill="#1a1a1a" stroke="#1a1a1a" stroke-width="0.22">100</text>
<text x="295.50" y="434.50" font-size="8.8" text-anchor="middle" fill="#1a1a1a" stroke="#1a1a1a" stroke-width="0.22">75</text>
<text x="307.30" y="434.50" font-size="8.8" text-anchor="middle" fill="#1a1a1a" stroke="#1a1a1a" stroke-width="0.22">50</text>
<text x="319.60" y="434.50" font-size="8.8" text-anchor="middle" fill="#1a1a1a" stroke="#1a1a1a" stroke-width="0.22">25</text>
<text x="330.50" y="434.50" font-size="8.8" text-anchor="middle" fill="#1a1a1a" stroke="#1a1a1a" stroke-width="0.22">0</text>
<text x="346.40" y="434.50" font-size="8.8" text-anchor="middle" fill="#1a1a1a" stroke="#1a1a1a" stroke-width="0.22">100</text>
<text x="362.60" y="434.50" font-size="8.8" text-anchor="middle" fill="#1a1a1a" stroke="#1a1a1a" stroke-width="0.22">75</text>
<text x="374.30" y="434.50" font-size="8.8" text-anchor="middle" fill="#1a1a1a" stroke="#1a1a1a" stroke-width="0.22">50</text>
<text x="386.90" y="434.50" font-size="8.8" text-anchor="middle" fill="#1a1a1a" stroke="#1a1a1a" stroke-width="0.22">25</text>
<text x="399.90" y="434.50" font-size="8.8" text-anchor="middle" fill="#1a1a1a" stroke="#1a1a1a" stroke-width="0.22">0</text>
<text x="346.10" y="451.40" font-size="11.3" text-anchor="middle" fill="#1a1a1a" stroke="#1a1a1a" stroke-width="0.22">Relative abundance(%)</text>
<rect x="420.80" y="295.20" width="9.40" height="10.53" fill="#4E79A7" stroke="none" stroke-width="1"/>
<text x="432.00" y="302.04" font-size="10.0" text-anchor="start" fill="#1a1a1a" stroke="#1a1a1a" stroke-width="0.22">g_Acinetobacter</text>
<rect x="420.80" y="305.68" width="9.40" height="10.53" fill="#A0CBE8" stroke="none" stroke-width="1"/>
<text x="432.00" y="312.52" font-size="10.0" text-anchor="start" fill="#1a1a1a" stroke="#1a1a1a" stroke-width="0.22">g_Stenotrophomonas</text>
<rect x="420.80" y="316.16" width="9.40" height="10.53" fill="#F28E2B" stroke="none" stroke-width="1"/>
<text x="432.00" y="323.00" font-size="10.0" text-anchor="start" fill="#1a1a1a" stroke="#1a1a1a" stroke-width="0.22">g_Burkholderia</text>
<rect x="420.80" y="326.64" width="9.40" height="10.53" fill="#FFBE7D" stroke="none" stroke-width="1"/>
<text x="432.00" y="333.48" font-size="10.0" text-anchor="start" fill="#1a1a1a" stroke="#1a1a1a" stroke-width="0.22">f_Enterobacteriaceae</text>
<rect x="420.80" y="337.12" width="9.40" height="10.53" fill="#59A14F" stroke="none" stroke-width="1"/>
<text x="432.00" y="343.96" font-size="10.0" text-anchor="start" fill="#1a1a1a" stroke="#1a1a1a" stroke-width="0.22">g_Staphylococcus</text>
<rect x="420.80" y="347.60" width="9.40" height="10.53" fill="#8CD17D" stroke="none" stroke-width="1"/>
<text x="432.00" y="354.44" font-size="10.0" text-anchor="start" fill="#1a1a1a" stroke="#1a1a1a" stroke-width="0.22">g_Streptococcus</text>
<rect x="420.80" y="358.08" width="9.40" height="10.53" fill="#B6992D" stroke="none" stroke-width="1"/>
<text x="432.00" y="364.92" font-size="10.0" text-anchor="start" fill="#1a1a1a" stroke="#1a1a1a" stroke-width="0.22">g_Veillonella</text>
<rect x="420.80" y="368.56" width="9.40" height="10.53" fill="#C99A9B" stroke="none" stroke-width="1"/>
<text x="432.00" y="375.40" font-size="10.0" text-anchor="start" fill="#1a1a1a" stroke="#1a1a1a" stroke-width="0.22">g_Prevotella</text>
<rect x="420.80" y="379.04" width="9.40" height="10.53" fill="#F1CE63" stroke="none" stroke-width="1"/>
<text x="432.00" y="385.88" font-size="10.0" text-anchor="start" fill="#1a1a1a" stroke="#1a1a1a" stroke-width="0.22">g_Enterococcus</text>
<rect x="420.80" y="389.52" width="9.40" height="10.53" fill="#499894" stroke="none" stroke-width="1"/>
<text x="432.00" y="396.36" font-size="10.0" text-anchor="start" fill="#1a1a1a" stroke="#1a1a1a" stroke-width="0.22">g_Corynebacterium</text>
<rect x="420.80" y="400.00" width="9.40" height="10.53" fill="#86BCB6" stroke="none" stroke-width="1"/>
<text x="432.00" y="406.84" font-size="10.0" text-anchor="start" fill="#1a1a1a" stroke="#1a1a1a" stroke-width="0.22">f_Carnobacteriaceae</text>
<rect x="420.80" y="410.48" width="9.40" height="10.53" fill="#E15759" stroke="none" stroke-width="1"/>
<text x="432.00" y="417.32" font-size="10.0" text-anchor="start" fill="#1a1a1a" stroke="#1a1a1a" stroke-width="0.22">g_Granulicatella</text>
<rect x="420.80" y="420.96" width="9.40" height="10.53" fill="#C5B0D5" stroke="none" stroke-width="1"/>
<text x="432.00" y="427.80" font-size="10.0" text-anchor="start" fill="#1a1a1a" stroke="#1a1a1a" stroke-width="0.22">c_Gammaproteobacteria</text>
<rect x="420.80" y="431.44" width="9.40" height="10.53" fill="#777777" stroke="none" stroke-width="1"/>
<text x="432.00" y="438.28" font-size="10.0" text-anchor="start" fill="#1a1a1a" stroke="#1a1a1a" stroke-width="0.22">Others</text>
<path d="M573.20 287.40 C611.40 287.40 611.40 290.50 649.60 290.50 L649.60 313.80 C611.40 313.80 611.40 310.80 573.20 310.80 Z" fill="#9A9A9A" fill-opacity="0.5"/>
<path d="M573.20 310.80 C611.40 310.80 611.40 338.30 649.60 338.30 L649.60 349.90 C611.40 349.90 611.40 322.40 573.20 322.40 Z" fill="#9A9A9A" fill-opacity="0.5"/>
<path d="M573.20 322.40 C611.40 322.40 611.40 320.10 649.60 320.10 L649.60 331.70 C611.40 331.70 611.40 333.80 573.20 333.80 Z" fill="#9A9A9A" fill-opacity="0.5"/>
<path d="M573.20 340.30 C611.40 340.30 611.40 414.40 649.60 414.40 L649.60 426.20 C611.40 426.20 611.40 351.60 573.20 351.60 Z" fill="#9A9A9A" fill-opacity="0.5"/>
<path d="M573.20 358.20 C611.40 358.20 611.40 349.90 649.60 349.90 L649.60 385.40 C611.40 385.40 611.40 393.30 573.20 393.30 Z" fill="#9A9A9A" fill-opacity="0.5"/>
<path d="M573.20 400.10 C611.40 400.10 611.40 385.40 649.60 385.40 L649.60 396.40 C611.40 396.40 611.40 410.90 573.20 410.90 Z" fill="#9A9A9A" fill-opacity="0.5"/>
<path d="M573.20 417.40 C611.40 417.40 611.40 432.40 649.60 432.40 L649.60 444.00 C611.40 444.00 611.40 428.70 573.20 428.70 Z" fill="#9A9A9A" fill-opacity="0.5"/>
<path d="M573.20 435.40 C611.40 435.40 611.40 396.40 649.60 396.40 L649.60 407.80 C611.40 407.80 611.40 446.50 573.20 446.50 Z" fill="#9A9A9A" fill-opacity="0.5"/>
<rect x="564.80" y="287.40" width="8.40" height="46.40" fill="#EDBFB5" stroke="#7A6E6E" stroke-width="0.7" rx="0.6"/>
<rect x="564.80" y="340.30" width="8.40" height="11.30" fill="#E3A496" stroke="#7A6E6E" stroke-width="0.7" rx="0.6"/>
<rect x="564.80" y="358.20" width="8.40" height="35.10" fill="#F3D2CB" stroke="#7A6E6E" stroke-width="0.7" rx="0.6"/>
<rect x="564.80" y="400.10" width="8.40" height="10.80" fill="#8B0000" stroke="#7A6E6E" stroke-width="0.7" rx="0.6"/>
<rect x="564.80" y="417.40" width="8.40" height="11.30" fill="#FFFFFF" stroke="#7A6E6E" stroke-width="0.7" rx="0.6"/>
<rect x="564.80" y="435.40" width="8.40" height="11.10" fill="#F3D2CB" stroke="#7A6E6E" stroke-width="0.7" rx="0.6"/>
<rect x="649.60" y="290.50" width="8.80" height="23.30" fill="#EDBFB5" stroke="#7A6E6E" stroke-width="0.7" rx="0.6"/>
<rect x="649.60" y="320.10" width="8.80" height="11.60" fill="#F3D2CB" stroke="#7A6E6E" stroke-width="0.7" rx="0.6"/>
<rect x="649.60" y="338.30" width="8.80" height="69.50" fill="#8B0000" stroke="#7A6E6E" stroke-width="0.7" rx="0.6"/>
<rect x="649.60" y="414.40" width="8.80" height="11.80" fill="#FFFFFF" stroke="#7A6E6E" stroke-width="0.7" rx="0.6"/>
<rect x="649.60" y="432.40" width="8.80" height="11.60" fill="#F3D2CB" stroke="#7A6E6E" stroke-width="0.7" rx="0.6"/>
<text x="575.40" y="350.05" font-size="12.3" text-anchor="start" fill="#1a1a1a" stroke="#1a1a1a" stroke-width="0.22">9</text>
<text x="575.40" y="379.85" font-size="12.3" text-anchor="start" fill="#1a1a1a" stroke="#1a1a1a" stroke-width="0.22">8</text>
<text x="575.40" y="409.60" font-size="12.3" text-anchor="start" fill="#1a1a1a" stroke="#1a1a1a" stroke-width="0.22">5</text>
<text x="575.40" y="427.15" font-size="12.3" text-anchor="start" fill="#1a1a1a" stroke="#1a1a1a" stroke-width="0.22">4</text>
<text x="575.40" y="445.05" font-size="12.3" text-anchor="start" fill="#1a1a1a" stroke="#1a1a1a" stroke-width="0.22">2</text>
<text x="660.40" y="330.00" font-size="12.3" text-anchor="start" fill="#1a1a1a" stroke="#1a1a1a" stroke-width="0.22">8</text>
<text x="660.40" y="377.15" font-size="12.3" text-anchor="start" fill="#1a1a1a" stroke="#1a1a1a" stroke-width="0.22">5</text>
<text x="660.40" y="424.40" font-size="12.3" text-anchor="start" fill="#1a1a1a" stroke="#1a1a1a" stroke-width="0.22">4</text>
<text x="660.40" y="442.30" font-size="12.3" text-anchor="start" fill="#1a1a1a" stroke="#1a1a1a" stroke-width="0.22">2</text>
<text x="614.90" y="303.40" font-size="12.4" text-anchor="middle" fill="#1a1a1a" stroke="#1a1a1a" stroke-width="0.22">outliers</text>
<line x1="573.20" y1="302.60" x2="590.50" y2="298.60" stroke="#333" stroke-width="0.7"/>
<line x1="637.50" y1="298.60" x2="649.60" y2="302.00" stroke="#333" stroke-width="0.7"/>
<text x="613.00" y="281.00" font-size="12.6" text-anchor="middle" fill="#1a1a1a" stroke="#1a1a1a" stroke-width="0.22">Intubated patients</text>
<text x="569.00" y="458.70" font-size="11.8" text-anchor="middle" fill="#1a1a1a" stroke="#1a1a1a" stroke-width="0.22">d1</text>
<text x="653.90" y="458.70" font-size="11.8" text-anchor="middle" fill="#1a1a1a" stroke="#1a1a1a" stroke-width="0.22">d5</text>
<defs><linearGradient id="cbF" x1="0" x2="1" y1="0" y2="0"><stop offset="0" stop-color="#FFFFFF"/><stop offset="0.25" stop-color="#F0C8C0"/><stop offset="0.55" stop-color="#C9675A"/><stop offset="0.8" stop-color="#A52A22"/><stop offset="1" stop-color="#880000"/></linearGradient></defs>
<rect x="623.70" y="472.20" width="48.00" height="9.60" fill="url(#cbF)" stroke="none" stroke-width="1"/>
<text x="633.00" y="470.60" font-size="9.0" text-anchor="middle" fill="#222" stroke="#222" stroke-width="0.22">0.2</text>
<text x="648.20" y="470.60" font-size="9.0" text-anchor="middle" fill="#222" stroke="#222" stroke-width="0.22">0.4</text>
<text x="663.20" y="470.60" font-size="9.0" text-anchor="middle" fill="#222" stroke="#222" stroke-width="0.22">0.6</text>
<text x="579.50" y="479.60" font-size="10.0" text-anchor="middle" fill="#1a1a1a" stroke="#1a1a1a" stroke-width="0.22">Severe proportion</text>
<text x="541.70" y="274.40" font-size="16.8" text-anchor="start" fill="#1a1a1a" stroke="#1a1a1a" stroke-width="0.22">F</text>
<text x="3.50" y="510.40" font-size="16.8" text-anchor="start" fill="#1a1a1a" stroke="#1a1a1a" stroke-width="0.22">G</text>
<text x="32.40" y="526.00" font-size="14.0" text-anchor="start" fill="#1a1a1a" stroke="#1a1a1a" stroke-width="0.22">Severe</text>
<text x="32.10" y="688.30" font-size="14.0" text-anchor="start" fill="#1a1a1a" stroke="#1a1a1a" stroke-width="0.22">Non-severe</text>
<text x="114.30" y="528.60" font-size="13.9" text-anchor="start" fill="#1a1a1a" stroke="#1a1a1a" stroke-width="0.22">E = 47&#160;&#160;N = 35</text>
<text x="256.50" y="528.60" font-size="13.9" text-anchor="start" fill="#1a1a1a" stroke="#1a1a1a" stroke-width="0.22">E = 71&#160;&#160;N = 60</text>
<text x="423.30" y="528.60" font-size="13.9" text-anchor="start" fill="#1a1a1a" stroke="#1a1a1a" stroke-width="0.22">E = 40&#160;&#160;N = 32</text>
<text x="588.00" y="528.60" font-size="13.9" text-anchor="start" fill="#1a1a1a" stroke="#1a1a1a" stroke-width="0.22">E = 30&#160;&#160;N = 28</text>
<text x="114.00" y="690.30" font-size="13.9" text-anchor="start" fill="#1a1a1a" stroke="#1a1a1a" stroke-width="0.22">E = 103&#160;&#160;N = 61</text>
<text x="256.80" y="690.30" font-size="13.9" text-anchor="start" fill="#1a1a1a" stroke="#1a1a1a" stroke-width="0.22">E = 102&#160;&#160;N = 61</text>
<text x="423.80" y="690.30" font-size="13.9" text-anchor="start" fill="#1a1a1a" stroke="#1a1a1a" stroke-width="0.22">E = 99&#160;&#160;N = 52</text>
<text x="588.50" y="690.30" font-size="13.9" text-anchor="start" fill="#1a1a1a" stroke="#1a1a1a" stroke-width="0.22">E = 135&#160;&#160;N = 73</text>
<text x="140.50" y="661.50" font-size="13.8" text-anchor="middle" fill="#1a1a1a" stroke="#1a1a1a" stroke-width="0.22">d1</text>
<text x="288.40" y="659.80" font-size="13.8" text-anchor="middle" fill="#1a1a1a" stroke="#1a1a1a" stroke-width="0.22">d3</text>
<text x="462.60" y="663.00" font-size="13.8" text-anchor="middle" fill="#1a1a1a" stroke="#1a1a1a" stroke-width="0.22">d5</text>
<text x="615.20" y="664.60" font-size="13.8" text-anchor="middle" fill="#1a1a1a" stroke="#1a1a1a" stroke-width="0.22">d7</text>
<text x="140.50" y="819.80" font-size="13.8" text-anchor="middle" fill="#1a1a1a" stroke="#1a1a1a" stroke-width="0.22">d1</text>
<text x="288.40" y="819.40" font-size="13.8" text-anchor="middle" fill="#1a1a1a" stroke="#1a1a1a" stroke-width="0.22">d3</text>
<text x="462.90" y="819.40" font-size="13.8" text-anchor="middle" fill="#1a1a1a" stroke="#1a1a1a" stroke-width="0.22">d5</text>
<text x="615.80" y="819.40" font-size="13.8" text-anchor="middle" fill="#1a1a1a" stroke="#1a1a1a" stroke-width="0.22">d7</text>
<line x1="194.24" y1="544.89" x2="190.74" y2="554.53" stroke="#C8C8C8" stroke-width="0.55"/>
<line x1="194.41" y1="565.56" x2="196.34" y2="577.65" stroke="#C8C8C8" stroke-width="0.55"/>
<line x1="196.34" y1="577.65" x2="198.09" y2="590.09" stroke="#C8C8C8" stroke-width="0.55"/>
<line x1="188.63" y1="600.43" x2="172.34" y2="604.98" stroke="#C8C8C8" stroke-width="0.55"/>
<line x1="172.34" y1="604.98" x2="152.54" y2="603.06" stroke="#C8C8C8" stroke-width="0.55"/>
<line x1="172.34" y1="604.98" x2="168.14" y2="611.11" stroke="#C8C8C8" stroke-width="0.55"/>
<line x1="168.14" y1="611.11" x2="163.93" y2="619.35" stroke="#C8C8C8" stroke-width="0.55"/>
<line x1="163.93" y1="619.35" x2="154.47" y2="614.09" stroke="#C8C8C8" stroke-width="0.55"/>
<line x1="157.10" y1="586.94" x2="144.31" y2="585.19" stroke="#C8C8C8" stroke-width="0.55"/>
<line x1="157.10" y1="586.94" x2="151.32" y2="573.45" stroke="#C8C8C8" stroke-width="0.55"/>
<line x1="143.78" y1="573.45" x2="135.20" y2="577.30" stroke="#C8C8C8" stroke-width="0.55"/>
<line x1="135.20" y1="577.30" x2="118.03" y2="581.16" stroke="#C8C8C8" stroke-width="0.55"/>
<line x1="138.53" y1="601.30" x2="146.41" y2="616.37" stroke="#C8C8C8" stroke-width="0.55"/>
<line x1="101.74" y1="584.84" x2="110.85" y2="596.05" stroke="#C8C8C8" stroke-width="0.55"/>
<line x1="105.24" y1="603.23" x2="114.53" y2="611.81" stroke="#C8C8C8" stroke-width="0.55"/>
<line x1="114.53" y1="611.81" x2="132.92" y2="617.60" stroke="#C8C8C8" stroke-width="0.55"/>
<line x1="132.92" y1="617.60" x2="123.64" y2="631.26" stroke="#C8C8C8" stroke-width="0.55"/>
<line x1="128.54" y1="583.43" x2="132.05" y2="591.67" stroke="#C8C8C8" stroke-width="0.55"/>
<line x1="151.32" y1="591.67" x2="141.16" y2="592.54" stroke="#C8C8C8" stroke-width="0.55"/>
<line x1="151.32" y1="591.67" x2="152.54" y2="603.06" stroke="#C8C8C8" stroke-width="0.55"/>
<line x1="143.78" y1="573.45" x2="144.31" y2="585.19" stroke="#C8C8C8" stroke-width="0.55"/>
<line x1="138.53" y1="601.30" x2="141.16" y2="592.54" stroke="#C8C8C8" stroke-width="0.55"/>
<line x1="129.94" y1="609.71" x2="132.92" y2="617.60" stroke="#C8C8C8" stroke-width="0.55"/>
<line x1="110.85" y1="596.05" x2="105.24" y2="603.23" stroke="#C8C8C8" stroke-width="0.55"/>
<line x1="128.54" y1="583.43" x2="118.03" y2="581.16" stroke="#C8C8C8" stroke-width="0.55"/>
<line x1="151.32" y1="573.45" x2="143.78" y2="573.45" stroke="#C8C8C8" stroke-width="0.55"/>
<line x1="146.41" y1="616.37" x2="154.47" y2="614.09" stroke="#C8C8C8" stroke-width="0.55"/>
<line x1="190.74" y1="554.53" x2="194.41" y2="565.56" stroke="#3A3A3A" stroke-width="0.7"/>
<line x1="198.09" y1="590.09" x2="188.63" y2="600.43" stroke="#3A3A3A" stroke-width="0.7"/>
<line x1="163.93" y1="619.35" x2="146.41" y2="616.37" stroke="#3A3A3A" stroke-width="0.7"/>
<line x1="152.54" y1="603.06" x2="159.73" y2="610.24" stroke="#3A3A3A" stroke-width="0.7"/>
<line x1="152.54" y1="603.06" x2="154.47" y2="614.09" stroke="#3A3A3A" stroke-width="0.7"/>
<line x1="152.54" y1="603.06" x2="132.92" y2="617.60" stroke="#3A3A3A" stroke-width="0.7"/>
<line x1="152.54" y1="603.06" x2="157.10" y2="586.94" stroke="#3A3A3A" stroke-width="0.7"/>
<line x1="135.20" y1="577.30" x2="144.31" y2="585.19" stroke="#3A3A3A" stroke-width="0.7"/>
<line x1="129.07" y1="566.44" x2="135.20" y2="577.30" stroke="#3A3A3A" stroke-width="0.7"/>
<line x1="144.31" y1="585.19" x2="141.16" y2="592.54" stroke="#3A3A3A" stroke-width="0.7"/>
<line x1="141.16" y1="592.54" x2="132.05" y2="591.67" stroke="#3A3A3A" stroke-width="0.7"/>
<line x1="132.05" y1="591.67" x2="124.51" y2="592.19" stroke="#3A3A3A" stroke-width="0.7"/>
<line x1="124.51" y1="592.19" x2="118.03" y2="581.16" stroke="#3A3A3A" stroke-width="0.7"/>
<line x1="118.03" y1="581.16" x2="101.74" y2="584.84" stroke="#3A3A3A" stroke-width="0.7"/>
<line x1="124.51" y1="592.19" x2="110.85" y2="596.05" stroke="#3A3A3A" stroke-width="0.7"/>
<line x1="119.78" y1="599.55" x2="105.24" y2="603.23" stroke="#3A3A3A" stroke-width="0.7"/>
<line x1="119.78" y1="599.55" x2="124.51" y2="592.19" stroke="#3A3A3A" stroke-width="0.7"/>
<line x1="138.53" y1="601.30" x2="132.05" y2="591.67" stroke="#3A3A3A" stroke-width="0.7"/>
<line x1="123.64" y1="631.26" x2="117.15" y2="641.25" stroke="#3A3A3A" stroke-width="0.7"/>
<line x1="135.20" y1="577.30" x2="141.16" y2="592.54" stroke="#3A3A3A" stroke-width="0.7"/>
<circle cx="194.24" cy="544.89" r="2.73" fill="#E69F00"/>
<circle cx="190.74" cy="554.53" r="2.55" fill="#E69F00"/>
<circle cx="194.41" cy="565.56" r="2.55" fill="#E69F00"/>
<circle cx="196.34" cy="577.65" r="2.55" fill="#E69F00"/>
<circle cx="198.09" cy="590.09" r="2.55" fill="#E69F00"/>
<circle cx="188.63" cy="600.43" r="2.55" fill="#E69F00"/>
<circle cx="172.34" cy="604.98" r="2.55" fill="#E69F00"/>
<circle cx="168.14" cy="611.11" r="2.55" fill="#E69F00"/>
<circle cx="163.93" cy="619.35" r="3.10" fill="#E69F00"/>
<circle cx="159.73" cy="610.24" r="2.55" fill="#E69F00"/>
<circle cx="154.47" cy="614.09" r="2.55" fill="#E69F00"/>
<circle cx="146.41" cy="616.37" r="2.55" fill="#E69F00"/>
<circle cx="152.54" cy="603.06" r="2.55" fill="#E69F00"/>
<circle cx="157.10" cy="586.94" r="2.37" fill="#E69F00"/>
<circle cx="151.32" cy="591.67" r="2.55" fill="#E69F00"/>
<circle cx="151.32" cy="573.45" r="2.55" fill="#E69F00"/>
<circle cx="143.78" cy="573.45" r="2.55" fill="#E69F00"/>
<circle cx="144.31" cy="585.19" r="2.55" fill="#E69F00"/>
<circle cx="141.16" cy="592.54" r="3.10" fill="#E69F00"/>
<circle cx="138.53" cy="601.30" r="2.73" fill="#E69F00"/>
<circle cx="135.20" cy="577.30" r="2.37" fill="#E69F00"/>
<circle cx="132.05" cy="591.67" r="2.55" fill="#E69F00"/>
<circle cx="129.07" cy="566.44" r="2.91" fill="#E69F00"/>
<circle cx="128.54" cy="583.43" r="2.55" fill="#E69F00"/>
<circle cx="124.51" cy="592.19" r="2.55" fill="#E69F00"/>
<circle cx="118.03" cy="581.16" r="2.55" fill="#E69F00"/>
<circle cx="119.78" cy="599.55" r="2.55" fill="#E69F00"/>
<circle cx="110.85" cy="596.05" r="2.55" fill="#E69F00"/>
<circle cx="101.74" cy="584.84" r="2.73" fill="#E69F00"/>
<circle cx="105.24" cy="603.23" r="2.55" fill="#E69F00"/>
<circle cx="114.53" cy="611.81" r="2.55" fill="#E69F00"/>
<circle cx="129.94" cy="609.71" r="2.55" fill="#E69F00"/>
<circle cx="132.92" cy="617.60" r="2.73" fill="#E69F00"/>
<circle cx="123.64" cy="631.26" r="2.55" fill="#E69F00"/>
<circle cx="117.15" cy="641.25" r="3.10" fill="#E69F00"/>
<line x1="289.40" y1="545.50" x2="299.57" y2="546.55" stroke="#C8C8C8" stroke-width="0.55"/>
<line x1="269.43" y1="566.70" x2="263.65" y2="568.45" stroke="#C8C8C8" stroke-width="0.55"/>
<line x1="269.43" y1="566.70" x2="275.04" y2="572.30" stroke="#C8C8C8" stroke-width="0.55"/>
<line x1="263.65" y1="568.45" x2="256.12" y2="564.42" stroke="#C8C8C8" stroke-width="0.55"/>
<line x1="270.13" y1="581.06" x2="271.53" y2="590.35" stroke="#C8C8C8" stroke-width="0.55"/>
<line x1="271.53" y1="590.35" x2="263.65" y2="588.07" stroke="#C8C8C8" stroke-width="0.55"/>
<line x1="263.65" y1="588.07" x2="261.37" y2="593.33" stroke="#C8C8C8" stroke-width="0.55"/>
<line x1="267.15" y1="598.23" x2="266.28" y2="606.81" stroke="#C8C8C8" stroke-width="0.55"/>
<line x1="266.28" y1="606.81" x2="257.52" y2="609.44" stroke="#C8C8C8" stroke-width="0.55"/>
<line x1="267.68" y1="616.45" x2="270.66" y2="621.01" stroke="#C8C8C8" stroke-width="0.55"/>
<line x1="267.68" y1="616.45" x2="275.56" y2="612.60" stroke="#C8C8C8" stroke-width="0.55"/>
<line x1="299.57" y1="546.55" x2="308.33" y2="553.38" stroke="#C8C8C8" stroke-width="0.55"/>
<line x1="308.33" y1="553.38" x2="314.11" y2="563.19" stroke="#C8C8C8" stroke-width="0.55"/>
<line x1="314.11" y1="563.19" x2="308.85" y2="571.43" stroke="#C8C8C8" stroke-width="0.55"/>
<line x1="308.85" y1="571.43" x2="307.45" y2="577.03" stroke="#C8C8C8" stroke-width="0.55"/>
<line x1="301.32" y1="575.81" x2="303.07" y2="582.29" stroke="#C8C8C8" stroke-width="0.55"/>
<line x1="307.45" y1="577.03" x2="314.98" y2="581.41" stroke="#C8C8C8" stroke-width="0.55"/>
<line x1="320.94" y1="592.45" x2="314.11" y2="599.46" stroke="#C8C8C8" stroke-width="0.55"/>
<line x1="314.11" y1="599.46" x2="311.48" y2="595.95" stroke="#C8C8C8" stroke-width="0.55"/>
<line x1="307.45" y1="605.24" x2="303.07" y2="609.09" stroke="#C8C8C8" stroke-width="0.55"/>
<line x1="303.07" y1="609.09" x2="305.17" y2="614.70" stroke="#C8C8C8" stroke-width="0.55"/>
<line x1="305.17" y1="614.70" x2="311.30" y2="614.35" stroke="#C8C8C8" stroke-width="0.55"/>
<line x1="295.36" y1="609.09" x2="292.91" y2="604.19" stroke="#C8C8C8" stroke-width="0.55"/>
<line x1="296.06" y1="591.05" x2="293.43" y2="595.43" stroke="#C8C8C8" stroke-width="0.55"/>
<line x1="311.30" y1="614.35" x2="316.56" y2="608.22" stroke="#C8C8C8" stroke-width="0.55"/>
<line x1="316.56" y1="608.22" x2="323.57" y2="602.96" stroke="#C8C8C8" stroke-width="0.55"/>
<line x1="321.11" y1="555.31" x2="325.84" y2="548.65" stroke="#C8C8C8" stroke-width="0.55"/>
<line x1="323.57" y1="602.96" x2="331.63" y2="610.84" stroke="#C8C8C8" stroke-width="0.55"/>
<line x1="339.86" y1="612.25" x2="336.01" y2="620.48" stroke="#C8C8C8" stroke-width="0.55"/>
<line x1="336.01" y1="620.48" x2="338.98" y2="627.14" stroke="#C8C8C8" stroke-width="0.55"/>
<line x1="338.98" y1="627.14" x2="345.12" y2="625.74" stroke="#C8C8C8" stroke-width="0.55"/>
<line x1="345.12" y1="625.74" x2="351.25" y2="630.99" stroke="#C8C8C8" stroke-width="0.55"/>
<line x1="295.36" y1="609.09" x2="292.56" y2="621.88" stroke="#C8C8C8" stroke-width="0.55"/>
<line x1="292.56" y1="621.88" x2="290.81" y2="632.74" stroke="#C8C8C8" stroke-width="0.55"/>
<line x1="307.45" y1="577.03" x2="303.07" y2="582.29" stroke="#C8C8C8" stroke-width="0.55"/>
<line x1="307.45" y1="605.24" x2="311.30" y2="614.35" stroke="#C8C8C8" stroke-width="0.55"/>
<line x1="296.06" y1="591.05" x2="300.09" y2="600.68" stroke="#C8C8C8" stroke-width="0.55"/>
<line x1="303.07" y1="609.09" x2="311.30" y2="614.35" stroke="#C8C8C8" stroke-width="0.55"/>
<line x1="314.11" y1="599.46" x2="316.56" y2="608.22" stroke="#C8C8C8" stroke-width="0.55"/>
<line x1="300.97" y1="595.43" x2="307.45" y2="605.24" stroke="#C8C8C8" stroke-width="0.55"/>
<line x1="289.40" y1="545.50" x2="280.29" y2="550.93" stroke="#3A3A3A" stroke-width="0.7"/>
<line x1="280.29" y1="550.93" x2="275.91" y2="560.56" stroke="#3A3A3A" stroke-width="0.7"/>
<line x1="275.91" y1="560.56" x2="269.43" y2="566.70" stroke="#3A3A3A" stroke-width="0.7"/>
<line x1="275.04" y1="572.30" x2="270.13" y2="581.06" stroke="#3A3A3A" stroke-width="0.7"/>
<line x1="261.37" y1="593.33" x2="267.15" y2="598.23" stroke="#3A3A3A" stroke-width="0.7"/>
<line x1="266.28" y1="606.81" x2="267.68" y2="616.45" stroke="#3A3A3A" stroke-width="0.7"/>
<line x1="270.66" y1="621.01" x2="275.91" y2="622.76" stroke="#3A3A3A" stroke-width="0.7"/>
<line x1="270.66" y1="621.01" x2="269.43" y2="629.24" stroke="#3A3A3A" stroke-width="0.7"/>
<line x1="307.45" y1="577.03" x2="301.32" y2="575.81" stroke="#3A3A3A" stroke-width="0.7"/>
<line x1="301.32" y1="575.81" x2="295.71" y2="574.05" stroke="#3A3A3A" stroke-width="0.7"/>
<line x1="295.71" y1="574.05" x2="292.56" y2="567.05" stroke="#3A3A3A" stroke-width="0.7"/>
<line x1="314.98" y1="581.41" x2="324.09" y2="583.69" stroke="#3A3A3A" stroke-width="0.7"/>
<line x1="324.09" y1="583.69" x2="320.94" y2="592.45" stroke="#3A3A3A" stroke-width="0.7"/>
<line x1="324.09" y1="583.69" x2="333.38" y2="582.81" stroke="#3A3A3A" stroke-width="0.7"/>
<line x1="333.38" y1="582.81" x2="329.70" y2="574.40" stroke="#3A3A3A" stroke-width="0.7"/>
<line x1="329.70" y1="574.40" x2="324.97" y2="566.52" stroke="#3A3A3A" stroke-width="0.7"/>
<line x1="314.11" y1="599.46" x2="307.45" y2="605.24" stroke="#3A3A3A" stroke-width="0.7"/>
<line x1="305.17" y1="614.70" x2="306.22" y2="619.60" stroke="#3A3A3A" stroke-width="0.7"/>
<line x1="303.07" y1="609.09" x2="295.36" y2="609.09" stroke="#3A3A3A" stroke-width="0.7"/>
<line x1="292.91" y1="604.19" x2="300.09" y2="600.68" stroke="#3A3A3A" stroke-width="0.7"/>
<line x1="300.09" y1="600.68" x2="300.97" y2="595.43" stroke="#3A3A3A" stroke-width="0.7"/>
<line x1="300.97" y1="595.43" x2="296.06" y2="591.05" stroke="#3A3A3A" stroke-width="0.7"/>
<line x1="314.11" y1="563.19" x2="321.11" y2="555.31" stroke="#3A3A3A" stroke-width="0.7"/>
<line x1="331.63" y1="610.84" x2="339.86" y2="612.25" stroke="#3A3A3A" stroke-width="0.7"/>
<line x1="290.81" y1="632.74" x2="289.93" y2="640.63" stroke="#3A3A3A" stroke-width="0.7"/>
<line x1="271.53" y1="590.35" x2="267.15" y2="598.23" stroke="#3A3A3A" stroke-width="0.7"/>
<line x1="307.45" y1="605.24" x2="316.56" y2="608.22" stroke="#3A3A3A" stroke-width="0.7"/>
<line x1="300.09" y1="600.68" x2="295.36" y2="609.09" stroke="#3A3A3A" stroke-width="0.7"/>
<line x1="293.43" y1="595.43" x2="292.91" y2="604.19" stroke="#3A3A3A" stroke-width="0.7"/>
<line x1="275.56" y1="612.60" x2="270.66" y2="621.01" stroke="#3A3A3A" stroke-width="0.7"/>
<line x1="307.45" y1="605.24" x2="305.17" y2="614.70" stroke="#3A3A3A" stroke-width="0.7"/>
<circle cx="289.40" cy="545.50" r="2.55" fill="#E69F00"/>
<circle cx="299.57" cy="546.55" r="2.55" fill="#E69F00"/>
<circle cx="280.29" cy="550.93" r="2.55" fill="#E69F00"/>
<circle cx="308.33" cy="553.38" r="2.55" fill="#E69F00"/>
<circle cx="325.84" cy="548.65" r="2.55" fill="#E69F00"/>
<circle cx="321.11" cy="555.31" r="2.55" fill="#E69F00"/>
<circle cx="275.91" cy="560.56" r="2.55" fill="#E69F00"/>
<circle cx="314.11" cy="563.19" r="2.55" fill="#E69F00"/>
<circle cx="256.12" cy="564.42" r="2.55" fill="#E69F00"/>
<circle cx="263.65" cy="568.45" r="2.55" fill="#E69F00"/>
<circle cx="269.43" cy="566.70" r="2.55" fill="#E69F00"/>
<circle cx="275.04" cy="572.30" r="2.55" fill="#E69F00"/>
<circle cx="292.56" cy="567.05" r="2.55" fill="#E69F00"/>
<circle cx="308.85" cy="571.43" r="2.55" fill="#E69F00"/>
<circle cx="324.97" cy="566.52" r="2.55" fill="#E69F00"/>
<circle cx="329.70" cy="574.40" r="3.28" fill="#E69F00"/>
<circle cx="295.71" cy="574.05" r="2.55" fill="#E69F00"/>
<circle cx="301.32" cy="575.81" r="2.55" fill="#E69F00"/>
<circle cx="307.45" cy="577.03" r="2.55" fill="#E69F00"/>
<circle cx="303.07" cy="582.29" r="2.91" fill="#E69F00"/>
<circle cx="314.98" cy="581.41" r="2.55" fill="#E69F00"/>
<circle cx="324.09" cy="583.69" r="2.55" fill="#E69F00"/>
<circle cx="333.38" cy="582.81" r="2.55" fill="#E69F00"/>
<circle cx="270.13" cy="581.06" r="2.55" fill="#E69F00"/>
<circle cx="263.65" cy="588.07" r="2.55" fill="#E69F00"/>
<circle cx="271.53" cy="590.35" r="3.28" fill="#E69F00"/>
<circle cx="261.37" cy="593.33" r="2.55" fill="#E69F00"/>
<circle cx="320.94" cy="592.45" r="2.55" fill="#E69F00"/>
<circle cx="296.06" cy="591.05" r="2.55" fill="#E69F00"/>
<circle cx="293.43" cy="595.43" r="2.55" fill="#E69F00"/>
<circle cx="300.97" cy="595.43" r="2.55" fill="#E69F00"/>
<circle cx="311.48" cy="595.95" r="2.55" fill="#E69F00"/>
<circle cx="314.11" cy="599.46" r="2.55" fill="#E69F00"/>
<circle cx="267.15" cy="598.23" r="2.55" fill="#E69F00"/>
<circle cx="300.09" cy="600.68" r="2.55" fill="#E69F00"/>
<circle cx="323.57" cy="602.96" r="2.55" fill="#E69F00"/>
<circle cx="257.52" cy="609.44" r="3.64" fill="#E69F00"/>
<circle cx="266.28" cy="606.81" r="3.28" fill="#E69F00"/>
<circle cx="292.91" cy="604.19" r="2.55" fill="#E69F00"/>
<circle cx="307.45" cy="605.24" r="2.55" fill="#E69F00"/>
<circle cx="295.36" cy="609.09" r="2.55" fill="#E69F00"/>
<circle cx="303.07" cy="609.09" r="2.55" fill="#E69F00"/>
<circle cx="316.56" cy="608.22" r="2.55" fill="#E69F00"/>
<circle cx="331.63" cy="610.84" r="2.55" fill="#E69F00"/>
<circle cx="339.86" cy="612.25" r="2.55" fill="#E69F00"/>
<circle cx="275.56" cy="612.60" r="2.55" fill="#E69F00"/>
<circle cx="267.68" cy="616.45" r="2.55" fill="#E69F00"/>
<circle cx="305.17" cy="614.70" r="2.55" fill="#E69F00"/>
<circle cx="311.30" cy="614.35" r="2.55" fill="#E69F00"/>
<circle cx="306.22" cy="619.60" r="2.55" fill="#E69F00"/>
<circle cx="336.01" cy="620.48" r="2.55" fill="#E69F00"/>
<circle cx="270.66" cy="621.01" r="2.55" fill="#E69F00"/>
<circle cx="275.91" cy="622.76" r="2.55" fill="#E69F00"/>
<circle cx="292.56" cy="621.88" r="2.55" fill="#E69F00"/>
<circle cx="345.12" cy="625.74" r="2.55" fill="#E69F00"/>
<circle cx="338.98" cy="627.14" r="2.55" fill="#E69F00"/>
<circle cx="351.25" cy="630.99" r="2.55" fill="#E69F00"/>
<circle cx="269.43" cy="629.24" r="2.55" fill="#E69F00"/>
<circle cx="290.81" cy="632.74" r="2.55" fill="#E69F00"/>
<circle cx="289.93" cy="640.63" r="2.55" fill="#E69F00"/>
<line x1="473.31" y1="568.89" x2="465.60" y2="586.06" stroke="#C8C8C8" stroke-width="0.55"/>
<line x1="461.05" y1="574.67" x2="465.60" y2="586.06" stroke="#C8C8C8" stroke-width="0.55"/>
<line x1="479.09" y1="590.79" x2="469.46" y2="596.05" stroke="#C8C8C8" stroke-width="0.55"/>
<line x1="469.46" y1="596.05" x2="483.47" y2="596.22" stroke="#C8C8C8" stroke-width="0.55"/>
<line x1="479.09" y1="590.79" x2="483.47" y2="596.22" stroke="#C8C8C8" stroke-width="0.55"/>
<line x1="479.09" y1="590.79" x2="490.48" y2="589.92" stroke="#C8C8C8" stroke-width="0.55"/>
<line x1="490.48" y1="589.92" x2="505.72" y2="587.46" stroke="#C8C8C8" stroke-width="0.55"/>
<line x1="469.46" y1="605.68" x2="481.19" y2="608.31" stroke="#C8C8C8" stroke-width="0.55"/>
<line x1="469.46" y1="605.68" x2="475.59" y2="615.32" stroke="#C8C8C8" stroke-width="0.55"/>
<line x1="481.19" y1="608.31" x2="498.36" y2="616.37" stroke="#C8C8C8" stroke-width="0.55"/>
<line x1="490.48" y1="641.25" x2="473.84" y2="640.37" stroke="#C8C8C8" stroke-width="0.55"/>
<line x1="473.84" y1="640.37" x2="455.79" y2="640.02" stroke="#C8C8C8" stroke-width="0.55"/>
<line x1="473.84" y1="640.37" x2="476.11" y2="623.73" stroke="#C8C8C8" stroke-width="0.55"/>
<line x1="455.79" y1="640.02" x2="456.14" y2="625.48" stroke="#C8C8C8" stroke-width="0.55"/>
<line x1="454.92" y1="606.56" x2="440.55" y2="608.31" stroke="#C8C8C8" stroke-width="0.55"/>
<line x1="454.92" y1="606.56" x2="456.14" y2="625.48" stroke="#C8C8C8" stroke-width="0.55"/>
<line x1="446.33" y1="599.20" x2="434.59" y2="595.70" stroke="#C8C8C8" stroke-width="0.55"/>
<line x1="434.59" y1="595.70" x2="420.75" y2="582.03" stroke="#C8C8C8" stroke-width="0.55"/>
<line x1="434.59" y1="595.70" x2="422.15" y2="590.97" stroke="#C8C8C8" stroke-width="0.55"/>
<line x1="434.59" y1="595.70" x2="417.25" y2="603.58" stroke="#C8C8C8" stroke-width="0.55"/>
<line x1="475.59" y1="615.32" x2="476.11" y2="623.73" stroke="#C8C8C8" stroke-width="0.55"/>
<line x1="483.47" y1="596.22" x2="481.19" y2="608.31" stroke="#C8C8C8" stroke-width="0.55"/>
<line x1="440.55" y1="608.31" x2="441.95" y2="614.79" stroke="#C8C8C8" stroke-width="0.55"/>
<line x1="484.35" y1="544.89" x2="479.09" y2="555.05" stroke="#3A3A3A" stroke-width="0.7"/>
<line x1="479.09" y1="555.05" x2="473.31" y2="568.89" stroke="#3A3A3A" stroke-width="0.7"/>
<line x1="465.60" y1="586.06" x2="479.09" y2="590.79" stroke="#3A3A3A" stroke-width="0.7"/>
<line x1="465.60" y1="586.06" x2="469.46" y2="596.05" stroke="#3A3A3A" stroke-width="0.7"/>
<line x1="469.46" y1="596.05" x2="469.46" y2="605.68" stroke="#3A3A3A" stroke-width="0.7"/>
<line x1="469.46" y1="596.05" x2="481.19" y2="608.31" stroke="#3A3A3A" stroke-width="0.7"/>
<line x1="481.19" y1="608.31" x2="476.11" y2="623.73" stroke="#3A3A3A" stroke-width="0.7"/>
<line x1="481.19" y1="608.31" x2="493.11" y2="625.83" stroke="#3A3A3A" stroke-width="0.7"/>
<line x1="498.36" y1="616.37" x2="493.11" y2="625.83" stroke="#3A3A3A" stroke-width="0.7"/>
<line x1="493.11" y1="625.83" x2="490.48" y2="641.25" stroke="#3A3A3A" stroke-width="0.7"/>
<line x1="455.79" y1="640.02" x2="448.08" y2="626.36" stroke="#3A3A3A" stroke-width="0.7"/>
<line x1="448.08" y1="626.36" x2="449.84" y2="616.37" stroke="#3A3A3A" stroke-width="0.7"/>
<line x1="449.84" y1="616.37" x2="454.92" y2="606.56" stroke="#3A3A3A" stroke-width="0.7"/>
<line x1="454.92" y1="606.56" x2="446.33" y2="599.20" stroke="#3A3A3A" stroke-width="0.7"/>
<line x1="454.92" y1="606.56" x2="441.95" y2="614.79" stroke="#3A3A3A" stroke-width="0.7"/>
<line x1="420.75" y1="582.03" x2="409.37" y2="574.67" stroke="#3A3A3A" stroke-width="0.7"/>
<line x1="434.59" y1="595.70" x2="414.27" y2="596.57" stroke="#3A3A3A" stroke-width="0.7"/>
<circle cx="484.35" cy="544.89" r="2.55" fill="#E69F00"/>
<circle cx="479.09" cy="555.05" r="3.28" fill="#E69F00"/>
<circle cx="473.31" cy="568.89" r="2.55" fill="#E69F00"/>
<circle cx="461.05" cy="574.67" r="2.55" fill="#E69F00"/>
<circle cx="465.60" cy="586.06" r="3.28" fill="#E69F00"/>
<circle cx="479.09" cy="590.79" r="2.55" fill="#E69F00"/>
<circle cx="490.48" cy="589.92" r="2.55" fill="#E69F00"/>
<circle cx="505.72" cy="587.46" r="2.55" fill="#E69F00"/>
<circle cx="469.46" cy="596.05" r="3.28" fill="#E69F00"/>
<circle cx="483.47" cy="596.22" r="2.55" fill="#E69F00"/>
<circle cx="469.46" cy="605.68" r="2.55" fill="#E69F00"/>
<circle cx="481.19" cy="608.31" r="2.55" fill="#E69F00"/>
<circle cx="475.59" cy="615.32" r="2.55" fill="#E69F00"/>
<circle cx="498.36" cy="616.37" r="2.55" fill="#E69F00"/>
<circle cx="476.11" cy="623.73" r="2.55" fill="#E69F00"/>
<circle cx="493.11" cy="625.83" r="2.55" fill="#E69F00"/>
<circle cx="490.48" cy="641.25" r="2.55" fill="#E69F00"/>
<circle cx="473.84" cy="640.37" r="2.55" fill="#E69F00"/>
<circle cx="455.79" cy="640.02" r="2.55" fill="#E69F00"/>
<circle cx="456.14" cy="625.48" r="2.55" fill="#E69F00"/>
<circle cx="448.08" cy="626.36" r="2.55" fill="#E69F00"/>
<circle cx="449.84" cy="616.37" r="2.55" fill="#E69F00"/>
<circle cx="454.92" cy="606.56" r="2.55" fill="#E69F00"/>
<circle cx="446.33" cy="599.20" r="2.55" fill="#E69F00"/>
<circle cx="440.55" cy="608.31" r="2.55" fill="#E69F00"/>
<circle cx="441.95" cy="614.79" r="2.55" fill="#E69F00"/>
<circle cx="434.59" cy="595.70" r="2.55" fill="#E69F00"/>
<circle cx="420.75" cy="582.03" r="2.55" fill="#E69F00"/>
<circle cx="409.37" cy="574.67" r="2.55" fill="#E69F00"/>
<circle cx="422.15" cy="590.97" r="2.55" fill="#E69F00"/>
<circle cx="414.27" cy="596.57" r="2.55" fill="#E69F00"/>
<circle cx="417.25" cy="603.58" r="2.55" fill="#E69F00"/>
<line x1="624.11" y1="545.24" x2="621.48" y2="556.80" stroke="#C8C8C8" stroke-width="0.55"/>
<line x1="618.33" y1="570.82" x2="632.34" y2="577.65" stroke="#C8C8C8" stroke-width="0.55"/>
<line x1="632.34" y1="577.65" x2="619.38" y2="588.34" stroke="#C8C8C8" stroke-width="0.55"/>
<line x1="632.34" y1="577.65" x2="647.58" y2="571.52" stroke="#C8C8C8" stroke-width="0.55"/>
<line x1="599.58" y1="571.70" x2="605.19" y2="581.86" stroke="#C8C8C8" stroke-width="0.55"/>
<line x1="587.14" y1="580.81" x2="572.25" y2="583.96" stroke="#C8C8C8" stroke-width="0.55"/>
<line x1="572.25" y1="583.96" x2="563.67" y2="594.82" stroke="#C8C8C8" stroke-width="0.55"/>
<line x1="563.67" y1="594.82" x2="566.12" y2="607.96" stroke="#C8C8C8" stroke-width="0.55"/>
<line x1="576.63" y1="618.47" x2="566.99" y2="625.48" stroke="#C8C8C8" stroke-width="0.55"/>
<line x1="585.74" y1="630.39" x2="600.28" y2="633.36" stroke="#C8C8C8" stroke-width="0.55"/>
<line x1="615.87" y1="627.76" x2="631.46" y2="633.01" stroke="#C8C8C8" stroke-width="0.55"/>
<line x1="631.46" y1="633.01" x2="641.98" y2="641.07" stroke="#C8C8C8" stroke-width="0.55"/>
<line x1="615.87" y1="627.76" x2="624.46" y2="639.85" stroke="#C8C8C8" stroke-width="0.55"/>
<line x1="615.87" y1="627.76" x2="613.42" y2="639.85" stroke="#C8C8C8" stroke-width="0.55"/>
<line x1="619.38" y1="588.34" x2="611.49" y2="596.22" stroke="#C8C8C8" stroke-width="0.55"/>
<line x1="619.38" y1="603.06" x2="630.06" y2="600.43" stroke="#C8C8C8" stroke-width="0.55"/>
<line x1="630.06" y1="600.43" x2="637.25" y2="606.56" stroke="#C8C8C8" stroke-width="0.55"/>
<line x1="621.48" y1="556.80" x2="618.33" y2="570.82" stroke="#3A3A3A" stroke-width="0.7"/>
<line x1="618.33" y1="570.82" x2="605.19" y2="581.86" stroke="#3A3A3A" stroke-width="0.7"/>
<line x1="647.58" y1="571.52" x2="659.32" y2="566.97" stroke="#3A3A3A" stroke-width="0.7"/>
<line x1="605.19" y1="581.86" x2="587.14" y2="580.81" stroke="#3A3A3A" stroke-width="0.7"/>
<line x1="566.12" y1="607.96" x2="576.63" y2="618.47" stroke="#3A3A3A" stroke-width="0.7"/>
<line x1="576.63" y1="618.47" x2="585.74" y2="630.39" stroke="#3A3A3A" stroke-width="0.7"/>
<line x1="600.28" y1="633.36" x2="615.87" y2="627.76" stroke="#3A3A3A" stroke-width="0.7"/>
<line x1="605.19" y1="581.86" x2="619.38" y2="588.34" stroke="#3A3A3A" stroke-width="0.7"/>
<line x1="619.38" y1="588.34" x2="619.38" y2="603.06" stroke="#3A3A3A" stroke-width="0.7"/>
<line x1="611.49" y1="596.22" x2="619.38" y2="603.06" stroke="#3A3A3A" stroke-width="0.7"/>
<line x1="619.38" y1="603.06" x2="637.25" y2="606.56" stroke="#3A3A3A" stroke-width="0.7"/>
<line x1="637.25" y1="606.56" x2="650.74" y2="609.54" stroke="#3A3A3A" stroke-width="0.7"/>
<line x1="619.38" y1="603.06" x2="624.98" y2="611.46" stroke="#3A3A3A" stroke-width="0.7"/>
<circle cx="624.11" cy="545.24" r="2.55" fill="#E69F00"/>
<circle cx="621.48" cy="556.80" r="2.55" fill="#E69F00"/>
<circle cx="618.33" cy="570.82" r="2.55" fill="#E69F00"/>
<circle cx="599.58" cy="571.70" r="2.55" fill="#E69F00"/>
<circle cx="632.34" cy="577.65" r="2.55" fill="#E69F00"/>
<circle cx="647.58" cy="571.52" r="2.55" fill="#E69F00"/>
<circle cx="659.32" cy="566.97" r="2.55" fill="#E69F00"/>
<circle cx="605.19" cy="581.86" r="3.10" fill="#E69F00"/>
<circle cx="619.38" cy="588.34" r="3.10" fill="#E69F00"/>
<circle cx="587.14" cy="580.81" r="2.55" fill="#E69F00"/>
<circle cx="572.25" cy="583.96" r="2.55" fill="#E69F00"/>
<circle cx="563.67" cy="594.82" r="2.55" fill="#E69F00"/>
<circle cx="566.12" cy="607.96" r="3.28" fill="#E69F00"/>
<circle cx="576.63" cy="618.47" r="2.55" fill="#E69F00"/>
<circle cx="566.99" cy="625.48" r="2.55" fill="#E69F00"/>
<circle cx="585.74" cy="630.39" r="2.55" fill="#E69F00"/>
<circle cx="600.28" cy="633.36" r="2.55" fill="#E69F00"/>
<circle cx="615.87" cy="627.76" r="3.46" fill="#E69F00"/>
<circle cx="631.46" cy="633.01" r="2.55" fill="#E69F00"/>
<circle cx="641.98" cy="641.07" r="2.55" fill="#E69F00"/>
<circle cx="624.46" cy="639.85" r="3.10" fill="#E69F00"/>
<circle cx="613.42" cy="639.85" r="2.55" fill="#E69F00"/>
<circle cx="611.49" cy="596.22" r="2.55" fill="#E69F00"/>
<circle cx="619.38" cy="603.06" r="2.55" fill="#E69F00"/>
<circle cx="630.06" cy="600.43" r="2.55" fill="#E69F00"/>
<circle cx="637.25" cy="606.56" r="2.55" fill="#E69F00"/>
<circle cx="650.74" cy="609.54" r="2.55" fill="#E69F00"/>
<circle cx="624.98" cy="611.46" r="2.55" fill="#E69F00"/>
<line x1="139.97" y1="702.23" x2="147.19" y2="713.15" stroke="#C8C8C8" stroke-width="0.55"/>
<line x1="147.19" y1="713.15" x2="149.60" y2="717.96" stroke="#C8C8C8" stroke-width="0.55"/>
<line x1="146.07" y1="721.50" x2="143.18" y2="723.91" stroke="#C8C8C8" stroke-width="0.55"/>
<line x1="143.18" y1="723.91" x2="139.97" y2="725.51" stroke="#C8C8C8" stroke-width="0.55"/>
<line x1="139.97" y1="725.51" x2="137.56" y2="727.92" stroke="#C8C8C8" stroke-width="0.55"/>
<line x1="139.97" y1="725.51" x2="135.95" y2="722.30" stroke="#C8C8C8" stroke-width="0.55"/>
<line x1="135.95" y1="722.30" x2="132.26" y2="721.50" stroke="#C8C8C8" stroke-width="0.55"/>
<line x1="132.26" y1="721.50" x2="130.65" y2="716.68" stroke="#C8C8C8" stroke-width="0.55"/>
<line x1="137.56" y1="727.92" x2="132.26" y2="729.53" stroke="#C8C8C8" stroke-width="0.55"/>
<line x1="142.86" y1="730.01" x2="148.48" y2="731.94" stroke="#C8C8C8" stroke-width="0.55"/>
<line x1="130.65" y1="716.68" x2="124.71" y2="719.09" stroke="#C8C8C8" stroke-width="0.55"/>
<line x1="147.19" y1="713.15" x2="141.09" y2="715.88" stroke="#C8C8C8" stroke-width="0.55"/>
<line x1="148.48" y1="731.94" x2="146.07" y2="739.16" stroke="#C8C8C8" stroke-width="0.55"/>
<line x1="146.07" y1="739.16" x2="151.21" y2="739.97" stroke="#C8C8C8" stroke-width="0.55"/>
<line x1="146.07" y1="739.16" x2="140.45" y2="742.70" stroke="#C8C8C8" stroke-width="0.55"/>
<line x1="140.45" y1="742.70" x2="133.54" y2="744.46" stroke="#C8C8C8" stroke-width="0.55"/>
<line x1="132.26" y1="729.53" x2="128.40" y2="736.27" stroke="#C8C8C8" stroke-width="0.55"/>
<line x1="128.40" y1="736.27" x2="120.69" y2="735.15" stroke="#C8C8C8" stroke-width="0.55"/>
<line x1="156.51" y1="740.29" x2="163.73" y2="737.07" stroke="#C8C8C8" stroke-width="0.55"/>
<line x1="151.21" y1="739.97" x2="150.40" y2="749.12" stroke="#C8C8C8" stroke-width="0.55"/>
<line x1="150.40" y1="749.12" x2="143.66" y2="753.13" stroke="#C8C8C8" stroke-width="0.55"/>
<line x1="163.73" y1="737.07" x2="171.76" y2="732.26" stroke="#C8C8C8" stroke-width="0.55"/>
<line x1="171.76" y1="732.26" x2="180.43" y2="733.86" stroke="#C8C8C8" stroke-width="0.55"/>
<line x1="163.73" y1="737.07" x2="162.45" y2="726.80" stroke="#C8C8C8" stroke-width="0.55"/>
<line x1="162.45" y1="726.80" x2="170.80" y2="719.89" stroke="#C8C8C8" stroke-width="0.55"/>
<line x1="170.80" y1="719.89" x2="169.35" y2="711.38" stroke="#C8C8C8" stroke-width="0.55"/>
<line x1="169.35" y1="711.38" x2="173.21" y2="706.56" stroke="#C8C8C8" stroke-width="0.55"/>
<line x1="169.35" y1="711.38" x2="162.93" y2="712.34" stroke="#C8C8C8" stroke-width="0.55"/>
<line x1="120.21" y1="761.16" x2="124.23" y2="765.98" stroke="#C8C8C8" stroke-width="0.55"/>
<line x1="124.23" y1="765.98" x2="130.65" y2="766.78" stroke="#C8C8C8" stroke-width="0.55"/>
<line x1="130.65" y1="766.78" x2="131.13" y2="775.30" stroke="#C8C8C8" stroke-width="0.55"/>
<line x1="120.21" y1="761.16" x2="111.06" y2="760.84" stroke="#C8C8C8" stroke-width="0.55"/>
<line x1="131.13" y1="775.30" x2="142.70" y2="782.52" stroke="#C8C8C8" stroke-width="0.55"/>
<line x1="150.89" y1="790.55" x2="156.51" y2="797.30" stroke="#C8C8C8" stroke-width="0.55"/>
<line x1="150.89" y1="790.55" x2="143.98" y2="796.49" stroke="#C8C8C8" stroke-width="0.55"/>
<line x1="143.98" y1="796.49" x2="135.63" y2="795.37" stroke="#C8C8C8" stroke-width="0.55"/>
<line x1="135.63" y1="795.37" x2="127.92" y2="797.46" stroke="#C8C8C8" stroke-width="0.55"/>
<line x1="121.02" y1="794.89" x2="113.15" y2="795.37" stroke="#C8C8C8" stroke-width="0.55"/>
<line x1="109.45" y1="790.23" x2="101.42" y2="786.22" stroke="#C8C8C8" stroke-width="0.55"/>
<line x1="171.28" y1="787.82" x2="172.89" y2="780.11" stroke="#C8C8C8" stroke-width="0.55"/>
<line x1="172.89" y1="780.11" x2="167.27" y2="776.10" stroke="#C8C8C8" stroke-width="0.55"/>
<line x1="172.89" y1="780.11" x2="178.19" y2="768.39" stroke="#C8C8C8" stroke-width="0.55"/>
<line x1="189.27" y1="776.58" x2="196.65" y2="780.11" stroke="#C8C8C8" stroke-width="0.55"/>
<line x1="186.22" y1="768.87" x2="194.57" y2="763.25" stroke="#C8C8C8" stroke-width="0.55"/>
<line x1="137.56" y1="727.92" x2="142.86" y2="730.01" stroke="#C8C8C8" stroke-width="0.55"/>
<line x1="143.18" y1="723.91" x2="148.00" y2="725.51" stroke="#C8C8C8" stroke-width="0.55"/>
<line x1="132.26" y1="721.50" x2="132.26" y2="729.53" stroke="#C8C8C8" stroke-width="0.55"/>
<line x1="135.95" y1="722.30" x2="132.26" y2="729.53" stroke="#C8C8C8" stroke-width="0.55"/>
<line x1="132.26" y1="721.50" x2="127.60" y2="726.80" stroke="#C8C8C8" stroke-width="0.55"/>
<line x1="148.00" y1="725.51" x2="148.48" y2="731.94" stroke="#C8C8C8" stroke-width="0.55"/>
<line x1="132.26" y1="729.53" x2="137.56" y2="733.54" stroke="#C8C8C8" stroke-width="0.55"/>
<line x1="135.95" y1="722.30" x2="143.18" y2="723.91" stroke="#C8C8C8" stroke-width="0.55"/>
<line x1="135.95" y1="722.30" x2="137.56" y2="727.92" stroke="#C8C8C8" stroke-width="0.55"/>
<line x1="143.18" y1="723.91" x2="137.56" y2="727.92" stroke="#C8C8C8" stroke-width="0.55"/>
<line x1="141.09" y1="715.88" x2="135.95" y2="722.30" stroke="#C8C8C8" stroke-width="0.55"/>
<line x1="147.19" y1="713.15" x2="146.07" y2="721.50" stroke="#C8C8C8" stroke-width="0.55"/>
<line x1="135.95" y1="722.30" x2="127.60" y2="726.80" stroke="#C8C8C8" stroke-width="0.55"/>
<line x1="127.60" y1="726.80" x2="137.56" y2="727.92" stroke="#C8C8C8" stroke-width="0.55"/>
<line x1="146.07" y1="721.50" x2="137.56" y2="727.92" stroke="#C8C8C8" stroke-width="0.55"/>
<line x1="169.35" y1="711.38" x2="177.38" y2="711.54" stroke="#C8C8C8" stroke-width="0.55"/>
<line x1="146.07" y1="721.50" x2="148.48" y2="731.94" stroke="#C8C8C8" stroke-width="0.55"/>
<line x1="149.60" y1="717.96" x2="148.00" y2="725.51" stroke="#C8C8C8" stroke-width="0.55"/>
<line x1="130.65" y1="716.68" x2="135.95" y2="722.30" stroke="#C8C8C8" stroke-width="0.55"/>
<line x1="127.60" y1="726.80" x2="120.69" y2="735.15" stroke="#C8C8C8" stroke-width="0.55"/>
<line x1="143.18" y1="723.91" x2="142.86" y2="730.01" stroke="#C8C8C8" stroke-width="0.55"/>
<line x1="139.97" y1="725.51" x2="148.48" y2="731.94" stroke="#C8C8C8" stroke-width="0.55"/>
<line x1="149.60" y1="717.96" x2="139.97" y2="725.51" stroke="#C8C8C8" stroke-width="0.55"/>
<line x1="142.86" y1="730.01" x2="137.56" y2="733.54" stroke="#C8C8C8" stroke-width="0.55"/>
<line x1="141.09" y1="715.88" x2="130.65" y2="716.68" stroke="#C8C8C8" stroke-width="0.55"/>
<line x1="139.97" y1="725.51" x2="137.56" y2="733.54" stroke="#C8C8C8" stroke-width="0.55"/>
<line x1="143.98" y1="796.49" x2="156.51" y2="797.30" stroke="#C8C8C8" stroke-width="0.55"/>
<line x1="173.21" y1="706.56" x2="162.93" y2="712.34" stroke="#C8C8C8" stroke-width="0.55"/>
<line x1="149.60" y1="717.96" x2="143.18" y2="723.91" stroke="#C8C8C8" stroke-width="0.55"/>
<line x1="142.86" y1="730.01" x2="146.07" y2="739.16" stroke="#C8C8C8" stroke-width="0.55"/>
<line x1="149.60" y1="717.96" x2="146.07" y2="721.50" stroke="#3A3A3A" stroke-width="0.7"/>
<line x1="146.07" y1="721.50" x2="148.00" y2="725.51" stroke="#3A3A3A" stroke-width="0.7"/>
<line x1="139.97" y1="725.51" x2="142.86" y2="730.01" stroke="#3A3A3A" stroke-width="0.7"/>
<line x1="132.26" y1="729.53" x2="127.60" y2="726.80" stroke="#3A3A3A" stroke-width="0.7"/>
<line x1="137.56" y1="727.92" x2="137.56" y2="733.54" stroke="#3A3A3A" stroke-width="0.7"/>
<line x1="151.21" y1="739.97" x2="156.51" y2="740.29" stroke="#3A3A3A" stroke-width="0.7"/>
<line x1="120.69" y1="735.15" x2="121.02" y2="743.98" stroke="#3A3A3A" stroke-width="0.7"/>
<line x1="173.21" y1="706.56" x2="177.38" y2="711.54" stroke="#3A3A3A" stroke-width="0.7"/>
<line x1="142.70" y1="782.52" x2="149.60" y2="783.33" stroke="#3A3A3A" stroke-width="0.7"/>
<line x1="149.60" y1="783.33" x2="150.89" y2="790.55" stroke="#3A3A3A" stroke-width="0.7"/>
<line x1="127.92" y1="797.46" x2="121.02" y2="794.89" stroke="#3A3A3A" stroke-width="0.7"/>
<line x1="113.15" y1="795.37" x2="109.45" y2="790.23" stroke="#3A3A3A" stroke-width="0.7"/>
<line x1="156.51" y1="797.30" x2="171.28" y2="787.82" stroke="#3A3A3A" stroke-width="0.7"/>
<line x1="148.00" y1="725.51" x2="142.86" y2="730.01" stroke="#3A3A3A" stroke-width="0.7"/>
<line x1="143.18" y1="723.91" x2="148.48" y2="731.94" stroke="#3A3A3A" stroke-width="0.7"/>
<line x1="141.09" y1="715.88" x2="146.07" y2="721.50" stroke="#3A3A3A" stroke-width="0.7"/>
<line x1="128.40" y1="736.27" x2="133.54" y2="744.46" stroke="#3A3A3A" stroke-width="0.7"/>
<line x1="141.09" y1="715.88" x2="143.18" y2="723.91" stroke="#3A3A3A" stroke-width="0.7"/>
<line x1="156.51" y1="740.29" x2="166.46" y2="761.32" stroke="#3A3A3A" stroke-width="0.7"/>
<line x1="166.46" y1="761.32" x2="178.19" y2="768.39" stroke="#3A3A3A" stroke-width="0.7"/>
<line x1="178.19" y1="768.39" x2="186.22" y2="768.87" stroke="#3A3A3A" stroke-width="0.7"/>
<line x1="186.22" y1="768.87" x2="189.27" y2="776.58" stroke="#3A3A3A" stroke-width="0.7"/>
<line x1="172.89" y1="780.11" x2="150.89" y2="790.55" stroke="#3A3A3A" stroke-width="0.7"/>
<line x1="120.21" y1="761.16" x2="121.02" y2="743.98" stroke="#3A3A3A" stroke-width="0.7"/>
<line x1="139.97" y1="702.23" x2="141.09" y2="715.88" stroke="#3A3A3A" stroke-width="0.7"/>
<circle cx="139.97" cy="702.23" r="2.50" fill="#56B4E9"/>
<circle cx="173.21" cy="706.56" r="3.10" fill="#56B4E9"/>
<circle cx="169.35" cy="711.38" r="2.50" fill="#56B4E9"/>
<circle cx="177.38" cy="711.54" r="2.50" fill="#56B4E9"/>
<circle cx="162.93" cy="712.34" r="2.50" fill="#56B4E9"/>
<circle cx="147.19" cy="713.15" r="3.10" fill="#56B4E9"/>
<circle cx="141.09" cy="715.88" r="2.50" fill="#56B4E9"/>
<circle cx="130.65" cy="716.68" r="2.50" fill="#56B4E9"/>
<circle cx="149.60" cy="717.96" r="2.50" fill="#56B4E9"/>
<circle cx="124.71" cy="719.09" r="2.50" fill="#56B4E9"/>
<circle cx="170.80" cy="719.89" r="2.50" fill="#56B4E9"/>
<circle cx="132.26" cy="721.50" r="2.50" fill="#56B4E9"/>
<circle cx="135.95" cy="722.30" r="2.50" fill="#56B4E9"/>
<circle cx="146.07" cy="721.50" r="2.50" fill="#56B4E9"/>
<circle cx="143.18" cy="723.91" r="2.50" fill="#56B4E9"/>
<circle cx="148.00" cy="725.51" r="2.50" fill="#56B4E9"/>
<circle cx="127.60" cy="726.80" r="2.50" fill="#56B4E9"/>
<circle cx="162.45" cy="726.80" r="2.50" fill="#56B4E9"/>
<circle cx="139.97" cy="725.51" r="2.50" fill="#56B4E9"/>
<circle cx="137.56" cy="727.92" r="2.50" fill="#56B4E9"/>
<circle cx="132.26" cy="729.53" r="2.50" fill="#56B4E9"/>
<circle cx="142.86" cy="730.01" r="2.50" fill="#56B4E9"/>
<circle cx="148.48" cy="731.94" r="2.50" fill="#56B4E9"/>
<circle cx="171.76" cy="732.26" r="2.50" fill="#56B4E9"/>
<circle cx="180.43" cy="733.86" r="2.50" fill="#56B4E9"/>
<circle cx="137.56" cy="733.54" r="2.50" fill="#56B4E9"/>
<circle cx="120.69" cy="735.15" r="2.50" fill="#56B4E9"/>
<circle cx="128.40" cy="736.27" r="2.50" fill="#56B4E9"/>
<circle cx="163.73" cy="737.07" r="3.10" fill="#56B4E9"/>
<circle cx="146.07" cy="739.16" r="2.50" fill="#56B4E9"/>
<circle cx="151.21" cy="739.97" r="2.50" fill="#56B4E9"/>
<circle cx="156.51" cy="740.29" r="2.50" fill="#56B4E9"/>
<circle cx="140.45" cy="742.70" r="2.50" fill="#56B4E9"/>
<circle cx="121.02" cy="743.98" r="3.10" fill="#56B4E9"/>
<circle cx="133.54" cy="744.46" r="2.50" fill="#56B4E9"/>
<circle cx="150.40" cy="749.12" r="2.50" fill="#56B4E9"/>
<circle cx="143.66" cy="753.13" r="2.50" fill="#56B4E9"/>
<circle cx="111.06" cy="760.84" r="3.60" fill="#56B4E9"/>
<circle cx="120.21" cy="761.16" r="2.50" fill="#56B4E9"/>
<circle cx="166.46" cy="761.32" r="2.50" fill="#56B4E9"/>
<circle cx="124.23" cy="765.98" r="2.50" fill="#56B4E9"/>
<circle cx="130.65" cy="766.78" r="2.50" fill="#56B4E9"/>
<circle cx="194.57" cy="763.25" r="2.50" fill="#56B4E9"/>
<circle cx="178.19" cy="768.39" r="2.50" fill="#56B4E9"/>
<circle cx="186.22" cy="768.87" r="2.50" fill="#56B4E9"/>
<circle cx="131.13" cy="775.30" r="2.50" fill="#56B4E9"/>
<circle cx="167.27" cy="776.10" r="2.50" fill="#56B4E9"/>
<circle cx="189.27" cy="776.58" r="2.50" fill="#56B4E9"/>
<circle cx="172.89" cy="780.11" r="2.50" fill="#56B4E9"/>
<circle cx="196.65" cy="780.11" r="2.50" fill="#56B4E9"/>
<circle cx="142.70" cy="782.52" r="2.50" fill="#56B4E9"/>
<circle cx="149.60" cy="783.33" r="2.50" fill="#56B4E9"/>
<circle cx="171.28" cy="787.82" r="2.50" fill="#56B4E9"/>
<circle cx="101.42" cy="786.22" r="2.50" fill="#56B4E9"/>
<circle cx="109.45" cy="790.23" r="2.50" fill="#56B4E9"/>
<circle cx="150.89" cy="790.55" r="2.50" fill="#56B4E9"/>
<circle cx="113.15" cy="795.37" r="2.50" fill="#56B4E9"/>
<circle cx="121.02" cy="794.89" r="2.50" fill="#56B4E9"/>
<circle cx="135.63" cy="795.37" r="2.50" fill="#56B4E9"/>
<circle cx="143.98" cy="796.49" r="3.10" fill="#56B4E9"/>
<circle cx="127.92" cy="797.46" r="2.50" fill="#56B4E9"/>
<circle cx="156.51" cy="797.30" r="2.50" fill="#56B4E9"/>
<line x1="262.52" y1="715.40" x2="258.14" y2="722.06" stroke="#C8C8C8" stroke-width="0.55"/>
<line x1="258.14" y1="722.06" x2="263.40" y2="730.64" stroke="#C8C8C8" stroke-width="0.55"/>
<line x1="263.40" y1="730.64" x2="255.51" y2="735.02" stroke="#C8C8C8" stroke-width="0.55"/>
<line x1="263.40" y1="730.64" x2="272.51" y2="725.39" stroke="#C8C8C8" stroke-width="0.55"/>
<line x1="279.51" y1="731.70" x2="286.17" y2="739.05" stroke="#C8C8C8" stroke-width="0.55"/>
<line x1="272.51" y1="725.39" x2="281.26" y2="718.03" stroke="#C8C8C8" stroke-width="0.55"/>
<line x1="281.26" y1="718.03" x2="279.16" y2="705.24" stroke="#C8C8C8" stroke-width="0.55"/>
<line x1="279.16" y1="705.24" x2="290.55" y2="707.87" stroke="#C8C8C8" stroke-width="0.55"/>
<line x1="290.55" y1="707.87" x2="297.03" y2="703.49" stroke="#C8C8C8" stroke-width="0.55"/>
<line x1="297.03" y1="703.49" x2="306.32" y2="704.54" stroke="#C8C8C8" stroke-width="0.55"/>
<line x1="286.17" y1="739.05" x2="288.80" y2="752.19" stroke="#C8C8C8" stroke-width="0.55"/>
<line x1="288.80" y1="752.19" x2="300.19" y2="746.94" stroke="#C8C8C8" stroke-width="0.55"/>
<line x1="300.19" y1="746.94" x2="307.19" y2="751.32" stroke="#C8C8C8" stroke-width="0.55"/>
<line x1="307.19" y1="751.32" x2="313.85" y2="747.29" stroke="#C8C8C8" stroke-width="0.55"/>
<line x1="313.85" y1="747.29" x2="320.68" y2="746.06" stroke="#C8C8C8" stroke-width="0.55"/>
<line x1="320.68" y1="746.06" x2="326.81" y2="746.06" stroke="#C8C8C8" stroke-width="0.55"/>
<line x1="326.81" y1="746.06" x2="324.71" y2="740.28" stroke="#C8C8C8" stroke-width="0.55"/>
<line x1="324.71" y1="740.28" x2="322.08" y2="736.95" stroke="#C8C8C8" stroke-width="0.55"/>
<line x1="322.08" y1="736.95" x2="317.70" y2="739.93" stroke="#C8C8C8" stroke-width="0.55"/>
<line x1="317.70" y1="739.93" x2="313.85" y2="735.20" stroke="#C8C8C8" stroke-width="0.55"/>
<line x1="313.85" y1="735.20" x2="311.22" y2="740.81" stroke="#C8C8C8" stroke-width="0.55"/>
<line x1="311.22" y1="740.81" x2="307.19" y2="735.55" stroke="#C8C8C8" stroke-width="0.55"/>
<line x1="326.81" y1="746.06" x2="332.25" y2="742.21" stroke="#C8C8C8" stroke-width="0.55"/>
<line x1="332.25" y1="742.21" x2="331.72" y2="735.90" stroke="#C8C8C8" stroke-width="0.55"/>
<line x1="322.08" y1="736.95" x2="319.46" y2="730.82" stroke="#C8C8C8" stroke-width="0.55"/>
<line x1="331.72" y1="735.90" x2="327.69" y2="730.29" stroke="#C8C8C8" stroke-width="0.55"/>
<line x1="331.72" y1="735.90" x2="338.38" y2="733.80" stroke="#C8C8C8" stroke-width="0.55"/>
<line x1="307.19" y1="735.55" x2="298.96" y2="732.92" stroke="#C8C8C8" stroke-width="0.55"/>
<line x1="326.81" y1="746.06" x2="332.07" y2="753.95" stroke="#C8C8C8" stroke-width="0.55"/>
<line x1="332.07" y1="753.95" x2="327.87" y2="760.95" stroke="#C8C8C8" stroke-width="0.55"/>
<line x1="327.87" y1="760.95" x2="334.00" y2="762.35" stroke="#C8C8C8" stroke-width="0.55"/>
<line x1="334.00" y1="762.35" x2="340.48" y2="762.18" stroke="#C8C8C8" stroke-width="0.55"/>
<line x1="340.48" y1="762.18" x2="340.48" y2="768.84" stroke="#C8C8C8" stroke-width="0.55"/>
<line x1="340.48" y1="762.18" x2="346.09" y2="757.10" stroke="#C8C8C8" stroke-width="0.55"/>
<line x1="340.48" y1="768.84" x2="335.22" y2="776.37" stroke="#C8C8C8" stroke-width="0.55"/>
<line x1="335.22" y1="776.37" x2="341.88" y2="779.35" stroke="#C8C8C8" stroke-width="0.55"/>
<line x1="341.88" y1="779.35" x2="342.58" y2="786.88" stroke="#C8C8C8" stroke-width="0.55"/>
<line x1="342.58" y1="786.88" x2="335.22" y2="788.11" stroke="#C8C8C8" stroke-width="0.55"/>
<line x1="340.48" y1="768.84" x2="350.99" y2="768.14" stroke="#C8C8C8" stroke-width="0.55"/>
<line x1="338.38" y1="733.80" x2="339.95" y2="723.29" stroke="#C8C8C8" stroke-width="0.55"/>
<line x1="339.95" y1="723.29" x2="347.49" y2="722.76" stroke="#C8C8C8" stroke-width="0.55"/>
<line x1="339.95" y1="723.29" x2="332.25" y2="714.53" stroke="#C8C8C8" stroke-width="0.55"/>
<line x1="322.96" y1="789.33" x2="316.30" y2="789.33" stroke="#C8C8C8" stroke-width="0.55"/>
<line x1="316.30" y1="789.33" x2="316.48" y2="797.74" stroke="#C8C8C8" stroke-width="0.55"/>
<line x1="307.54" y1="792.84" x2="299.66" y2="791.61" stroke="#C8C8C8" stroke-width="0.55"/>
<line x1="299.66" y1="791.61" x2="300.19" y2="779.35" stroke="#C8C8C8" stroke-width="0.55"/>
<line x1="323.49" y1="768.49" x2="310.70" y2="765.33" stroke="#C8C8C8" stroke-width="0.55"/>
<line x1="288.80" y1="752.19" x2="296.68" y2="763.23" stroke="#C8C8C8" stroke-width="0.55"/>
<line x1="299.66" y1="791.61" x2="285.64" y2="791.09" stroke="#C8C8C8" stroke-width="0.55"/>
<line x1="285.64" y1="791.09" x2="275.66" y2="789.51" stroke="#C8C8C8" stroke-width="0.55"/>
<line x1="317.70" y1="739.93" x2="320.68" y2="746.06" stroke="#C8C8C8" stroke-width="0.55"/>
<line x1="314.55" y1="728.19" x2="313.85" y2="735.20" stroke="#C8C8C8" stroke-width="0.55"/>
<line x1="319.46" y1="730.82" x2="313.85" y2="735.20" stroke="#C8C8C8" stroke-width="0.55"/>
<line x1="311.22" y1="740.81" x2="313.85" y2="747.29" stroke="#C8C8C8" stroke-width="0.55"/>
<line x1="317.70" y1="739.93" x2="324.71" y2="740.28" stroke="#C8C8C8" stroke-width="0.55"/>
<line x1="324.71" y1="740.28" x2="320.68" y2="746.06" stroke="#C8C8C8" stroke-width="0.55"/>
<line x1="311.22" y1="740.81" x2="317.70" y2="739.93" stroke="#C8C8C8" stroke-width="0.55"/>
<line x1="322.08" y1="736.95" x2="326.81" y2="746.06" stroke="#C8C8C8" stroke-width="0.55"/>
<line x1="331.72" y1="735.90" x2="324.71" y2="740.28" stroke="#C8C8C8" stroke-width="0.55"/>
<line x1="313.85" y1="735.20" x2="322.08" y2="736.95" stroke="#C8C8C8" stroke-width="0.55"/>
<line x1="327.69" y1="730.29" x2="322.08" y2="736.95" stroke="#C8C8C8" stroke-width="0.55"/>
<line x1="334.00" y1="762.35" x2="340.48" y2="768.84" stroke="#C8C8C8" stroke-width="0.55"/>
<line x1="317.70" y1="739.93" x2="313.85" y2="747.29" stroke="#C8C8C8" stroke-width="0.55"/>
<line x1="308.42" y1="725.39" x2="319.46" y2="730.82" stroke="#C8C8C8" stroke-width="0.55"/>
<line x1="341.88" y1="779.35" x2="335.22" y2="788.11" stroke="#C8C8C8" stroke-width="0.55"/>
<line x1="346.09" y1="757.10" x2="340.48" y2="768.84" stroke="#C8C8C8" stroke-width="0.55"/>
<line x1="311.22" y1="740.81" x2="307.19" y2="751.32" stroke="#C8C8C8" stroke-width="0.55"/>
<line x1="258.14" y1="722.06" x2="255.51" y2="735.02" stroke="#C8C8C8" stroke-width="0.55"/>
<line x1="324.71" y1="740.28" x2="332.25" y2="742.21" stroke="#C8C8C8" stroke-width="0.55"/>
<line x1="327.69" y1="730.29" x2="338.38" y2="733.80" stroke="#C8C8C8" stroke-width="0.55"/>
<line x1="306.32" y1="704.54" x2="315.43" y2="711.37" stroke="#C8C8C8" stroke-width="0.55"/>
<line x1="296.68" y1="763.23" x2="310.70" y2="765.33" stroke="#C8C8C8" stroke-width="0.55"/>
<line x1="322.08" y1="736.95" x2="331.72" y2="735.90" stroke="#C8C8C8" stroke-width="0.55"/>
<line x1="322.08" y1="736.95" x2="320.68" y2="746.06" stroke="#C8C8C8" stroke-width="0.55"/>
<line x1="258.14" y1="722.06" x2="272.51" y2="725.39" stroke="#C8C8C8" stroke-width="0.55"/>
<line x1="298.96" y1="732.92" x2="286.17" y2="739.05" stroke="#C8C8C8" stroke-width="0.55"/>
<line x1="331.72" y1="735.90" x2="320.68" y2="746.06" stroke="#C8C8C8" stroke-width="0.55"/>
<line x1="259.02" y1="706.12" x2="262.52" y2="715.40" stroke="#3A3A3A" stroke-width="0.7"/>
<line x1="272.51" y1="725.39" x2="279.51" y2="731.70" stroke="#3A3A3A" stroke-width="0.7"/>
<line x1="319.46" y1="730.82" x2="314.55" y2="728.19" stroke="#3A3A3A" stroke-width="0.7"/>
<line x1="314.55" y1="728.19" x2="308.42" y2="725.39" stroke="#3A3A3A" stroke-width="0.7"/>
<line x1="327.87" y1="760.95" x2="323.49" y2="768.49" stroke="#3A3A3A" stroke-width="0.7"/>
<line x1="335.22" y1="788.11" x2="322.96" y2="789.33" stroke="#3A3A3A" stroke-width="0.7"/>
<line x1="316.30" y1="789.33" x2="307.54" y2="792.84" stroke="#3A3A3A" stroke-width="0.7"/>
<line x1="307.19" y1="735.55" x2="313.85" y2="735.20" stroke="#3A3A3A" stroke-width="0.7"/>
<line x1="319.46" y1="730.82" x2="317.70" y2="739.93" stroke="#3A3A3A" stroke-width="0.7"/>
<line x1="317.70" y1="739.93" x2="326.81" y2="746.06" stroke="#3A3A3A" stroke-width="0.7"/>
<line x1="307.19" y1="735.55" x2="300.19" y2="746.94" stroke="#3A3A3A" stroke-width="0.7"/>
<line x1="346.09" y1="757.10" x2="334.00" y2="762.35" stroke="#3A3A3A" stroke-width="0.7"/>
<line x1="334.00" y1="762.35" x2="323.49" y2="768.49" stroke="#3A3A3A" stroke-width="0.7"/>
<line x1="263.40" y1="730.64" x2="279.51" y2="731.70" stroke="#3A3A3A" stroke-width="0.7"/>
<line x1="279.51" y1="731.70" x2="298.96" y2="732.92" stroke="#3A3A3A" stroke-width="0.7"/>
<line x1="262.52" y1="715.40" x2="272.51" y2="725.39" stroke="#3A3A3A" stroke-width="0.7"/>
<line x1="332.25" y1="714.53" x2="347.49" y2="722.76" stroke="#3A3A3A" stroke-width="0.7"/>
<line x1="306.32" y1="704.54" x2="313.33" y2="702.26" stroke="#3A3A3A" stroke-width="0.7"/>
<line x1="313.33" y1="702.26" x2="315.43" y2="711.37" stroke="#3A3A3A" stroke-width="0.7"/>
<line x1="322.96" y1="789.33" x2="335.22" y2="776.37" stroke="#3A3A3A" stroke-width="0.7"/>
<line x1="307.54" y1="792.84" x2="316.48" y2="797.74" stroke="#3A3A3A" stroke-width="0.7"/>
<line x1="327.87" y1="760.95" x2="310.70" y2="765.33" stroke="#3A3A3A" stroke-width="0.7"/>
<line x1="281.26" y1="718.03" x2="286.17" y2="739.05" stroke="#3A3A3A" stroke-width="0.7"/>
<circle cx="259.02" cy="706.12" r="2.50" fill="#56B4E9"/>
<circle cx="279.16" cy="705.24" r="2.50" fill="#56B4E9"/>
<circle cx="297.03" cy="703.49" r="2.50" fill="#56B4E9"/>
<circle cx="290.55" cy="707.87" r="2.50" fill="#56B4E9"/>
<circle cx="306.32" cy="704.54" r="2.50" fill="#56B4E9"/>
<circle cx="313.33" cy="702.26" r="2.50" fill="#56B4E9"/>
<circle cx="315.43" cy="711.37" r="2.50" fill="#56B4E9"/>
<circle cx="332.25" cy="714.53" r="2.50" fill="#56B4E9"/>
<circle cx="347.49" cy="722.76" r="2.50" fill="#56B4E9"/>
<circle cx="339.95" cy="723.29" r="2.50" fill="#56B4E9"/>
<circle cx="262.52" cy="715.40" r="3.10" fill="#56B4E9"/>
<circle cx="281.26" cy="718.03" r="2.50" fill="#56B4E9"/>
<circle cx="258.14" cy="722.06" r="2.50" fill="#56B4E9"/>
<circle cx="272.51" cy="725.39" r="2.50" fill="#56B4E9"/>
<circle cx="308.42" cy="725.39" r="2.50" fill="#56B4E9"/>
<circle cx="314.55" cy="728.19" r="2.50" fill="#56B4E9"/>
<circle cx="319.46" cy="730.82" r="2.50" fill="#56B4E9"/>
<circle cx="327.69" cy="730.29" r="3.10" fill="#56B4E9"/>
<circle cx="338.38" cy="733.80" r="2.50" fill="#56B4E9"/>
<circle cx="263.40" cy="730.64" r="2.50" fill="#56B4E9"/>
<circle cx="279.51" cy="731.70" r="2.50" fill="#56B4E9"/>
<circle cx="255.51" cy="735.02" r="3.10" fill="#56B4E9"/>
<circle cx="298.96" cy="732.92" r="2.50" fill="#56B4E9"/>
<circle cx="307.19" cy="735.55" r="2.50" fill="#56B4E9"/>
<circle cx="313.85" cy="735.20" r="2.50" fill="#56B4E9"/>
<circle cx="322.08" cy="736.95" r="2.50" fill="#56B4E9"/>
<circle cx="331.72" cy="735.90" r="2.50" fill="#56B4E9"/>
<circle cx="311.22" cy="740.81" r="2.50" fill="#56B4E9"/>
<circle cx="317.70" cy="739.93" r="2.50" fill="#56B4E9"/>
<circle cx="324.71" cy="740.28" r="2.50" fill="#56B4E9"/>
<circle cx="332.25" cy="742.21" r="2.50" fill="#56B4E9"/>
<circle cx="320.68" cy="746.06" r="2.50" fill="#56B4E9"/>
<circle cx="326.81" cy="746.06" r="2.50" fill="#56B4E9"/>
<circle cx="313.85" cy="747.29" r="3.10" fill="#56B4E9"/>
<circle cx="286.17" cy="739.05" r="2.50" fill="#56B4E9"/>
<circle cx="300.19" cy="746.94" r="2.50" fill="#56B4E9"/>
<circle cx="288.80" cy="752.19" r="3.60" fill="#56B4E9"/>
<circle cx="307.19" cy="751.32" r="2.50" fill="#56B4E9"/>
<circle cx="332.07" cy="753.95" r="2.50" fill="#56B4E9"/>
<circle cx="346.09" cy="757.10" r="2.50" fill="#56B4E9"/>
<circle cx="327.87" cy="760.95" r="2.50" fill="#56B4E9"/>
<circle cx="334.00" cy="762.35" r="2.50" fill="#56B4E9"/>
<circle cx="340.48" cy="762.18" r="2.50" fill="#56B4E9"/>
<circle cx="296.68" cy="763.23" r="2.50" fill="#56B4E9"/>
<circle cx="310.70" cy="765.33" r="2.50" fill="#56B4E9"/>
<circle cx="323.49" cy="768.49" r="2.50" fill="#56B4E9"/>
<circle cx="340.48" cy="768.84" r="2.50" fill="#56B4E9"/>
<circle cx="350.99" cy="768.14" r="2.50" fill="#56B4E9"/>
<circle cx="335.22" cy="776.37" r="2.50" fill="#56B4E9"/>
<circle cx="341.88" cy="779.35" r="2.50" fill="#56B4E9"/>
<circle cx="300.19" cy="779.35" r="2.50" fill="#56B4E9"/>
<circle cx="275.66" cy="789.51" r="2.50" fill="#56B4E9"/>
<circle cx="285.64" cy="791.09" r="2.50" fill="#56B4E9"/>
<circle cx="299.66" cy="791.61" r="2.50" fill="#56B4E9"/>
<circle cx="307.54" cy="792.84" r="2.50" fill="#56B4E9"/>
<circle cx="316.30" cy="789.33" r="2.50" fill="#56B4E9"/>
<circle cx="322.96" cy="789.33" r="2.50" fill="#56B4E9"/>
<circle cx="335.22" cy="788.11" r="2.50" fill="#56B4E9"/>
<circle cx="342.58" cy="786.88" r="2.50" fill="#56B4E9"/>
<circle cx="316.48" cy="797.74" r="2.50" fill="#56B4E9"/>
<line x1="446.68" y1="702.26" x2="442.65" y2="706.99" stroke="#C8C8C8" stroke-width="0.55"/>
<line x1="442.65" y1="706.99" x2="438.45" y2="710.50" stroke="#C8C8C8" stroke-width="0.55"/>
<line x1="438.45" y1="710.50" x2="434.42" y2="714.53" stroke="#C8C8C8" stroke-width="0.55"/>
<line x1="442.65" y1="706.99" x2="447.56" y2="711.02" stroke="#C8C8C8" stroke-width="0.55"/>
<line x1="447.56" y1="711.02" x2="447.21" y2="715.40" stroke="#C8C8C8" stroke-width="0.55"/>
<line x1="447.56" y1="711.02" x2="453.69" y2="712.78" stroke="#C8C8C8" stroke-width="0.55"/>
<line x1="453.69" y1="712.78" x2="453.34" y2="717.68" stroke="#C8C8C8" stroke-width="0.55"/>
<line x1="453.69" y1="712.78" x2="456.32" y2="708.40" stroke="#C8C8C8" stroke-width="0.55"/>
<line x1="453.34" y1="717.68" x2="459.47" y2="716.28" stroke="#C8C8C8" stroke-width="0.55"/>
<line x1="453.34" y1="717.68" x2="450.19" y2="723.29" stroke="#C8C8C8" stroke-width="0.55"/>
<line x1="447.21" y1="715.40" x2="440.90" y2="717.15" stroke="#C8C8C8" stroke-width="0.55"/>
<line x1="440.90" y1="717.15" x2="443.18" y2="721.53" stroke="#C8C8C8" stroke-width="0.55"/>
<line x1="434.42" y1="714.53" x2="427.94" y2="718.91" stroke="#C8C8C8" stroke-width="0.55"/>
<line x1="459.47" y1="716.28" x2="467.70" y2="714.53" stroke="#C8C8C8" stroke-width="0.55"/>
<line x1="467.70" y1="714.53" x2="469.81" y2="707.87" stroke="#C8C8C8" stroke-width="0.55"/>
<line x1="469.81" y1="707.87" x2="464.20" y2="704.89" stroke="#C8C8C8" stroke-width="0.55"/>
<line x1="443.18" y1="721.53" x2="436.17" y2="727.14" stroke="#C8C8C8" stroke-width="0.55"/>
<line x1="436.17" y1="727.14" x2="429.51" y2="736.95" stroke="#C8C8C8" stroke-width="0.55"/>
<line x1="429.51" y1="736.95" x2="433.54" y2="743.08" stroke="#C8C8C8" stroke-width="0.55"/>
<line x1="419.53" y1="737.65" x2="420.40" y2="746.41" stroke="#C8C8C8" stroke-width="0.55"/>
<line x1="420.40" y1="746.41" x2="410.24" y2="747.46" stroke="#C8C8C8" stroke-width="0.55"/>
<line x1="450.19" y1="723.29" x2="446.68" y2="735.20" stroke="#C8C8C8" stroke-width="0.55"/>
<line x1="446.68" y1="735.20" x2="453.16" y2="746.59" stroke="#C8C8C8" stroke-width="0.55"/>
<line x1="460.70" y1="739.58" x2="467.35" y2="732.40" stroke="#C8C8C8" stroke-width="0.55"/>
<line x1="445.28" y1="756.92" x2="437.05" y2="763.93" stroke="#C8C8C8" stroke-width="0.55"/>
<line x1="445.28" y1="756.92" x2="457.54" y2="762.35" stroke="#C8C8C8" stroke-width="0.55"/>
<line x1="457.54" y1="762.35" x2="465.60" y2="760.60" stroke="#C8C8C8" stroke-width="0.55"/>
<line x1="465.60" y1="760.60" x2="464.73" y2="753.95" stroke="#C8C8C8" stroke-width="0.55"/>
<line x1="457.54" y1="762.35" x2="458.42" y2="770.59" stroke="#C8C8C8" stroke-width="0.55"/>
<line x1="464.73" y1="753.95" x2="475.94" y2="749.04" stroke="#C8C8C8" stroke-width="0.55"/>
<line x1="475.94" y1="749.04" x2="480.84" y2="753.95" stroke="#C8C8C8" stroke-width="0.55"/>
<line x1="475.94" y1="749.04" x2="480.84" y2="741.68" stroke="#C8C8C8" stroke-width="0.55"/>
<line x1="485.22" y1="776.72" x2="493.11" y2="784.60" stroke="#C8C8C8" stroke-width="0.55"/>
<line x1="499.77" y1="791.26" x2="504.50" y2="797.74" stroke="#C8C8C8" stroke-width="0.55"/>
<line x1="503.62" y1="740.28" x2="495.74" y2="747.81" stroke="#C8C8C8" stroke-width="0.55"/>
<line x1="495.74" y1="747.81" x2="493.46" y2="759.73" stroke="#C8C8C8" stroke-width="0.55"/>
<line x1="467.70" y1="714.53" x2="478.57" y2="722.94" stroke="#C8C8C8" stroke-width="0.55"/>
<line x1="478.57" y1="722.94" x2="485.75" y2="719.78" stroke="#C8C8C8" stroke-width="0.55"/>
<line x1="485.75" y1="719.78" x2="499.24" y2="722.06" stroke="#C8C8C8" stroke-width="0.55"/>
<line x1="499.24" y1="722.06" x2="500.12" y2="711.90" stroke="#C8C8C8" stroke-width="0.55"/>
<line x1="427.94" y1="718.91" x2="415.15" y2="709.62" stroke="#C8C8C8" stroke-width="0.55"/>
<line x1="453.69" y1="712.78" x2="447.21" y2="715.40" stroke="#C8C8C8" stroke-width="0.55"/>
<line x1="447.21" y1="715.40" x2="453.34" y2="717.68" stroke="#C8C8C8" stroke-width="0.55"/>
<line x1="453.69" y1="712.78" x2="459.47" y2="716.28" stroke="#C8C8C8" stroke-width="0.55"/>
<line x1="447.56" y1="711.02" x2="440.90" y2="717.15" stroke="#C8C8C8" stroke-width="0.55"/>
<line x1="446.68" y1="702.26" x2="447.56" y2="711.02" stroke="#C8C8C8" stroke-width="0.55"/>
<line x1="442.65" y1="706.99" x2="447.21" y2="715.40" stroke="#C8C8C8" stroke-width="0.55"/>
<line x1="447.21" y1="715.40" x2="450.19" y2="723.29" stroke="#C8C8C8" stroke-width="0.55"/>
<line x1="438.45" y1="710.50" x2="447.56" y2="711.02" stroke="#C8C8C8" stroke-width="0.55"/>
<line x1="456.32" y1="708.40" x2="447.56" y2="711.02" stroke="#C8C8C8" stroke-width="0.55"/>
<line x1="442.65" y1="706.99" x2="434.42" y2="714.53" stroke="#C8C8C8" stroke-width="0.55"/>
<line x1="447.56" y1="711.02" x2="453.34" y2="717.68" stroke="#C8C8C8" stroke-width="0.55"/>
<line x1="464.20" y1="704.89" x2="456.32" y2="708.40" stroke="#C8C8C8" stroke-width="0.55"/>
<line x1="427.94" y1="718.91" x2="436.17" y2="727.14" stroke="#C8C8C8" stroke-width="0.55"/>
<line x1="442.65" y1="706.99" x2="453.69" y2="712.78" stroke="#C8C8C8" stroke-width="0.55"/>
<line x1="469.81" y1="707.87" x2="456.32" y2="708.40" stroke="#C8C8C8" stroke-width="0.55"/>
<line x1="446.68" y1="702.26" x2="456.32" y2="708.40" stroke="#C8C8C8" stroke-width="0.55"/>
<line x1="434.42" y1="714.53" x2="447.21" y2="715.40" stroke="#C8C8C8" stroke-width="0.55"/>
<line x1="480.84" y1="741.68" x2="480.84" y2="753.95" stroke="#C8C8C8" stroke-width="0.55"/>
<line x1="480.84" y1="753.95" x2="476.99" y2="766.21" stroke="#C8C8C8" stroke-width="0.55"/>
<line x1="453.69" y1="712.78" x2="450.19" y2="723.29" stroke="#C8C8C8" stroke-width="0.55"/>
<line x1="456.32" y1="708.40" x2="459.47" y2="716.28" stroke="#C8C8C8" stroke-width="0.55"/>
<line x1="456.32" y1="708.40" x2="467.70" y2="714.53" stroke="#C8C8C8" stroke-width="0.55"/>
<line x1="446.68" y1="702.26" x2="453.69" y2="712.78" stroke="#C8C8C8" stroke-width="0.55"/>
<line x1="453.16" y1="746.59" x2="460.70" y2="739.58" stroke="#3A3A3A" stroke-width="0.7"/>
<line x1="453.16" y1="746.59" x2="445.28" y2="756.92" stroke="#3A3A3A" stroke-width="0.7"/>
<line x1="491.36" y1="734.15" x2="503.62" y2="740.28" stroke="#3A3A3A" stroke-width="0.7"/>
<line x1="437.05" y1="763.93" x2="444.05" y2="777.07" stroke="#3A3A3A" stroke-width="0.7"/>
<line x1="434.42" y1="714.53" x2="440.90" y2="717.15" stroke="#3A3A3A" stroke-width="0.7"/>
<line x1="443.18" y1="721.53" x2="450.19" y2="723.29" stroke="#3A3A3A" stroke-width="0.7"/>
<line x1="438.45" y1="710.50" x2="440.90" y2="717.15" stroke="#3A3A3A" stroke-width="0.7"/>
<line x1="434.42" y1="714.53" x2="443.18" y2="721.53" stroke="#3A3A3A" stroke-width="0.7"/>
<line x1="464.20" y1="704.89" x2="459.47" y2="716.28" stroke="#3A3A3A" stroke-width="0.7"/>
<line x1="447.21" y1="715.40" x2="443.18" y2="721.53" stroke="#3A3A3A" stroke-width="0.7"/>
<line x1="464.73" y1="753.95" x2="457.54" y2="762.35" stroke="#3A3A3A" stroke-width="0.7"/>
<line x1="464.20" y1="704.89" x2="467.70" y2="714.53" stroke="#3A3A3A" stroke-width="0.7"/>
<line x1="438.45" y1="710.50" x2="443.18" y2="721.53" stroke="#3A3A3A" stroke-width="0.7"/>
<line x1="453.34" y1="717.68" x2="453.16" y2="746.59" stroke="#3A3A3A" stroke-width="0.7"/>
<line x1="453.16" y1="746.59" x2="464.73" y2="753.95" stroke="#3A3A3A" stroke-width="0.7"/>
<line x1="465.60" y1="760.60" x2="476.99" y2="766.21" stroke="#3A3A3A" stroke-width="0.7"/>
<line x1="476.99" y1="766.21" x2="485.22" y2="776.72" stroke="#3A3A3A" stroke-width="0.7"/>
<line x1="437.05" y1="763.93" x2="457.54" y2="762.35" stroke="#3A3A3A" stroke-width="0.7"/>
<line x1="444.05" y1="777.07" x2="458.42" y2="770.59" stroke="#3A3A3A" stroke-width="0.7"/>
<line x1="409.37" y1="735.20" x2="419.53" y2="737.65" stroke="#3A3A3A" stroke-width="0.7"/>
<line x1="419.53" y1="737.65" x2="429.51" y2="736.95" stroke="#3A3A3A" stroke-width="0.7"/>
<line x1="429.51" y1="736.95" x2="446.68" y2="735.20" stroke="#3A3A3A" stroke-width="0.7"/>
<line x1="420.40" y1="746.41" x2="433.54" y2="743.08" stroke="#3A3A3A" stroke-width="0.7"/>
<line x1="433.54" y1="743.08" x2="446.68" y2="735.20" stroke="#3A3A3A" stroke-width="0.7"/>
<line x1="419.53" y1="737.65" x2="410.24" y2="747.46" stroke="#3A3A3A" stroke-width="0.7"/>
<line x1="467.35" y1="732.40" x2="480.84" y2="741.68" stroke="#3A3A3A" stroke-width="0.7"/>
<line x1="478.57" y1="722.94" x2="491.36" y2="734.15" stroke="#3A3A3A" stroke-width="0.7"/>
<line x1="480.84" y1="741.68" x2="491.36" y2="734.15" stroke="#3A3A3A" stroke-width="0.7"/>
<line x1="493.11" y1="784.60" x2="499.77" y2="791.26" stroke="#3A3A3A" stroke-width="0.7"/>
<circle cx="446.68" cy="702.26" r="2.50" fill="#56B4E9"/>
<circle cx="464.20" cy="704.89" r="2.50" fill="#56B4E9"/>
<circle cx="469.81" cy="707.87" r="2.50" fill="#56B4E9"/>
<circle cx="415.15" cy="709.62" r="2.50" fill="#56B4E9"/>
<circle cx="442.65" cy="706.99" r="2.50" fill="#56B4E9"/>
<circle cx="438.45" cy="710.50" r="2.50" fill="#56B4E9"/>
<circle cx="456.32" cy="708.40" r="2.50" fill="#56B4E9"/>
<circle cx="434.42" cy="714.53" r="2.50" fill="#56B4E9"/>
<circle cx="447.56" cy="711.02" r="2.50" fill="#56B4E9"/>
<circle cx="453.69" cy="712.78" r="2.50" fill="#56B4E9"/>
<circle cx="467.70" cy="714.53" r="3.60" fill="#56B4E9"/>
<circle cx="459.47" cy="716.28" r="2.50" fill="#56B4E9"/>
<circle cx="447.21" cy="715.40" r="2.50" fill="#56B4E9"/>
<circle cx="440.90" cy="717.15" r="2.50" fill="#56B4E9"/>
<circle cx="453.34" cy="717.68" r="2.50" fill="#56B4E9"/>
<circle cx="427.94" cy="718.91" r="2.50" fill="#56B4E9"/>
<circle cx="443.18" cy="721.53" r="3.10" fill="#56B4E9"/>
<circle cx="450.19" cy="723.29" r="2.50" fill="#56B4E9"/>
<circle cx="500.12" cy="711.90" r="2.50" fill="#56B4E9"/>
<circle cx="485.75" cy="719.78" r="2.50" fill="#56B4E9"/>
<circle cx="478.57" cy="722.94" r="2.50" fill="#56B4E9"/>
<circle cx="499.24" cy="722.06" r="2.50" fill="#56B4E9"/>
<circle cx="436.17" cy="727.14" r="2.50" fill="#56B4E9"/>
<circle cx="467.35" cy="732.40" r="2.50" fill="#56B4E9"/>
<circle cx="491.36" cy="734.15" r="2.50" fill="#56B4E9"/>
<circle cx="409.37" cy="735.20" r="2.50" fill="#56B4E9"/>
<circle cx="419.53" cy="737.65" r="2.50" fill="#56B4E9"/>
<circle cx="429.51" cy="736.95" r="2.50" fill="#56B4E9"/>
<circle cx="446.68" cy="735.20" r="2.50" fill="#56B4E9"/>
<circle cx="460.70" cy="739.58" r="2.50" fill="#56B4E9"/>
<circle cx="480.84" cy="741.68" r="2.50" fill="#56B4E9"/>
<circle cx="503.62" cy="740.28" r="2.50" fill="#56B4E9"/>
<circle cx="410.24" cy="747.46" r="2.50" fill="#56B4E9"/>
<circle cx="420.40" cy="746.41" r="2.50" fill="#56B4E9"/>
<circle cx="433.54" cy="743.08" r="2.50" fill="#56B4E9"/>
<circle cx="453.16" cy="746.59" r="2.50" fill="#56B4E9"/>
<circle cx="475.94" cy="749.04" r="3.10" fill="#56B4E9"/>
<circle cx="495.74" cy="747.81" r="3.10" fill="#56B4E9"/>
<circle cx="464.73" cy="753.95" r="3.10" fill="#56B4E9"/>
<circle cx="480.84" cy="753.95" r="2.50" fill="#56B4E9"/>
<circle cx="445.28" cy="756.92" r="3.10" fill="#56B4E9"/>
<circle cx="465.60" cy="760.60" r="2.50" fill="#56B4E9"/>
<circle cx="493.46" cy="759.73" r="2.50" fill="#56B4E9"/>
<circle cx="437.05" cy="763.93" r="2.50" fill="#56B4E9"/>
<circle cx="457.54" cy="762.35" r="2.50" fill="#56B4E9"/>
<circle cx="476.99" cy="766.21" r="2.50" fill="#56B4E9"/>
<circle cx="458.42" cy="770.59" r="2.50" fill="#56B4E9"/>
<circle cx="444.05" cy="777.07" r="2.50" fill="#56B4E9"/>
<circle cx="485.22" cy="776.72" r="2.50" fill="#56B4E9"/>
<circle cx="493.11" cy="784.60" r="2.50" fill="#56B4E9"/>
<circle cx="499.77" cy="791.26" r="2.50" fill="#56B4E9"/>
<circle cx="504.50" cy="797.74" r="2.50" fill="#56B4E9"/>
<line x1="567.34" y1="717.52" x2="564.49" y2="724.16" stroke="#C8C8C8" stroke-width="0.55"/>
<line x1="579.29" y1="716.95" x2="588.78" y2="718.47" stroke="#C8C8C8" stroke-width="0.55"/>
<line x1="588.78" y1="718.47" x2="592.96" y2="723.59" stroke="#C8C8C8" stroke-width="0.55"/>
<line x1="592.96" y1="723.59" x2="592.96" y2="731.18" stroke="#C8C8C8" stroke-width="0.55"/>
<line x1="592.96" y1="731.18" x2="598.65" y2="737.07" stroke="#C8C8C8" stroke-width="0.55"/>
<line x1="598.65" y1="737.07" x2="602.07" y2="740.86" stroke="#C8C8C8" stroke-width="0.55"/>
<line x1="602.07" y1="740.86" x2="608.52" y2="739.72" stroke="#C8C8C8" stroke-width="0.55"/>
<line x1="608.52" y1="739.72" x2="613.83" y2="742.19" stroke="#C8C8C8" stroke-width="0.55"/>
<line x1="613.83" y1="742.19" x2="618.58" y2="744.09" stroke="#C8C8C8" stroke-width="0.55"/>
<line x1="613.83" y1="742.19" x2="609.66" y2="745.99" stroke="#C8C8C8" stroke-width="0.55"/>
<line x1="618.58" y1="744.09" x2="624.27" y2="743.71" stroke="#C8C8C8" stroke-width="0.55"/>
<line x1="613.83" y1="742.19" x2="615.73" y2="735.55" stroke="#C8C8C8" stroke-width="0.55"/>
<line x1="615.73" y1="735.55" x2="618.58" y2="729.86" stroke="#C8C8C8" stroke-width="0.55"/>
<line x1="618.58" y1="729.86" x2="624.84" y2="733.65" stroke="#C8C8C8" stroke-width="0.55"/>
<line x1="618.58" y1="744.09" x2="616.68" y2="751.68" stroke="#C8C8C8" stroke-width="0.55"/>
<line x1="616.68" y1="751.68" x2="612.32" y2="756.43" stroke="#C8C8C8" stroke-width="0.55"/>
<line x1="610.42" y1="760.60" x2="609.09" y2="767.43" stroke="#C8C8C8" stroke-width="0.55"/>
<line x1="609.09" y1="767.43" x2="614.97" y2="768.19" stroke="#C8C8C8" stroke-width="0.55"/>
<line x1="609.09" y1="767.43" x2="602.45" y2="767.81" stroke="#C8C8C8" stroke-width="0.55"/>
<line x1="602.45" y1="767.81" x2="599.79" y2="762.50" stroke="#C8C8C8" stroke-width="0.55"/>
<line x1="599.79" y1="762.50" x2="594.86" y2="763.07" stroke="#C8C8C8" stroke-width="0.55"/>
<line x1="598.65" y1="755.48" x2="603.97" y2="753.58" stroke="#C8C8C8" stroke-width="0.55"/>
<line x1="614.97" y1="768.19" x2="621.05" y2="764.02" stroke="#C8C8C8" stroke-width="0.55"/>
<line x1="621.05" y1="764.02" x2="626.55" y2="766.86" stroke="#C8C8C8" stroke-width="0.55"/>
<line x1="634.71" y1="758.32" x2="634.33" y2="752.25" stroke="#C8C8C8" stroke-width="0.55"/>
<line x1="621.05" y1="764.02" x2="621.81" y2="757.38" stroke="#C8C8C8" stroke-width="0.55"/>
<line x1="621.81" y1="757.38" x2="625.60" y2="752.25" stroke="#C8C8C8" stroke-width="0.55"/>
<line x1="634.71" y1="764.97" x2="638.51" y2="770.66" stroke="#C8C8C8" stroke-width="0.55"/>
<line x1="618.58" y1="729.86" x2="614.21" y2="722.83" stroke="#C8C8C8" stroke-width="0.55"/>
<line x1="602.07" y1="740.86" x2="595.80" y2="746.56" stroke="#C8C8C8" stroke-width="0.55"/>
<line x1="595.80" y1="746.56" x2="591.63" y2="742.19" stroke="#C8C8C8" stroke-width="0.55"/>
<line x1="591.63" y1="742.19" x2="585.75" y2="740.29" stroke="#C8C8C8" stroke-width="0.55"/>
<line x1="585.75" y1="740.29" x2="582.52" y2="735.17" stroke="#C8C8C8" stroke-width="0.55"/>
<line x1="582.52" y1="735.17" x2="577.21" y2="737.45" stroke="#C8C8C8" stroke-width="0.55"/>
<line x1="595.80" y1="746.56" x2="590.30" y2="752.63" stroke="#C8C8C8" stroke-width="0.55"/>
<line x1="590.30" y1="752.63" x2="583.09" y2="748.46" stroke="#C8C8C8" stroke-width="0.55"/>
<line x1="575.88" y1="746.94" x2="569.23" y2="749.40" stroke="#C8C8C8" stroke-width="0.55"/>
<line x1="609.09" y1="767.43" x2="607.57" y2="776.35" stroke="#C8C8C8" stroke-width="0.55"/>
<line x1="607.57" y1="776.35" x2="612.51" y2="780.53" stroke="#C8C8C8" stroke-width="0.55"/>
<line x1="634.71" y1="758.32" x2="643.63" y2="756.43" stroke="#C8C8C8" stroke-width="0.55"/>
<line x1="615.73" y1="735.55" x2="608.14" y2="730.24" stroke="#C8C8C8" stroke-width="0.55"/>
<line x1="603.78" y1="724.16" x2="604.35" y2="715.05" stroke="#C8C8C8" stroke-width="0.55"/>
<line x1="638.51" y1="770.66" x2="630.54" y2="776.35" stroke="#C8C8C8" stroke-width="0.55"/>
<line x1="630.54" y1="776.35" x2="630.54" y2="782.62" stroke="#C8C8C8" stroke-width="0.55"/>
<line x1="630.54" y1="776.35" x2="621.43" y2="775.78" stroke="#C8C8C8" stroke-width="0.55"/>
<line x1="630.54" y1="782.62" x2="640.03" y2="781.10" stroke="#C8C8C8" stroke-width="0.55"/>
<line x1="630.54" y1="782.62" x2="622.00" y2="787.74" stroke="#C8C8C8" stroke-width="0.55"/>
<line x1="602.45" y1="767.81" x2="595.24" y2="774.84" stroke="#C8C8C8" stroke-width="0.55"/>
<line x1="595.24" y1="774.84" x2="589.54" y2="779.58" stroke="#C8C8C8" stroke-width="0.55"/>
<line x1="594.86" y1="763.07" x2="584.99" y2="766.30" stroke="#C8C8C8" stroke-width="0.55"/>
<line x1="612.51" y1="780.53" x2="604.35" y2="787.36" stroke="#C8C8C8" stroke-width="0.55"/>
<line x1="637.94" y1="745.42" x2="643.25" y2="735.17" stroke="#C8C8C8" stroke-width="0.55"/>
<line x1="624.84" y1="733.65" x2="630.92" y2="722.64" stroke="#C8C8C8" stroke-width="0.55"/>
<line x1="630.92" y1="722.64" x2="624.84" y2="716.00" stroke="#C8C8C8" stroke-width="0.55"/>
<line x1="643.25" y1="735.17" x2="653.31" y2="721.69" stroke="#C8C8C8" stroke-width="0.55"/>
<line x1="634.71" y1="758.32" x2="634.71" y2="764.97" stroke="#C8C8C8" stroke-width="0.55"/>
<line x1="624.84" y1="733.65" x2="615.73" y2="735.55" stroke="#C8C8C8" stroke-width="0.55"/>
<line x1="614.21" y1="722.83" x2="608.14" y2="730.24" stroke="#C8C8C8" stroke-width="0.55"/>
<line x1="615.73" y1="735.55" x2="608.52" y2="739.72" stroke="#C8C8C8" stroke-width="0.55"/>
<line x1="624.84" y1="733.65" x2="624.27" y2="743.71" stroke="#C8C8C8" stroke-width="0.55"/>
<line x1="598.65" y1="737.07" x2="591.63" y2="742.19" stroke="#C8C8C8" stroke-width="0.55"/>
<line x1="599.79" y1="762.50" x2="609.09" y2="767.43" stroke="#C8C8C8" stroke-width="0.55"/>
<line x1="598.65" y1="755.48" x2="594.86" y2="763.07" stroke="#C8C8C8" stroke-width="0.55"/>
<line x1="603.78" y1="724.16" x2="614.21" y2="722.83" stroke="#C8C8C8" stroke-width="0.55"/>
<line x1="610.42" y1="760.60" x2="621.05" y2="764.02" stroke="#C8C8C8" stroke-width="0.55"/>
<line x1="594.86" y1="763.07" x2="602.45" y2="767.81" stroke="#C8C8C8" stroke-width="0.55"/>
<line x1="582.52" y1="735.17" x2="591.63" y2="742.19" stroke="#C8C8C8" stroke-width="0.55"/>
<line x1="616.68" y1="751.68" x2="621.81" y2="757.38" stroke="#C8C8C8" stroke-width="0.55"/>
<line x1="592.96" y1="731.18" x2="591.63" y2="742.19" stroke="#C8C8C8" stroke-width="0.55"/>
<line x1="634.33" y1="752.25" x2="643.63" y2="756.43" stroke="#C8C8C8" stroke-width="0.55"/>
<line x1="624.27" y1="743.71" x2="616.68" y2="751.68" stroke="#C8C8C8" stroke-width="0.55"/>
<line x1="612.32" y1="756.43" x2="621.05" y2="764.02" stroke="#C8C8C8" stroke-width="0.55"/>
<line x1="602.07" y1="740.86" x2="613.83" y2="742.19" stroke="#C8C8C8" stroke-width="0.55"/>
<line x1="634.33" y1="752.25" x2="629.97" y2="762.12" stroke="#C8C8C8" stroke-width="0.55"/>
<line x1="595.80" y1="746.56" x2="598.65" y2="755.48" stroke="#C8C8C8" stroke-width="0.55"/>
<line x1="625.60" y1="752.25" x2="629.97" y2="762.12" stroke="#C8C8C8" stroke-width="0.55"/>
<line x1="614.97" y1="768.19" x2="626.55" y2="766.86" stroke="#C8C8C8" stroke-width="0.55"/>
<line x1="615.73" y1="735.55" x2="618.58" y2="744.09" stroke="#C8C8C8" stroke-width="0.55"/>
<line x1="595.80" y1="746.56" x2="603.97" y2="753.58" stroke="#C8C8C8" stroke-width="0.55"/>
<line x1="614.97" y1="768.19" x2="612.51" y2="780.53" stroke="#C8C8C8" stroke-width="0.55"/>
<line x1="618.58" y1="744.09" x2="609.66" y2="745.99" stroke="#C8C8C8" stroke-width="0.55"/>
<line x1="590.30" y1="752.63" x2="599.79" y2="762.50" stroke="#C8C8C8" stroke-width="0.55"/>
<line x1="585.75" y1="740.29" x2="583.09" y2="748.46" stroke="#C8C8C8" stroke-width="0.55"/>
<line x1="618.58" y1="744.09" x2="625.60" y2="752.25" stroke="#C8C8C8" stroke-width="0.55"/>
<line x1="621.81" y1="757.38" x2="626.55" y2="766.86" stroke="#C8C8C8" stroke-width="0.55"/>
<line x1="618.58" y1="744.09" x2="621.81" y2="757.38" stroke="#C8C8C8" stroke-width="0.55"/>
<line x1="584.99" y1="766.30" x2="589.54" y2="779.58" stroke="#C8C8C8" stroke-width="0.55"/>
<line x1="608.14" y1="730.24" x2="608.52" y2="739.72" stroke="#C8C8C8" stroke-width="0.55"/>
<line x1="614.21" y1="722.83" x2="615.73" y2="735.55" stroke="#C8C8C8" stroke-width="0.55"/>
<line x1="594.86" y1="763.07" x2="595.24" y2="774.84" stroke="#C8C8C8" stroke-width="0.55"/>
<line x1="599.79" y1="762.50" x2="610.42" y2="760.60" stroke="#C8C8C8" stroke-width="0.55"/>
<line x1="624.84" y1="733.65" x2="618.58" y2="744.09" stroke="#C8C8C8" stroke-width="0.55"/>
<line x1="608.14" y1="730.24" x2="598.65" y2="737.07" stroke="#C8C8C8" stroke-width="0.55"/>
<line x1="582.52" y1="735.17" x2="575.88" y2="746.94" stroke="#C8C8C8" stroke-width="0.55"/>
<line x1="625.60" y1="752.25" x2="626.55" y2="766.86" stroke="#C8C8C8" stroke-width="0.55"/>
<line x1="608.14" y1="730.24" x2="618.58" y2="729.86" stroke="#C8C8C8" stroke-width="0.55"/>
<line x1="621.05" y1="764.02" x2="621.43" y2="775.78" stroke="#C8C8C8" stroke-width="0.55"/>
<line x1="567.34" y1="717.52" x2="579.29" y2="716.95" stroke="#3A3A3A" stroke-width="0.7"/>
<line x1="612.32" y1="756.43" x2="610.42" y2="760.60" stroke="#3A3A3A" stroke-width="0.7"/>
<line x1="599.79" y1="762.50" x2="598.65" y2="755.48" stroke="#3A3A3A" stroke-width="0.7"/>
<line x1="626.55" y1="766.86" x2="629.97" y2="762.12" stroke="#3A3A3A" stroke-width="0.7"/>
<line x1="629.97" y1="762.12" x2="634.71" y2="764.97" stroke="#3A3A3A" stroke-width="0.7"/>
<line x1="629.97" y1="762.12" x2="634.71" y2="758.32" stroke="#3A3A3A" stroke-width="0.7"/>
<line x1="634.33" y1="752.25" x2="637.94" y2="745.42" stroke="#3A3A3A" stroke-width="0.7"/>
<line x1="583.09" y1="748.46" x2="575.88" y2="746.94" stroke="#3A3A3A" stroke-width="0.7"/>
<line x1="608.14" y1="730.24" x2="603.78" y2="724.16" stroke="#3A3A3A" stroke-width="0.7"/>
<line x1="601.12" y1="702.72" x2="610.42" y2="703.66" stroke="#3A3A3A" stroke-width="0.7"/>
<line x1="608.52" y1="739.72" x2="609.66" y2="745.99" stroke="#3A3A3A" stroke-width="0.7"/>
<line x1="598.65" y1="737.07" x2="595.80" y2="746.56" stroke="#3A3A3A" stroke-width="0.7"/>
<line x1="616.68" y1="751.68" x2="625.60" y2="752.25" stroke="#3A3A3A" stroke-width="0.7"/>
<line x1="626.55" y1="766.86" x2="621.43" y2="775.78" stroke="#3A3A3A" stroke-width="0.7"/>
<line x1="625.60" y1="752.25" x2="634.33" y2="752.25" stroke="#3A3A3A" stroke-width="0.7"/>
<line x1="612.32" y1="756.43" x2="621.81" y2="757.38" stroke="#3A3A3A" stroke-width="0.7"/>
<line x1="607.57" y1="776.35" x2="604.35" y2="787.36" stroke="#3A3A3A" stroke-width="0.7"/>
<line x1="591.63" y1="742.19" x2="590.30" y2="752.63" stroke="#3A3A3A" stroke-width="0.7"/>
<line x1="614.97" y1="768.19" x2="621.43" y2="775.78" stroke="#3A3A3A" stroke-width="0.7"/>
<line x1="610.42" y1="760.60" x2="614.97" y2="768.19" stroke="#3A3A3A" stroke-width="0.7"/>
<line x1="615.73" y1="735.55" x2="609.66" y2="745.99" stroke="#3A3A3A" stroke-width="0.7"/>
<line x1="625.60" y1="752.25" x2="634.71" y2="758.32" stroke="#3A3A3A" stroke-width="0.7"/>
<line x1="562.97" y1="707.08" x2="567.34" y2="717.52" stroke="#3A3A3A" stroke-width="0.7"/>
<line x1="567.34" y1="717.52" x2="577.21" y2="737.45" stroke="#3A3A3A" stroke-width="0.7"/>
<line x1="601.12" y1="702.72" x2="604.35" y2="715.05" stroke="#3A3A3A" stroke-width="0.7"/>
<line x1="579.29" y1="716.95" x2="604.35" y2="715.05" stroke="#3A3A3A" stroke-width="0.7"/>
<line x1="658.44" y1="712.40" x2="653.31" y2="721.69" stroke="#3A3A3A" stroke-width="0.7"/>
<line x1="630.54" y1="776.35" x2="640.03" y2="781.10" stroke="#3A3A3A" stroke-width="0.7"/>
<line x1="640.03" y1="781.10" x2="649.52" y2="788.69" stroke="#3A3A3A" stroke-width="0.7"/>
<line x1="604.35" y1="787.36" x2="597.70" y2="798.18" stroke="#3A3A3A" stroke-width="0.7"/>
<line x1="573.98" y1="775.41" x2="584.99" y2="766.30" stroke="#3A3A3A" stroke-width="0.7"/>
<line x1="643.25" y1="735.17" x2="625.60" y2="752.25" stroke="#3A3A3A" stroke-width="0.7"/>
<circle cx="562.97" cy="707.08" r="2.50" fill="#56B4E9"/>
<circle cx="601.12" cy="702.72" r="2.50" fill="#56B4E9"/>
<circle cx="610.42" cy="703.66" r="2.50" fill="#56B4E9"/>
<circle cx="658.44" cy="712.40" r="2.50" fill="#56B4E9"/>
<circle cx="567.34" cy="717.52" r="2.50" fill="#56B4E9"/>
<circle cx="579.29" cy="716.95" r="2.50" fill="#56B4E9"/>
<circle cx="588.78" cy="718.47" r="2.50" fill="#56B4E9"/>
<circle cx="604.35" cy="715.05" r="2.50" fill="#56B4E9"/>
<circle cx="624.84" cy="716.00" r="2.50" fill="#56B4E9"/>
<circle cx="564.49" cy="724.16" r="2.50" fill="#56B4E9"/>
<circle cx="592.96" cy="723.59" r="2.50" fill="#56B4E9"/>
<circle cx="603.78" cy="724.16" r="2.50" fill="#56B4E9"/>
<circle cx="614.21" cy="722.83" r="2.50" fill="#56B4E9"/>
<circle cx="630.92" cy="722.64" r="2.50" fill="#56B4E9"/>
<circle cx="653.31" cy="721.69" r="2.50" fill="#56B4E9"/>
<circle cx="592.96" cy="731.18" r="2.50" fill="#56B4E9"/>
<circle cx="608.14" cy="730.24" r="2.50" fill="#56B4E9"/>
<circle cx="618.58" cy="729.86" r="2.50" fill="#56B4E9"/>
<circle cx="624.84" cy="733.65" r="2.50" fill="#56B4E9"/>
<circle cx="582.52" cy="735.17" r="2.50" fill="#56B4E9"/>
<circle cx="577.21" cy="737.45" r="2.50" fill="#56B4E9"/>
<circle cx="598.65" cy="737.07" r="2.50" fill="#56B4E9"/>
<circle cx="615.73" cy="735.55" r="2.50" fill="#56B4E9"/>
<circle cx="643.25" cy="735.17" r="2.50" fill="#56B4E9"/>
<circle cx="585.75" cy="740.29" r="2.50" fill="#56B4E9"/>
<circle cx="602.07" cy="740.86" r="2.50" fill="#56B4E9"/>
<circle cx="608.52" cy="739.72" r="2.50" fill="#56B4E9"/>
<circle cx="591.63" cy="742.19" r="2.50" fill="#56B4E9"/>
<circle cx="613.83" cy="742.19" r="2.50" fill="#56B4E9"/>
<circle cx="624.27" cy="743.71" r="2.50" fill="#56B4E9"/>
<circle cx="618.58" cy="744.09" r="2.50" fill="#56B4E9"/>
<circle cx="575.88" cy="746.94" r="3.10" fill="#56B4E9"/>
<circle cx="569.23" cy="749.40" r="3.10" fill="#56B4E9"/>
<circle cx="583.09" cy="748.46" r="2.50" fill="#56B4E9"/>
<circle cx="595.80" cy="746.56" r="2.50" fill="#56B4E9"/>
<circle cx="609.66" cy="745.99" r="2.50" fill="#56B4E9"/>
<circle cx="637.94" cy="745.42" r="2.50" fill="#56B4E9"/>
<circle cx="590.30" cy="752.63" r="2.50" fill="#56B4E9"/>
<circle cx="598.65" cy="755.48" r="2.50" fill="#56B4E9"/>
<circle cx="603.97" cy="753.58" r="2.50" fill="#56B4E9"/>
<circle cx="616.68" cy="751.68" r="3.60" fill="#56B4E9"/>
<circle cx="625.60" cy="752.25" r="2.50" fill="#56B4E9"/>
<circle cx="634.33" cy="752.25" r="2.50" fill="#56B4E9"/>
<circle cx="612.32" cy="756.43" r="2.50" fill="#56B4E9"/>
<circle cx="621.81" cy="757.38" r="2.50" fill="#56B4E9"/>
<circle cx="643.63" cy="756.43" r="2.50" fill="#56B4E9"/>
<circle cx="634.71" cy="758.32" r="2.50" fill="#56B4E9"/>
<circle cx="594.86" cy="763.07" r="2.50" fill="#56B4E9"/>
<circle cx="599.79" cy="762.50" r="2.50" fill="#56B4E9"/>
<circle cx="610.42" cy="760.60" r="2.50" fill="#56B4E9"/>
<circle cx="584.99" cy="766.30" r="2.50" fill="#56B4E9"/>
<circle cx="602.45" cy="767.81" r="2.50" fill="#56B4E9"/>
<circle cx="609.09" cy="767.43" r="2.50" fill="#56B4E9"/>
<circle cx="614.97" cy="768.19" r="3.10" fill="#56B4E9"/>
<circle cx="621.05" cy="764.02" r="2.50" fill="#56B4E9"/>
<circle cx="626.55" cy="766.86" r="2.50" fill="#56B4E9"/>
<circle cx="629.97" cy="762.12" r="2.50" fill="#56B4E9"/>
<circle cx="634.71" cy="764.97" r="2.50" fill="#56B4E9"/>
<circle cx="638.51" cy="770.66" r="2.50" fill="#56B4E9"/>
<circle cx="573.98" cy="775.41" r="2.50" fill="#56B4E9"/>
<circle cx="595.24" cy="774.84" r="2.50" fill="#56B4E9"/>
<circle cx="607.57" cy="776.35" r="2.50" fill="#56B4E9"/>
<circle cx="621.43" cy="775.78" r="2.50" fill="#56B4E9"/>
<circle cx="630.54" cy="776.35" r="2.50" fill="#56B4E9"/>
<circle cx="589.54" cy="779.58" r="2.50" fill="#56B4E9"/>
<circle cx="612.51" cy="780.53" r="2.50" fill="#56B4E9"/>
<circle cx="640.03" cy="781.10" r="2.50" fill="#56B4E9"/>
<circle cx="630.54" cy="782.62" r="2.50" fill="#56B4E9"/>
<circle cx="649.52" cy="788.69" r="2.50" fill="#56B4E9"/>
<circle cx="604.35" cy="787.36" r="2.50" fill="#56B4E9"/>
<circle cx="622.00" cy="787.74" r="2.50" fill="#56B4E9"/>
<circle cx="597.70" cy="798.18" r="2.50" fill="#56B4E9"/>
</svg>
</body></html>
